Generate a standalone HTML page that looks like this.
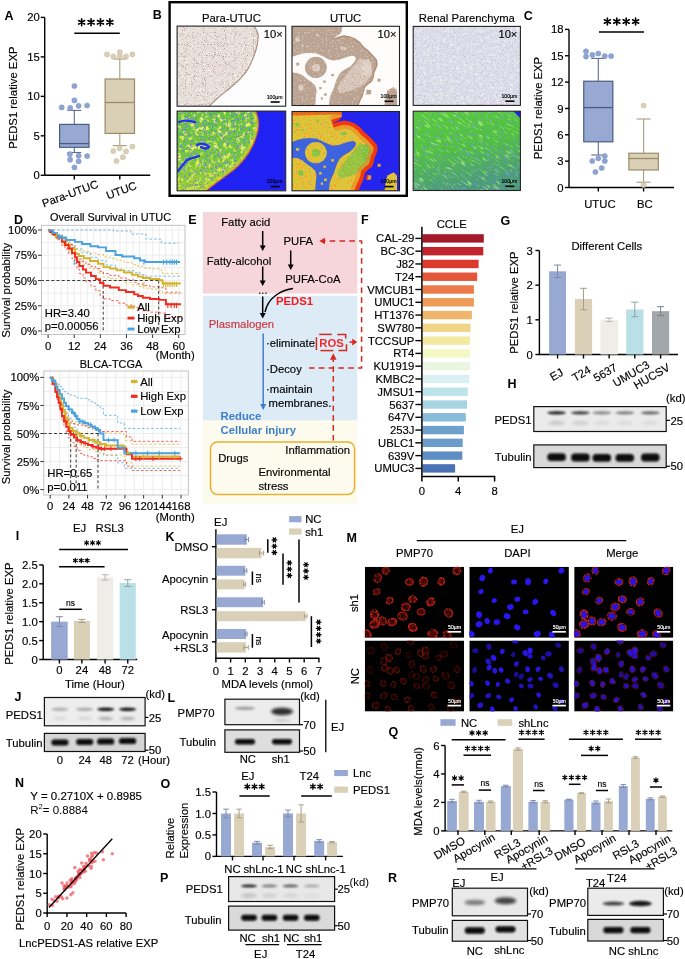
<!DOCTYPE html>
<html><head><meta charset="utf-8"><style>
html,body{margin:0;padding:0;background:#fff;}
svg{display:block;font-family:"Liberation Sans",sans-serif;will-change:transform;}
</style></head><body>
<svg width="685" height="959" viewBox="0 0 685 959">
<defs><filter id="nzBrownDark" filterUnits="userSpaceOnUse" x="0" y="0" width="685" height="959"><feTurbulence type="fractalNoise" baseFrequency="0.9" numOctaves="2" seed="3"/><feColorMatrix type="matrix" values="0 0 0 0 0.55 0 0 0 0 0.35 0 0 0 0 0.3 2.4 0 0 0 -1.05"/></filter><filter id="nzBrownLight" filterUnits="userSpaceOnUse" x="0" y="0" width="685" height="959"><feTurbulence type="fractalNoise" baseFrequency="0.35" numOctaves="2" seed="5"/><feColorMatrix type="matrix" values="0 0 0 0 0.8 0 0 0 0 0.7 0 0 0 0 0.66 2.2 0 0 0 -0.9"/></filter><filter id="nzLav" filterUnits="userSpaceOnUse" x="0" y="0" width="685" height="959"><feTurbulence type="fractalNoise" baseFrequency="0.9" numOctaves="2" seed="7"/><feColorMatrix type="matrix" values="0 0 0 0 0.45 0 0 0 0 0.48 0 0 0 0 0.72 2.2 0 0 0 -0.95"/></filter><filter id="nzWhite" filterUnits="userSpaceOnUse" x="0" y="0" width="685" height="959"><feTurbulence type="fractalNoise" baseFrequency="0.3" numOctaves="2" seed="11"/><feColorMatrix type="matrix" values="0 0 0 0 1 0 0 0 0 1 0 0 0 0 1 2.5 0 0 0 -1.1"/></filter><filter id="nzYel" filterUnits="userSpaceOnUse" x="0" y="0" width="685" height="959"><feTurbulence type="fractalNoise" baseFrequency="0.7" numOctaves="2" seed="13"/><feColorMatrix type="matrix" values="0 0 0 0 0.95 0 0 0 0 0.95 0 0 0 0 0.15 2.6 0 0 0 -1.15"/></filter><filter id="nzBlue" filterUnits="userSpaceOnUse" x="0" y="0" width="685" height="959"><feTurbulence type="fractalNoise" baseFrequency="0.6" numOctaves="2" seed="17"/><feColorMatrix type="matrix" values="0 0 0 0 0.15 0 0 0 0 0.2 0 0 0 0 0.95 2.6 0 0 0 -1.2"/></filter><filter id="nzGreen" filterUnits="userSpaceOnUse" x="0" y="0" width="685" height="959"><feTurbulence type="fractalNoise" baseFrequency="0.8" numOctaves="2" seed="19"/><feColorMatrix type="matrix" values="0 0 0 0 0.35 0 0 0 0 0.8 0 0 0 0 0.2 2.4 0 0 0 -1.05"/></filter><filter id="nzRed" filterUnits="userSpaceOnUse" x="0" y="0" width="685" height="959"><feTurbulence type="fractalNoise" baseFrequency="0.7" numOctaves="2" seed="23"/><feColorMatrix type="matrix" values="0 0 0 0 0.95 0 0 0 0 0.25 0 0 0 0 0.1 2.6 0 0 0 -1.2"/></filter><filter id="nzBlueS" filterUnits="userSpaceOnUse" x="0" y="0" width="685" height="959"><feTurbulence type="fractalNoise" baseFrequency="0.12" numOctaves="3" seed="29"/><feColorMatrix type="matrix" values="0 0 0 0 0.15 0 0 0 0 0.25 0 0 0 0 0.85 3.0 0 0 0 -1.45"/></filter><filter id="nzYelS" filterUnits="userSpaceOnUse" x="0" y="0" width="685" height="959"><feTurbulence type="fractalNoise" baseFrequency="0.1" numOctaves="3" seed="31"/><feColorMatrix type="matrix" values="0 0 0 0 0.9 0 0 0 0 0.92 0 0 0 0 0.25 3.0 0 0 0 -1.4"/></filter><filter id="cYel" filterUnits="userSpaceOnUse" x="0" y="0" width="685" height="959"><feTurbulence type="fractalNoise" baseFrequency="0.22" numOctaves="2" seed="41"/><feColorMatrix type="matrix" values="0 0 0 0 0.82 0 0 0 0 0.9 0 0 0 0 0.12 5 0 0 0 -2.5"/></filter><filter id="cBlue" filterUnits="userSpaceOnUse" x="0" y="0" width="685" height="959"><feTurbulence type="fractalNoise" baseFrequency="0.45" numOctaves="2" seed="43"/><feColorMatrix type="matrix" values="0 0 0 0 0.13 0 0 0 0 0.19 0 0 0 0 0.94 9 0 0 0 -5.3999999999999995"/></filter><filter id="cBlue2" filterUnits="userSpaceOnUse" x="0" y="0" width="685" height="959"><feTurbulence type="fractalNoise" baseFrequency="0.9" numOctaves="2" seed="45"/><feColorMatrix type="matrix" values="0 0 0 0 0.15 0 0 0 0 0.22 0 0 0 0 0.9 8 0 0 0 -4.96"/></filter><filter id="cGreen" filterUnits="userSpaceOnUse" x="0" y="0" width="685" height="959"><feTurbulence type="fractalNoise" baseFrequency="0.6" numOctaves="2" seed="47"/><feColorMatrix type="matrix" values="0 0 0 0 0.3 0 0 0 0 0.78 0 0 0 0 0.22 7 0 0 0 -3.8500000000000005"/></filter><filter id="cOr" filterUnits="userSpaceOnUse" x="0" y="0" width="685" height="959"><feTurbulence type="fractalNoise" baseFrequency="0.7" numOctaves="2" seed="49"/><feColorMatrix type="matrix" values="0 0 0 0 0.95 0 0 0 0 0.5 0 0 0 0 0.12 8 0 0 0 -5.12"/></filter><filter id="cSpeck" filterUnits="userSpaceOnUse" x="0" y="0" width="685" height="959"><feTurbulence type="fractalNoise" baseFrequency="1.1" numOctaves="1" seed="51"/><feColorMatrix type="matrix" values="0 0 0 0 0.5 0 0 0 0 0.33 0 0 0 0 0.27 6 0 0 0 -3.4799999999999995"/></filter><filter id="cSpeckW" filterUnits="userSpaceOnUse" x="0" y="0" width="685" height="959"><feTurbulence type="fractalNoise" baseFrequency="0.5" numOctaves="2" seed="53"/><feColorMatrix type="matrix" values="0 0 0 0 0.97 0 0 0 0 0.95 0 0 0 0 0.94 5 0 0 0 -2.75"/></filter><filter id="cLavS" filterUnits="userSpaceOnUse" x="0" y="0" width="685" height="959"><feTurbulence type="fractalNoise" baseFrequency="1.1" numOctaves="1" seed="55"/><feColorMatrix type="matrix" values="0 0 0 0 0.4 0 0 0 0 0.43 0 0 0 0 0.7 6 0 0 0 -3.4799999999999995"/></filter><filter id="cRenB" filterUnits="userSpaceOnUse" x="0" y="0" width="685" height="959"><feTurbulence type="fractalNoise" baseFrequency="0.18 0.9" numOctaves="2" seed="57"/><feColorMatrix type="matrix" values="0 0 0 0 0.2 0 0 0 0 0.3 0 0 0 0 0.85 6 0 0 0 -3.42"/></filter><filter id="cRenY" filterUnits="userSpaceOnUse" x="0" y="0" width="685" height="959"><feTurbulence type="fractalNoise" baseFrequency="0.12 0.7" numOctaves="2" seed="59"/><feColorMatrix type="matrix" values="0 0 0 0 0.45 0 0 0 0 0.92 0 0 0 0 0.16 5 0 0 0 -2.75"/></filter><filter id="cRed" filterUnits="userSpaceOnUse" x="0" y="0" width="685" height="959"><feTurbulence type="fractalNoise" baseFrequency="0.55" numOctaves="2" seed="61"/><feColorMatrix type="matrix" values="0 0 0 0 0.95 0 0 0 0 0.22 0 0 0 0 0.08 7 0 0 0 -4.06"/></filter><clipPath id="cp1"><rect x="177.1" y="26.1" width="108.6" height="80.1"/></clipPath><clipPath id="cpT1"><path d="M176.1 25.1 L253.12 24.50 C253.93 26.10 257.37 30.51 258.01 34.11 C258.64 37.71 257.74 42.12 256.92 46.12 C256.11 50.13 254.66 54.27 253.12 58.14 C251.58 62.01 249.86 65.88 247.69 69.35 C245.52 72.83 242.98 75.90 240.09 78.97 C237.19 82.04 233.75 84.84 230.31 87.78 C226.88 90.71 223.25 93.25 219.45 96.59 C215.65 99.93 209.50 105.93 207.51 107.80 L176.1 107.2 Z"/></clipPath><clipPath id="cp4"><rect x="177.1" y="111.1" width="108.6" height="79.70000000000002"/></clipPath><clipPath id="cpT4"><path d="M176.1 110.1 L255.29 109.51 C255.80 111.37 257.97 116.94 258.33 120.66 C258.69 124.38 258.33 127.84 257.46 131.82 C256.60 135.81 254.93 140.59 253.12 144.57 C251.31 148.56 249.14 152.15 246.60 155.73 C244.07 159.32 241.17 162.91 237.92 166.09 C234.66 169.28 230.68 172.07 227.06 174.86 C223.44 177.65 220.00 179.91 216.20 182.83 C212.40 185.75 206.24 190.80 204.25 192.39 L176.1 191.8 Z"/></clipPath><linearGradient id="gH1" x1="0" y1="0" x2="0" y2="1"><stop offset="0" stop-color="#c8e020" stop-opacity="0"/><stop offset="0.55" stop-color="#c8e020" stop-opacity="0.15"/><stop offset="1" stop-color="#d0e020" stop-opacity="0.55"/></linearGradient><filter id="blv" x="-20%" y="-20%" width="140%" height="140%"><feGaussianBlur stdDeviation="0.6"/></filter><clipPath id="cp2"><rect x="292.0" y="26.3" width="107.5" height="79.2"/></clipPath><mask id="mT2"><rect x="0" y="0" width="685" height="959" fill="#000"/><path d="M291.00 26.00 L342.07 26.00 L341.75 31.62 L339.18 34.83 L334.36 37.24 L332.43 38.53 L337.57 36.92 L344.00 35.31 L350.42 36.44 L355.24 38.53 L360.05 42.06 L364.07 46.88 L368.08 50.09 L372.90 54.91 L376.92 59.72 L377.72 64.54 L376.11 69.36 L374.51 72.57 L373.70 77.39 L372.10 81.40 L368.08 84.62 L364.87 87.83 L364.07 91.84 L362.46 96.66 L360.05 101.48 L357.65 107.90 L291.00 107.90 Z" fill="#fff"/><path d="M291.00 57.32 L297.42 54.91 L303.85 53.30 L310.27 52.98 L316.69 53.62 L323.12 56.51 L327.94 58.92 L332.75 60.53 L339.18 59.72 L344.00 58.12 L348.81 56.51 L353.63 55.71 L356.04 58.12 L355.24 60.53 L352.83 63.74 L350.42 66.15 L346.40 68.56 L342.39 70.97 L339.18 74.18 L336.77 79.00 L335.16 83.81 L333.56 88.63 L331.15 93.45 L329.54 98.27 L328.74 107.90 L315.09 107.90 L315.89 96.66 L316.69 90.24 L315.09 85.42 L311.88 82.21 L307.06 79.00 L302.24 74.98 L297.42 72.89 L291.00 72.57 Z" fill="#000"/><ellipse cx="315.89" cy="67.43" rx="10.92" ry="10.60" fill="#fff"/><path d="M387.35 90.24 L393.78 87.02 L396.99 90.24 L396.99 107.90 L384.14 107.90 L385.75 96.66 Z" fill="#fff"/><path d="M366.48 89.43 L371.30 90.24 L370.97 94.25 L366.16 94.73 Z" fill="#fff"/><path d="M377.72 78.19 L380.93 79.00 L380.29 81.89 L377.40 81.40 Z" fill="#fff"/><path d="M318.30 74.18 L320.23 74.50 L319.91 76.59 L317.98 76.10 Z" fill="#fff"/><path d="M323.12 80.60 L325.53 80.28 L326.01 82.53 L323.60 83.17 Z" fill="#fff"/><path d="M319.10 87.02 L321.51 86.70 L321.83 88.95 L319.26 89.43 Z" fill="#fff"/><path d="M323.92 93.45 L326.65 93.13 L326.97 95.54 L324.24 96.02 Z" fill="#fff"/><path d="M331.15 74.18 L333.56 73.53 L334.04 76.10 L331.47 76.59 Z" fill="#fff"/><path d="M320.71 97.46 L322.80 97.14 L322.96 99.55 L320.87 99.87 Z" fill="#fff"/><path d="M295.82 62.94 L299.03 62.61 L299.35 65.34 L296.14 65.67 Z" fill="#fff"/></mask><mask id="mT5"><rect x="0" y="0" width="685" height="959" fill="#000"/><path d="M291.00 111.20 L342.07 111.20 L341.75 116.82 L339.18 120.03 L334.36 122.44 L332.43 123.73 L337.57 122.12 L344.00 120.51 L350.42 121.64 L355.24 123.73 L360.05 127.26 L364.07 132.08 L368.08 135.29 L372.90 140.11 L376.92 144.92 L377.72 149.74 L376.11 154.56 L374.51 157.77 L373.70 162.59 L372.10 166.60 L368.08 169.82 L364.87 173.03 L364.07 177.04 L362.46 181.86 L360.05 186.68 L357.65 193.10 L291.00 193.10 Z" fill="#fff"/><path d="M291.00 142.52 L297.42 140.11 L303.85 138.50 L310.27 138.18 L316.69 138.82 L323.12 141.71 L327.94 144.12 L332.75 145.73 L339.18 144.92 L344.00 143.32 L348.81 141.71 L353.63 140.91 L356.04 143.32 L355.24 145.73 L352.83 148.94 L350.42 151.35 L346.40 153.76 L342.39 156.17 L339.18 159.38 L336.77 164.20 L335.16 169.01 L333.56 173.83 L331.15 178.65 L329.54 183.47 L328.74 193.10 L315.09 193.10 L315.89 181.86 L316.69 175.44 L315.09 170.62 L311.88 167.41 L307.06 164.20 L302.24 160.18 L297.42 158.09 L291.00 157.77 Z" fill="#000"/><ellipse cx="315.89" cy="152.63" rx="10.92" ry="10.60" fill="#fff"/><path d="M387.35 175.44 L393.78 172.22 L396.99 175.44 L396.99 193.10 L384.14 193.10 L385.75 181.86 Z" fill="#fff"/><path d="M366.48 174.63 L371.30 175.44 L370.97 179.45 L366.16 179.93 Z" fill="#fff"/><path d="M377.72 163.39 L380.93 164.20 L380.29 167.09 L377.40 166.60 Z" fill="#fff"/><path d="M318.30 159.38 L320.23 159.70 L319.91 161.79 L317.98 161.30 Z" fill="#fff"/><path d="M323.12 165.80 L325.53 165.48 L326.01 167.73 L323.60 168.37 Z" fill="#fff"/><path d="M319.10 172.22 L321.51 171.90 L321.83 174.15 L319.26 174.63 Z" fill="#fff"/><path d="M323.92 178.65 L326.65 178.33 L326.97 180.74 L324.24 181.22 Z" fill="#fff"/><path d="M331.15 159.38 L333.56 158.73 L334.04 161.30 L331.47 161.79 Z" fill="#fff"/><path d="M320.71 182.66 L322.80 182.34 L322.96 184.75 L320.87 185.07 Z" fill="#fff"/><path d="M295.82 148.14 L299.03 147.81 L299.35 150.54 L296.14 150.87 Z" fill="#fff"/></mask><clipPath id="cp5"><rect x="292.0" y="111.5" width="107.5" height="79.30000000000001"/></clipPath><clipPath id="cp3"><rect x="413.2" y="26.4" width="107.19999999999999" height="79.0"/></clipPath><clipPath id="cp6"><rect x="413.2" y="111.2" width="107.19999999999999" height="79.3"/></clipPath><linearGradient id="gRen" x1="0" y1="0" x2="0.3" y2="1"><stop offset="0" stop-color="#58cc38"/><stop offset="0.55" stop-color="#50c040"/><stop offset="1" stop-color="#4a9c78"/></linearGradient><marker id="ahB" viewBox="0 0 10 10" refX="9" refY="5" markerWidth="4.2" markerHeight="4.2" markerUnits="userSpaceOnUse" orient="auto"><path d="M0 0 L10 5 L0 10 Z" fill="#000"/></marker><filter id="bl1" x="-50%" y="-100%" width="200%" height="300%"><feGaussianBlur stdDeviation="0.9"/></filter><filter id="bl2" x="-50%" y="-100%" width="200%" height="300%"><feGaussianBlur stdDeviation="1.4"/></filter><filter id="fr1" x="-50%" y="-50%" width="200%" height="200%"><feGaussianBlur stdDeviation="0.55"/></filter><radialGradient id="rgR1"><stop offset="0" stop-color="#3a0605"/><stop offset="0.5" stop-color="#7a120c"/><stop offset="0.78" stop-color="#e02818"/><stop offset="1" stop-color="#e02818" stop-opacity="0"/></radialGradient><radialGradient id="rgR2"><stop offset="0" stop-color="#160202"/><stop offset="0.55" stop-color="#4a0a07"/><stop offset="0.82" stop-color="#921810"/><stop offset="1" stop-color="#921810" stop-opacity="0"/></radialGradient><filter id="fr2" x="-50%" y="-50%" width="200%" height="200%"><feGaussianBlur stdDeviation="0.9"/></filter><filter id="nzM" filterUnits="userSpaceOnUse" x="0" y="0" width="685" height="959"><feTurbulence type="fractalNoise" baseFrequency="0.5" numOctaves="2" seed="77"/><feColorMatrix type="matrix" values="0 0 0 0 1 0 0 0 0 1 0 0 0 0 1 3.2 0 0 0 -0.75"/></filter><mask id="mNz" maskUnits="userSpaceOnUse" x="0" y="0" width="685" height="959"><rect x="360" y="560" width="320" height="160" filter="url(#nzM)"/></mask><clipPath id="cpM00"><rect x="364.8" y="566.8" width="99.30" height="71.00"/></clipPath><clipPath id="cpM01"><rect x="469.3" y="566.8" width="99.60" height="71.00"/></clipPath><clipPath id="cpM02"><rect x="574.2" y="566.8" width="99.10" height="71.00"/></clipPath><clipPath id="cpM10"><rect x="364.8" y="640.5" width="99.30" height="71.10"/></clipPath><clipPath id="cpM11"><rect x="469.3" y="640.5" width="99.60" height="71.10"/></clipPath><clipPath id="cpM12"><rect x="574.2" y="640.5" width="99.10" height="71.10"/></clipPath></defs>
<rect width="685" height="959" fill="#fff"/>
<text x="4.50" y="19.80" font-size="12.5" text-anchor="start" font-weight="bold" fill="#000">A</text>
<line x1="44.70" y1="17.40" x2="44.70" y2="175.30" stroke="#000" stroke-width="1.4"/>
<line x1="40.70" y1="175.30" x2="44.70" y2="175.30" stroke="#000" stroke-width="1.4"/>
<text x="39.80" y="179.37" font-size="11.3" text-anchor="end" fill="#000" stroke="#000" stroke-width="0.15">0</text>
<line x1="40.70" y1="135.83" x2="44.70" y2="135.83" stroke="#000" stroke-width="1.4"/>
<text x="39.80" y="139.89" font-size="11.3" text-anchor="end" fill="#000" stroke="#000" stroke-width="0.15">5</text>
<line x1="40.70" y1="96.35" x2="44.70" y2="96.35" stroke="#000" stroke-width="1.4"/>
<text x="39.80" y="100.42" font-size="11.3" text-anchor="end" fill="#000" stroke="#000" stroke-width="0.15">10</text>
<line x1="40.70" y1="56.88" x2="44.70" y2="56.88" stroke="#000" stroke-width="1.4"/>
<text x="39.80" y="60.94" font-size="11.3" text-anchor="end" fill="#000" stroke="#000" stroke-width="0.15">15</text>
<line x1="40.70" y1="17.40" x2="44.70" y2="17.40" stroke="#000" stroke-width="1.4"/>
<text x="39.80" y="21.47" font-size="11.3" text-anchor="end" fill="#000" stroke="#000" stroke-width="0.15">20</text>
<line x1="44.70" y1="175.30" x2="150.20" y2="175.30" stroke="#000" stroke-width="1.4"/>
<line x1="74.30" y1="175.30" x2="74.30" y2="179.50" stroke="#000" stroke-width="1.4"/>
<line x1="119.80" y1="175.30" x2="119.80" y2="179.50" stroke="#000" stroke-width="1.4"/>
<text x="13.20" y="101.77" font-size="11.3" text-anchor="middle" fill="#000" stroke="#000" stroke-width="0.15" transform="rotate(-90 13.20 97.70)">PEDS1 relative EXP</text>
<text x="70.00" y="197.57" font-size="11.3" text-anchor="middle" fill="#000" stroke="#000" stroke-width="0.15" transform="rotate(-20 70.00 193.50)">Para-UTUC</text>
<text x="121.40" y="194.37" font-size="11.3" text-anchor="middle" fill="#000" stroke="#000" stroke-width="0.15" transform="rotate(-20 121.40 190.30)">UTUC</text>
<line x1="74.30" y1="33.20" x2="119.80" y2="33.20" stroke="#000" stroke-width="1.4"/>
<path transform="translate(95.75 22.30) rotate(0)" d="M-14.10 -3.50L-14.10 3.50M-17.13 -1.75L-11.07 1.75M-17.13 1.75L-11.07 -1.75M-4.70 -3.50L-4.70 3.50M-7.73 -1.75L-1.67 1.75M-7.73 1.75L-1.67 -1.75M4.70 -3.50L4.70 3.50M1.67 -1.75L7.73 1.75M1.67 1.75L7.73 -1.75M14.10 -3.50L14.10 3.50M11.07 -1.75L17.13 1.75M11.07 1.75L17.13 -1.75" stroke="#000" stroke-width="1.6" stroke-linecap="round" fill="none"/>
<line x1="74.30" y1="110.40" x2="74.30" y2="124.40" stroke="#5d6b8c" stroke-width="1.1"/>
<line x1="74.30" y1="147.30" x2="74.30" y2="152.50" stroke="#5d6b8c" stroke-width="1.1"/>
<line x1="67.30" y1="110.40" x2="81.30" y2="110.40" stroke="#5d6b8c" stroke-width="1.1"/>
<line x1="67.30" y1="152.50" x2="81.30" y2="152.50" stroke="#5d6b8c" stroke-width="1.1"/>
<rect x="59.60" y="124.40" width="29.40" height="22.90" fill="#97a9d3" stroke="#4b5b80" stroke-width="1.2"/>
<line x1="59.60" y1="143.60" x2="89.00" y2="143.60" stroke="#4b5b80" stroke-width="1.3"/>
<line x1="119.80" y1="59.00" x2="119.80" y2="79.00" stroke="#a89a78" stroke-width="1.1"/>
<line x1="119.80" y1="133.40" x2="119.80" y2="145.60" stroke="#a89a78" stroke-width="1.1"/>
<line x1="112.80" y1="59.00" x2="126.80" y2="59.00" stroke="#a89a78" stroke-width="1.1"/>
<line x1="112.80" y1="145.60" x2="126.80" y2="145.60" stroke="#a89a78" stroke-width="1.1"/>
<rect x="105.10" y="79.00" width="29.40" height="54.40" fill="#d9d0b7" stroke="#9c8b66" stroke-width="1.2"/>
<line x1="105.10" y1="102.50" x2="134.50" y2="102.50" stroke="#9c8b66" stroke-width="1.3"/>
<circle cx="74.40" cy="86.00" r="2.6" fill="#8ea3d2" stroke="#7f96c8" stroke-width="0.5"/>
<circle cx="74.40" cy="100.40" r="2.6" fill="#8ea3d2" stroke="#7f96c8" stroke-width="0.5"/>
<circle cx="61.70" cy="107.40" r="2.6" fill="#8ea3d2" stroke="#7f96c8" stroke-width="0.5"/>
<circle cx="70.20" cy="107.90" r="2.6" fill="#8ea3d2" stroke="#7f96c8" stroke-width="0.5"/>
<circle cx="78.60" cy="105.80" r="2.6" fill="#8ea3d2" stroke="#7f96c8" stroke-width="0.5"/>
<circle cx="87.10" cy="105.50" r="2.6" fill="#8ea3d2" stroke="#7f96c8" stroke-width="0.5"/>
<circle cx="69.90" cy="154.20" r="2.6" fill="#8ea3d2" stroke="#7f96c8" stroke-width="0.5"/>
<circle cx="78.60" cy="155.70" r="2.6" fill="#8ea3d2" stroke="#7f96c8" stroke-width="0.5"/>
<circle cx="87.10" cy="156.10" r="2.6" fill="#8ea3d2" stroke="#7f96c8" stroke-width="0.5"/>
<circle cx="70.10" cy="159.70" r="2.6" fill="#8ea3d2" stroke="#7f96c8" stroke-width="0.5"/>
<circle cx="78.60" cy="161.30" r="2.6" fill="#8ea3d2" stroke="#7f96c8" stroke-width="0.5"/>
<circle cx="74.50" cy="167.40" r="2.6" fill="#8ea3d2" stroke="#7f96c8" stroke-width="0.5"/>
<circle cx="107.00" cy="54.40" r="2.6" fill="#d8cfb6" stroke="#c9bd9d" stroke-width="0.5"/>
<circle cx="113.30" cy="56.40" r="2.6" fill="#d8cfb6" stroke="#c9bd9d" stroke-width="0.5"/>
<circle cx="119.80" cy="52.10" r="2.6" fill="#d8cfb6" stroke="#c9bd9d" stroke-width="0.5"/>
<circle cx="119.80" cy="56.40" r="2.6" fill="#d8cfb6" stroke="#c9bd9d" stroke-width="0.5"/>
<circle cx="126.00" cy="56.40" r="2.6" fill="#d8cfb6" stroke="#c9bd9d" stroke-width="0.5"/>
<circle cx="132.40" cy="54.40" r="2.6" fill="#d8cfb6" stroke="#c9bd9d" stroke-width="0.5"/>
<circle cx="132.40" cy="146.60" r="2.6" fill="#d8cfb6" stroke="#c9bd9d" stroke-width="0.5"/>
<circle cx="119.60" cy="148.30" r="2.6" fill="#d8cfb6" stroke="#c9bd9d" stroke-width="0.5"/>
<circle cx="113.30" cy="151.10" r="2.6" fill="#d8cfb6" stroke="#c9bd9d" stroke-width="0.5"/>
<circle cx="126.00" cy="151.40" r="2.6" fill="#d8cfb6" stroke="#c9bd9d" stroke-width="0.5"/>
<circle cx="122.80" cy="157.20" r="2.6" fill="#d8cfb6" stroke="#c9bd9d" stroke-width="0.5"/>
<circle cx="116.50" cy="161.00" r="2.6" fill="#d8cfb6" stroke="#c9bd9d" stroke-width="0.5"/>
<text x="523.80" y="20.00" font-size="12.5" text-anchor="start" font-weight="bold" fill="#000">C</text>
<line x1="569.00" y1="29.40" x2="569.00" y2="187.50" stroke="#000" stroke-width="1.4"/>
<line x1="565.00" y1="187.50" x2="569.00" y2="187.50" stroke="#000" stroke-width="1.4"/>
<text x="563.50" y="191.57" font-size="11.3" text-anchor="end" fill="#000" stroke="#000" stroke-width="0.15">0</text>
<line x1="565.00" y1="161.15" x2="569.00" y2="161.15" stroke="#000" stroke-width="1.4"/>
<text x="563.50" y="165.22" font-size="11.3" text-anchor="end" fill="#000" stroke="#000" stroke-width="0.15">3</text>
<line x1="565.00" y1="134.80" x2="569.00" y2="134.80" stroke="#000" stroke-width="1.4"/>
<text x="563.50" y="138.87" font-size="11.3" text-anchor="end" fill="#000" stroke="#000" stroke-width="0.15">6</text>
<line x1="565.00" y1="108.45" x2="569.00" y2="108.45" stroke="#000" stroke-width="1.4"/>
<text x="563.50" y="112.52" font-size="11.3" text-anchor="end" fill="#000" stroke="#000" stroke-width="0.15">9</text>
<line x1="565.00" y1="82.10" x2="569.00" y2="82.10" stroke="#000" stroke-width="1.4"/>
<text x="563.50" y="86.17" font-size="11.3" text-anchor="end" fill="#000" stroke="#000" stroke-width="0.15">12</text>
<line x1="565.00" y1="55.75" x2="569.00" y2="55.75" stroke="#000" stroke-width="1.4"/>
<text x="563.50" y="59.82" font-size="11.3" text-anchor="end" fill="#000" stroke="#000" stroke-width="0.15">15</text>
<line x1="565.00" y1="29.40" x2="569.00" y2="29.40" stroke="#000" stroke-width="1.4"/>
<text x="563.50" y="33.47" font-size="11.3" text-anchor="end" fill="#000" stroke="#000" stroke-width="0.15">18</text>
<line x1="569.00" y1="187.50" x2="674.00" y2="187.50" stroke="#000" stroke-width="1.4"/>
<line x1="598.30" y1="187.50" x2="598.30" y2="191.50" stroke="#000" stroke-width="1.4"/>
<line x1="643.60" y1="187.50" x2="643.60" y2="191.50" stroke="#000" stroke-width="1.4"/>
<text x="538.00" y="112.07" font-size="11.3" text-anchor="middle" fill="#000" stroke="#000" stroke-width="0.15" transform="rotate(-90 538.00 108.00)">PEDS1 relative EXP</text>
<text x="599.90" y="208.27" font-size="11.3" text-anchor="middle" fill="#000" stroke="#000" stroke-width="0.15">UTUC</text>
<text x="644.80" y="208.27" font-size="11.3" text-anchor="middle" fill="#000" stroke="#000" stroke-width="0.15">BC</text>
<line x1="599.00" y1="32.00" x2="644.00" y2="32.00" stroke="#000" stroke-width="1.4"/>
<path transform="translate(621.50 21.50) rotate(0)" d="M-14.10 -3.50L-14.10 3.50M-17.13 -1.75L-11.07 1.75M-17.13 1.75L-11.07 -1.75M-4.70 -3.50L-4.70 3.50M-7.73 -1.75L-1.67 1.75M-7.73 1.75L-1.67 -1.75M4.70 -3.50L4.70 3.50M1.67 -1.75L7.73 1.75M1.67 1.75L7.73 -1.75M14.10 -3.50L14.10 3.50M11.07 -1.75L17.13 1.75M11.07 1.75L17.13 -1.75" stroke="#000" stroke-width="1.6" stroke-linecap="round" fill="none"/>
<line x1="598.30" y1="58.39" x2="598.30" y2="81.22" stroke="#5d6b8c" stroke-width="1.1"/>
<line x1="598.30" y1="141.83" x2="598.30" y2="155.00" stroke="#5d6b8c" stroke-width="1.1"/>
<line x1="591.30" y1="58.39" x2="605.30" y2="58.39" stroke="#5d6b8c" stroke-width="1.1"/>
<line x1="591.30" y1="155.00" x2="605.30" y2="155.00" stroke="#5d6b8c" stroke-width="1.1"/>
<rect x="583.75" y="81.22" width="29.10" height="60.60" fill="#97a9d3" stroke="#4b5b80" stroke-width="1.2"/>
<line x1="583.75" y1="107.57" x2="612.85" y2="107.57" stroke="#4b5b80" stroke-width="1.3"/>
<line x1="643.60" y1="118.99" x2="643.60" y2="153.25" stroke="#a89a78" stroke-width="1.1"/>
<line x1="643.60" y1="169.93" x2="643.60" y2="182.23" stroke="#a89a78" stroke-width="1.1"/>
<line x1="636.60" y1="118.99" x2="650.60" y2="118.99" stroke="#a89a78" stroke-width="1.1"/>
<line x1="636.60" y1="182.23" x2="650.60" y2="182.23" stroke="#a89a78" stroke-width="1.1"/>
<rect x="628.85" y="153.25" width="29.50" height="16.69" fill="#d9d0b7" stroke="#9c8b66" stroke-width="1.2"/>
<line x1="628.85" y1="158.52" x2="658.35" y2="158.52" stroke="#9c8b66" stroke-width="1.3"/>
<circle cx="586.00" cy="51.30" r="2.6" fill="#8ea3d2" stroke="#7f96c8" stroke-width="0.5"/>
<circle cx="586.00" cy="56.60" r="2.6" fill="#8ea3d2" stroke="#7f96c8" stroke-width="0.5"/>
<circle cx="592.30" cy="54.90" r="2.6" fill="#8ea3d2" stroke="#7f96c8" stroke-width="0.5"/>
<circle cx="598.30" cy="53.50" r="2.6" fill="#8ea3d2" stroke="#7f96c8" stroke-width="0.5"/>
<circle cx="604.80" cy="56.10" r="2.6" fill="#8ea3d2" stroke="#7f96c8" stroke-width="0.5"/>
<circle cx="611.10" cy="56.10" r="2.6" fill="#8ea3d2" stroke="#7f96c8" stroke-width="0.5"/>
<circle cx="604.80" cy="156.10" r="2.6" fill="#8ea3d2" stroke="#7f96c8" stroke-width="0.5"/>
<circle cx="598.30" cy="158.30" r="2.6" fill="#8ea3d2" stroke="#7f96c8" stroke-width="0.5"/>
<circle cx="592.30" cy="161.00" r="2.6" fill="#8ea3d2" stroke="#7f96c8" stroke-width="0.5"/>
<circle cx="604.80" cy="161.00" r="2.6" fill="#8ea3d2" stroke="#7f96c8" stroke-width="0.5"/>
<circle cx="601.70" cy="168.00" r="2.6" fill="#8ea3d2" stroke="#7f96c8" stroke-width="0.5"/>
<circle cx="595.40" cy="172.00" r="2.6" fill="#8ea3d2" stroke="#7f96c8" stroke-width="0.5"/>
<circle cx="643.60" cy="105.50" r="2.6" fill="#d8cfb6" stroke="#c9bd9d" stroke-width="0.5"/>
<circle cx="643.60" cy="185.00" r="2.6" fill="#d8cfb6" stroke="#c9bd9d" stroke-width="0.5"/>
<text x="152.80" y="19.10" font-size="12.5" text-anchor="start" font-weight="bold" fill="#000">B</text>
<rect x="169.60" y="2.20" width="237.20" height="193.60" fill="none" stroke="#000" stroke-width="2.4"/>
<text x="231.40" y="21.57" font-size="11.3" text-anchor="middle" fill="#000" stroke="#000" stroke-width="0.15">Para-UTUC</text>
<text x="345.60" y="21.57" font-size="11.3" text-anchor="middle" fill="#000" stroke="#000" stroke-width="0.15">UTUC</text>
<text x="466.80" y="21.57" font-size="11.3" text-anchor="middle" fill="#000" stroke="#000" stroke-width="0.15">Renal Parenchyma</text>
<g clip-path="url(#cp1)">
<rect x="177.10" y="26.10" width="108.60" height="80.10" fill="#fdfcfc" stroke="none" stroke-width="1"/>
<path d="M176.1 25.1 L253.12 24.50 C253.93 26.10 257.37 30.51 258.01 34.11 C258.64 37.71 257.74 42.12 256.92 46.12 C256.11 50.13 254.66 54.27 253.12 58.14 C251.58 62.01 249.86 65.88 247.69 69.35 C245.52 72.83 242.98 75.90 240.09 78.97 C237.19 82.04 233.75 84.84 230.31 87.78 C226.88 90.71 223.25 93.25 219.45 96.59 C215.65 99.93 209.50 105.93 207.51 107.80 L176.1 107.2 Z" fill="#e7dfda" stroke="none" stroke-width="0"/>
<g clip-path="url(#cpT1)"><rect x="177.1" y="26.1" width="108.6" height="80.1" filter="url(#cSpeckW)" opacity="0.7"/><rect x="177.1" y="26.1" width="108.6" height="80.1" filter="url(#cSpeck)"/></g>
<path d="M253.12 24.50 C253.93 26.10 257.37 30.51 258.01 34.11 C258.64 37.71 257.74 42.12 256.92 46.12 C256.11 50.13 254.66 54.27 253.12 58.14 C251.58 62.01 249.86 65.88 247.69 69.35 C245.52 72.83 242.98 75.90 240.09 78.97 C237.19 82.04 233.75 84.84 230.31 87.78 C226.88 90.71 223.25 93.25 219.45 96.59 C215.65 99.93 209.50 105.93 207.51 107.80" fill="none" stroke="#a88a78" stroke-width="1.1"/>
</g>
<rect x="177.10" y="26.10" width="108.60" height="80.10" fill="none" stroke="#222" stroke-width="1.1"/>
<text x="282.70" y="37.73" font-size="11.2" text-anchor="end" fill="#000" stroke="#000" stroke-width="0.15">10×</text>
<text x="274.70" y="98.87" font-size="5.2" text-anchor="middle" fill="#000" stroke="#000" stroke-width="0.15">100μm</text>
<line x1="270.70" y1="102.00" x2="279.70" y2="102.00" stroke="#000" stroke-width="1.6"/>
<g clip-path="url(#cp4)">
<rect x="177.10" y="111.10" width="108.60" height="79.70" fill="#1f22f2" stroke="none" stroke-width="1"/>
<path d="M176.1 110.1 L255.29 109.51 C255.80 111.37 257.97 116.94 258.33 120.66 C258.69 124.38 258.33 127.84 257.46 131.82 C256.60 135.81 254.93 140.59 253.12 144.57 C251.31 148.56 249.14 152.15 246.60 155.73 C244.07 159.32 241.17 162.91 237.92 166.09 C234.66 169.28 230.68 172.07 227.06 174.86 C223.44 177.65 220.00 179.91 216.20 182.83 C212.40 185.75 206.24 190.80 204.25 192.39 L176.1 191.8 Z" fill="#62c63a" stroke="none" stroke-width="0"/>
<g clip-path="url(#cpT4)"><rect x="177.1" y="111.1" width="108.6" height="79.70000000000002" filter="url(#cYel)"/><rect x="177.1" y="111.1" width="108.6" height="79.70000000000002" fill="url(#gH1)"/><rect x="177.1" y="111.1" width="108.6" height="79.70000000000002" filter="url(#cBlue)" opacity="0.85"/><rect x="177.1" y="111.1" width="54.3" height="39.85000000000001" filter="url(#cBlue2)" opacity="0.7"/><rect x="177.1" y="150.95" width="108.6" height="39.85000000000001" filter="url(#cBlue2)" opacity="0.3"/><rect x="177.1" y="111.1" width="108.6" height="79.70000000000002" filter="url(#cOr)" opacity="0.5"/><path d="M255.29 109.51 C255.80 111.37 257.97 116.94 258.33 120.66 C258.69 124.38 258.33 127.84 257.46 131.82 C256.60 135.81 254.93 140.59 253.12 144.57 C251.31 148.56 249.14 152.15 246.60 155.73 C244.07 159.32 241.17 162.91 237.92 166.09 C234.66 169.28 230.68 172.07 227.06 174.86 C223.44 177.65 220.00 179.91 216.20 182.83 C212.40 185.75 206.24 190.80 204.25 192.39" stroke="#d8d828" stroke-width="8" fill="none" opacity="0.5"/><g filter="url(#blv)" stroke="#2430f0" fill="none" stroke-linecap="round"><path d="M179.1 122.1 C185.1 119.1 191.1 121.1 195.1 122.1" stroke-width="2.2"/><path d="M197.1 145.1 C201.1 142.1 206.1 144.1 209.1 147.1 C207.1 149.1 203.1 148.1 201.1 147.1" stroke-width="2.4"/><path d="M178.1 171.1 C181.1 167.1 184.1 163.1 187.1 160.1 C191.1 158.1 195.1 157.1 199.1 156.1" stroke-width="2.2"/></g></g>
<path d="M255.29 109.51 C255.80 111.37 257.97 116.94 258.33 120.66 C258.69 124.38 258.33 127.84 257.46 131.82 C256.60 135.81 254.93 140.59 253.12 144.57 C251.31 148.56 249.14 152.15 246.60 155.73 C244.07 159.32 241.17 162.91 237.92 166.09 C234.66 169.28 230.68 172.07 227.06 174.86 C223.44 177.65 220.00 179.91 216.20 182.83 C212.40 185.75 206.24 190.80 204.25 192.39" fill="none" stroke="#f05a18" stroke-width="1.5" stroke-dasharray="1.6 0.8"/>
</g>
<rect x="177.10" y="111.10" width="108.60" height="79.70" fill="none" stroke="#222" stroke-width="1.1"/>
<text x="274.70" y="183.47" font-size="5.2" text-anchor="middle" fill="#000" stroke="#000" stroke-width="0.15">100μm</text>
<line x1="270.70" y1="186.60" x2="279.70" y2="186.60" stroke="#000" stroke-width="1.6"/>
<g clip-path="url(#cp2)">
<rect x="292.00" y="26.30" width="107.50" height="79.20" fill="#fdfcfb" stroke="none" stroke-width="1"/>
<g mask="url(#mT2)"><rect x="292.0" y="26.3" width="107.5" height="79.2" fill="#bba392"/><ellipse cx="343.67" cy="48.48" rx="3.21" ry="1.45" fill="#e2d4c8" opacity="0.9"/><ellipse cx="297.42" cy="39.65" rx="2.25" ry="2.25" fill="#e2d4c8" opacity="0.9"/><ellipse cx="317.50" cy="35.31" rx="1.61" ry="1.12" fill="#e2d4c8" opacity="0.9"/><ellipse cx="302.24" cy="45.27" rx="1.28" ry="0.96" fill="#e2d4c8" opacity="0.9"/><ellipse cx="315.89" cy="67.75" rx="4.18" ry="3.85" fill="#e2d4c8" opacity="0.9"/><ellipse cx="300.96" cy="87.83" rx="2.57" ry="3.05" fill="#e2d4c8" opacity="0.9"/><ellipse cx="366.48" cy="67.75" rx="4.82" ry="8.83" fill="#e2d4c8" opacity="0.9"/><path d="M360.05 58.12 L371.30 62.13 L372.10 74.18 L364.87 83.81 L352.02 90.24 L339.18 93.45 L337.57 87.02 L344.00 77.39 Z" fill="#e2d4c8" opacity="0.7200000000000001"/><rect x="292.0" y="26.3" width="107.5" height="79.2" filter="url(#cSpeckW)" opacity="0.35"/><rect x="292.0" y="26.3" width="107.5" height="79.2" filter="url(#cSpeck)" opacity="0.8"/><path d="M332.43 38.53 L337.57 36.92 L344.00 35.31 L350.42 36.44 L355.24 38.53 L360.05 42.06 L364.07 46.88 L368.08 50.09 L372.90 54.91 L376.92 59.72 L377.72 64.54 L376.11 69.36 L374.51 72.57 L373.70 77.39 L372.10 81.40 L368.08 84.62 L364.87 87.83 L364.07 91.84 L362.46 96.66 L360.05 101.48 L357.65 107.90" fill="none" stroke="#a87e62" stroke-width="2.2" opacity="0.8"/></g>
</g>
<rect x="292.00" y="26.30" width="107.50" height="79.20" fill="none" stroke="#222" stroke-width="1.1"/>
<text x="396.50" y="37.73" font-size="11.2" text-anchor="end" fill="#000" stroke="#000" stroke-width="0.15">10×</text>
<text x="388.50" y="98.17" font-size="5.2" text-anchor="middle" fill="#000" stroke="#000" stroke-width="0.15">100μm</text>
<line x1="384.50" y1="101.30" x2="393.50" y2="101.30" stroke="#000" stroke-width="1.6"/>
<g clip-path="url(#cp5)">
<rect x="292.00" y="111.50" width="107.50" height="79.30" fill="#2424ee" stroke="none" stroke-width="1"/>
<path d="M291.00 142.52 L297.42 140.11 L303.85 138.50 L310.27 138.18 L316.69 138.82 L323.12 141.71 L327.94 144.12 L332.75 145.73 L339.18 144.92 L344.00 143.32 L348.81 141.71 L353.63 140.91 L356.04 143.32 L355.24 145.73 L352.83 148.94 L350.42 151.35 L346.40 153.76 L342.39 156.17 L339.18 159.38 L336.77 164.20 L335.16 169.01 L333.56 173.83 L331.15 178.65 L329.54 183.47 L328.74 193.10 L315.09 193.10 L315.89 181.86 L316.69 175.44 L315.09 170.62 L311.88 167.41 L307.06 164.20 L302.24 160.18 L297.42 158.09 L291.00 157.77 Z" fill="#3d63de" stroke="none" stroke-width="0"/>
<g mask="url(#mT5)"><rect x="292.0" y="111.5" width="107.5" height="79.30000000000001" fill="#e6c22a"/><rect x="292.0" y="111.5" width="107.5" height="79.30000000000001" filter="url(#cOr)" opacity="0.8"/><rect x="292.0" y="111.5" width="107.5" height="79.30000000000001" filter="url(#cRed)" opacity="0.75"/><ellipse cx="343.67" cy="133.68" rx="3.21" ry="1.45" fill="#7cc040" opacity="0.9"/><ellipse cx="297.42" cy="124.85" rx="2.25" ry="2.25" fill="#7cc040" opacity="0.9"/><ellipse cx="317.50" cy="120.51" rx="1.61" ry="1.12" fill="#7cc040" opacity="0.9"/><ellipse cx="302.24" cy="130.47" rx="1.28" ry="0.96" fill="#7cc040" opacity="0.9"/><ellipse cx="315.89" cy="152.95" rx="4.18" ry="3.85" fill="#7cc040" opacity="0.9"/><ellipse cx="300.96" cy="173.03" rx="2.57" ry="3.05" fill="#7cc040" opacity="0.9"/><ellipse cx="366.48" cy="152.95" rx="4.82" ry="8.83" fill="#7cc040" opacity="0.9"/><path d="M360.05 143.32 L371.30 147.33 L372.10 159.38 L364.87 169.01 L352.02 175.44 L339.18 178.65 L337.57 172.22 L344.00 162.59 Z" fill="#7cc040" opacity="0.7200000000000001"/><rect x="292.0" y="111.5" width="107.5" height="79.30000000000001" filter="url(#cGreen)" opacity="0.6"/><path d="M332.43 123.73 L337.57 122.12 L344.00 120.51 L350.42 121.64 L355.24 123.73 L360.05 127.26 L364.07 132.08 L368.08 135.29 L372.90 140.11 L376.92 144.92 L377.72 149.74 L376.11 154.56 L374.51 157.77 L373.70 162.59 L372.10 166.60 L368.08 169.82 L364.87 173.03 L364.07 177.04 L362.46 181.86 L360.05 186.68 L357.65 193.10" fill="none" stroke="#f08020" stroke-width="16" opacity="0.55"/><path d="M332.43 123.73 L337.57 122.12 L344.00 120.51 L350.42 121.64 L355.24 123.73 L360.05 127.26 L364.07 132.08 L368.08 135.29 L372.90 140.11 L376.92 144.92 L377.72 149.74 L376.11 154.56 L374.51 157.77 L373.70 162.59 L372.10 166.60 L368.08 169.82 L364.87 173.03 L364.07 177.04 L362.46 181.86 L360.05 186.68 L357.65 193.10" fill="none" stroke="#f2380e" stroke-width="8"/><path d="M292.0 111.5 L342.0 111.5 L342.0 114.5 L292.0 115.5 Z" fill="#f04a14" opacity="0.7"/></g>
</g>
<rect x="292.00" y="111.50" width="107.50" height="79.30" fill="none" stroke="#222" stroke-width="1.1"/>
<text x="388.50" y="183.47" font-size="5.2" text-anchor="middle" fill="#000" stroke="#000" stroke-width="0.15">100μm</text>
<line x1="384.50" y1="186.60" x2="393.50" y2="186.60" stroke="#000" stroke-width="1.6"/>
<g clip-path="url(#cp3)">
<rect x="413.20" y="26.40" width="107.20" height="79.00" fill="#e2e1e8" stroke="none" stroke-width="1"/>
<rect x="413.2" y="26.4" width="107.19999999999999" height="79.0" filter="url(#nzLav)"/><rect x="413.2" y="26.4" width="107.19999999999999" height="79.0" filter="url(#nzWhite)" opacity="0.5"/>
<path d="M514.4 26.4 L520.4 26.4 L520.4 32.4 Z" fill="#f4efe8" stroke="none" stroke-width="0"/>
</g>
<rect x="413.20" y="26.40" width="107.20" height="79.00" fill="none" stroke="#222" stroke-width="1.1"/>
<text x="517.40" y="37.83" font-size="11.2" text-anchor="end" fill="#000" stroke="#000" stroke-width="0.15">10×</text>
<text x="509.40" y="98.07" font-size="5.2" text-anchor="middle" fill="#000" stroke="#000" stroke-width="0.15">100μm</text>
<line x1="505.40" y1="101.20" x2="514.40" y2="101.20" stroke="#000" stroke-width="1.6"/>
<g clip-path="url(#cp6)">
<rect x="413.20" y="111.20" width="107.20" height="79.30" fill="url(#gRen)" stroke="none" stroke-width="1"/>
<g transform="rotate(35 466.8 150.8)"><rect x="376.8" y="60.8" width="180" height="180" filter="url(#cRenY)" opacity="0.8"/><rect x="376.8" y="60.8" width="180" height="180" filter="url(#cRenB)" opacity="0.75"/></g><rect x="413.2" y="111.2" width="107.19999999999999" height="79.3" filter="url(#cBlue2)" opacity="0.45"/>
<path d="M513.4 111.2 L520.4 111.2 L520.4 118.2 Z" fill="#2020f0" stroke="none" stroke-width="0"/>
</g>
<rect x="413.20" y="111.20" width="107.20" height="79.30" fill="none" stroke="#222" stroke-width="1.1"/>
<text x="509.40" y="183.17" font-size="5.2" text-anchor="middle" fill="#000" stroke="#000" stroke-width="0.15">100μm</text>
<line x1="505.40" y1="186.30" x2="514.40" y2="186.30" stroke="#000" stroke-width="1.6"/>
<text x="14.00" y="223.80" font-size="12.5" text-anchor="start" font-weight="bold" fill="#000">D</text>
<text x="110.50" y="221.12" font-size="10.9" text-anchor="middle" fill="#000" stroke="#000" stroke-width="0.15">Overall Survival in UTUC</text>
<rect x="41.50" y="225.30" width="143.50" height="109.20" fill="#fff" stroke="none" stroke-width="1"/>
<line x1="48.10" y1="225.30" x2="48.10" y2="334.50" stroke="#ebebeb" stroke-width="0.9"/>
<line x1="54.63" y1="225.30" x2="54.63" y2="334.50" stroke="#ebebeb" stroke-width="0.9"/>
<line x1="61.16" y1="225.30" x2="61.16" y2="334.50" stroke="#ebebeb" stroke-width="0.9"/>
<line x1="67.69" y1="225.30" x2="67.69" y2="334.50" stroke="#ebebeb" stroke-width="0.9"/>
<line x1="74.22" y1="225.30" x2="74.22" y2="334.50" stroke="#ebebeb" stroke-width="0.9"/>
<line x1="80.75" y1="225.30" x2="80.75" y2="334.50" stroke="#ebebeb" stroke-width="0.9"/>
<line x1="87.29" y1="225.30" x2="87.29" y2="334.50" stroke="#ebebeb" stroke-width="0.9"/>
<line x1="93.82" y1="225.30" x2="93.82" y2="334.50" stroke="#ebebeb" stroke-width="0.9"/>
<line x1="100.35" y1="225.30" x2="100.35" y2="334.50" stroke="#ebebeb" stroke-width="0.9"/>
<line x1="106.88" y1="225.30" x2="106.88" y2="334.50" stroke="#ebebeb" stroke-width="0.9"/>
<line x1="113.41" y1="225.30" x2="113.41" y2="334.50" stroke="#ebebeb" stroke-width="0.9"/>
<line x1="119.94" y1="225.30" x2="119.94" y2="334.50" stroke="#ebebeb" stroke-width="0.9"/>
<line x1="126.47" y1="225.30" x2="126.47" y2="334.50" stroke="#ebebeb" stroke-width="0.9"/>
<line x1="133.00" y1="225.30" x2="133.00" y2="334.50" stroke="#ebebeb" stroke-width="0.9"/>
<line x1="139.53" y1="225.30" x2="139.53" y2="334.50" stroke="#ebebeb" stroke-width="0.9"/>
<line x1="146.06" y1="225.30" x2="146.06" y2="334.50" stroke="#ebebeb" stroke-width="0.9"/>
<line x1="152.60" y1="225.30" x2="152.60" y2="334.50" stroke="#ebebeb" stroke-width="0.9"/>
<line x1="159.13" y1="225.30" x2="159.13" y2="334.50" stroke="#ebebeb" stroke-width="0.9"/>
<line x1="165.66" y1="225.30" x2="165.66" y2="334.50" stroke="#ebebeb" stroke-width="0.9"/>
<line x1="172.19" y1="225.30" x2="172.19" y2="334.50" stroke="#ebebeb" stroke-width="0.9"/>
<line x1="178.72" y1="225.30" x2="178.72" y2="334.50" stroke="#ebebeb" stroke-width="0.9"/>
<line x1="41.50" y1="331.00" x2="185.00" y2="331.00" stroke="#ebebeb" stroke-width="0.9"/>
<line x1="41.50" y1="318.38" x2="185.00" y2="318.38" stroke="#ebebeb" stroke-width="0.9"/>
<line x1="41.50" y1="305.75" x2="185.00" y2="305.75" stroke="#ebebeb" stroke-width="0.9"/>
<line x1="41.50" y1="293.12" x2="185.00" y2="293.12" stroke="#ebebeb" stroke-width="0.9"/>
<line x1="41.50" y1="280.50" x2="185.00" y2="280.50" stroke="#ebebeb" stroke-width="0.9"/>
<line x1="41.50" y1="267.88" x2="185.00" y2="267.88" stroke="#ebebeb" stroke-width="0.9"/>
<line x1="41.50" y1="255.25" x2="185.00" y2="255.25" stroke="#ebebeb" stroke-width="0.9"/>
<line x1="41.50" y1="242.62" x2="185.00" y2="242.62" stroke="#ebebeb" stroke-width="0.9"/>
<line x1="41.50" y1="230.00" x2="185.00" y2="230.00" stroke="#ebebeb" stroke-width="0.9"/>
<path d="M48.10 230.00 L91.64 230.00 L91.64 230.00 L113.41 230.00 L113.41 231.01 L130.83 231.01 L130.83 234.04 L146.06 234.04 L146.06 239.09 L161.30 239.09 L161.30 243.13 L178.72 243.13 L178.72 243.13" fill="none" stroke="#4aa3e0" stroke-width="0.85" stroke-dasharray="2.6 2" opacity="0.85"/>
<path d="M48.10 230.40 L53.00 230.40 L53.00 234.27 L57.00 234.27 L57.00 237.81 L59.70 237.81 L59.70 240.51 L66.00 240.51 L66.00 244.65 L75.00 244.65 L75.00 248.89 L82.00 248.89 L82.00 252.81 L90.40 252.81 L90.40 257.29 L98.00 257.29 L98.00 260.36 L106.00 260.36 L106.00 265.14 L115.50 265.14 L115.50 269.14 L122.00 269.14 L122.00 270.64 L134.20 270.64 L134.20 272.44 L140.00 272.44 L140.00 274.64 L145.10 274.64 L145.10 276.14 L180.10 276.14 L180.10 276.14" fill="none" stroke="#4aa3e0" stroke-width="0.85" stroke-dasharray="2.6 2" opacity="0.85"/>
<path d="M48.10 230.40 L52.00 230.40 L52.00 233.28 L56.00 233.28 L56.00 235.53 L61.90 235.53 L61.90 238.24 L66.00 238.24 L66.00 241.68 L70.00 241.68 L70.00 244.94 L75.00 244.94 L75.00 248.91 L79.00 248.91 L79.00 250.27 L83.80 250.27 L83.80 251.67 L90.00 251.67 L90.00 253.22 L98.00 253.22 L98.00 254.54 L103.50 254.54 L103.50 257.00 L110.00 257.00 L110.00 258.40 L116.60 258.40 L116.60 260.30 L124.00 260.30 L124.00 262.40 L132.00 262.40 L132.00 264.60 L138.00 264.60 L138.00 266.40 L142.90 266.40 L142.90 267.90 L150.00 267.90 L150.00 268.90 L159.30 268.90 L159.30 270.10 L162.60 270.10 L162.60 273.40 L180.10 273.40 L180.10 274.10" fill="none" stroke="#d4b42a" stroke-width="0.85" stroke-dasharray="2.6 2" opacity="0.85"/>
<path d="M48.10 230.40 L52.00 230.40 L52.00 234.72 L56.00 234.72 L56.00 238.47 L61.90 238.47 L61.90 243.36 L66.00 243.36 L66.00 248.32 L70.00 248.32 L70.00 253.06 L75.00 253.06 L75.00 258.89 L79.00 258.89 L79.00 261.73 L83.80 261.73 L83.80 264.93 L90.00 264.93 L90.00 268.78 L98.00 268.78 L98.00 273.06 L103.50 273.06 L103.50 277.20 L110.00 277.20 L110.00 278.60 L116.60 278.60 L116.60 280.50 L124.00 280.50 L124.00 282.60 L132.00 282.60 L132.00 284.80 L138.00 284.80 L138.00 286.60 L142.90 286.60 L142.90 288.10 L150.00 288.10 L150.00 289.10 L159.30 289.10 L159.30 290.30 L162.60 290.30 L162.60 293.60 L180.10 293.60 L180.10 294.30" fill="none" stroke="#d4b42a" stroke-width="0.85" stroke-dasharray="2.6 2" opacity="0.85"/>
<path d="M48.10 230.40 L50.00 230.40 L50.00 231.58 L53.10 231.58 L53.10 233.09 L57.00 233.09 L57.00 235.52 L61.90 235.52 L61.90 238.83 L65.00 238.83 L65.00 241.24 L68.50 241.24 L68.50 243.96 L72.00 243.96 L72.00 247.68 L75.00 247.68 L75.00 251.21 L77.00 251.21 L77.00 255.56 L79.40 255.56 L79.40 259.03 L83.00 259.03 L83.00 261.73 L86.00 261.73 L86.00 264.16 L91.00 264.16 L91.00 266.45 L95.80 266.45 L95.80 268.48 L100.00 268.48 L100.00 271.44 L103.50 271.44 L103.50 273.58 L110.00 273.58 L110.00 275.38 L118.80 275.38 L118.80 277.98 L126.00 277.98 L126.00 279.88 L134.20 279.88 L134.20 282.28 L138.00 282.28 L138.00 283.88 L142.90 283.88 L142.90 285.58 L150.00 285.58 L150.00 286.88 L159.30 286.88 L159.30 287.78 L165.90 287.78 L165.90 292.18 L180.10 292.18 L180.10 292.88" fill="none" stroke="#f22a1e" stroke-width="0.85" stroke-dasharray="2.6 2" opacity="0.85"/>
<path d="M48.10 230.40 L50.00 230.40 L50.00 232.46 L53.10 232.46 L53.10 235.41 L57.00 235.41 L57.00 239.65 L61.90 239.65 L61.90 245.23 L65.00 245.23 L65.00 249.08 L68.50 249.08 L68.50 253.42 L72.00 253.42 L72.00 258.77 L75.00 258.77 L75.00 263.69 L77.00 263.69 L77.00 268.97 L79.40 268.97 L79.40 273.55 L83.00 273.55 L83.00 277.92 L86.00 277.92 L86.00 281.74 L91.00 281.74 L91.00 286.35 L95.80 286.35 L95.80 290.61 L100.00 290.61 L100.00 295.52 L103.50 295.52 L103.50 298.83 L110.00 298.83 L110.00 300.63 L118.80 300.63 L118.80 303.23 L126.00 303.23 L126.00 305.13 L134.20 305.13 L134.20 307.53 L138.00 307.53 L138.00 309.13 L142.90 309.13 L142.90 310.83 L150.00 310.83 L150.00 312.13 L159.30 312.13 L159.30 313.03 L165.90 313.03 L165.90 317.43 L180.10 317.43 L180.10 318.13" fill="none" stroke="#f22a1e" stroke-width="0.85" stroke-dasharray="2.6 2" opacity="0.85"/>
<path d="M40.92 280.50 L158.69 280.50" fill="none" stroke="#222" stroke-width="0.9" stroke-dasharray="3 2.2"/>
<path d="M103.18 280.50 L103.18 331.00" fill="none" stroke="#222" stroke-width="0.9" stroke-dasharray="3 2.2"/>
<path d="M158.69 280.50 L158.69 331.00" fill="none" stroke="#222" stroke-width="0.9" stroke-dasharray="3 2.2"/>
<path d="M48.10 230.40 L52.00 230.40 L52.00 234.00 L56.00 234.00 L56.00 237.00 L61.90 237.00 L61.90 240.80 L66.00 240.80 L66.00 245.00 L70.00 245.00 L70.00 249.00 L75.00 249.00 L75.00 253.90 L79.00 253.90 L79.00 256.00 L83.80 256.00 L83.80 258.30 L90.00 258.30 L90.00 261.00 L98.00 261.00 L98.00 263.80 L103.50 263.80 L103.50 267.10 L110.00 267.10 L110.00 268.50 L116.60 268.50 L116.60 270.40 L124.00 270.40 L124.00 272.50 L132.00 272.50 L132.00 274.70 L138.00 274.70 L138.00 276.50 L142.90 276.50 L142.90 278.00 L150.00 278.00 L150.00 279.00 L159.30 279.00 L159.30 280.20 L162.60 280.20 L162.60 283.50 L180.10 283.50 L180.10 284.20" fill="none" stroke="#d4b42a" stroke-width="1.9"/>
<path d="M48.10 230.40 L50.00 230.40 L50.00 232.00 L53.10 232.00 L53.10 234.20 L57.00 234.20 L57.00 237.50 L61.90 237.50 L61.90 241.90 L65.00 241.90 L65.00 245.00 L68.50 245.00 L68.50 248.50 L72.00 248.50 L72.00 253.00 L75.00 253.00 L75.00 257.20 L77.00 257.20 L77.00 262.00 L79.40 262.00 L79.40 266.00 L83.00 266.00 L83.00 269.50 L86.00 269.50 L86.00 272.60 L91.00 272.60 L91.00 276.00 L95.80 276.00 L95.80 279.10 L100.00 279.10 L100.00 283.00 L103.50 283.00 L103.50 285.70 L110.00 285.70 L110.00 287.50 L118.80 287.50 L118.80 290.10 L126.00 290.10 L126.00 292.00 L134.20 292.00 L134.20 294.40 L138.00 294.40 L138.00 296.00 L142.90 296.00 L142.90 297.70 L150.00 297.70 L150.00 299.00 L159.30 299.00 L159.30 299.90 L165.90 299.90 L165.90 304.30 L180.10 304.30 L180.10 305.00" fill="none" stroke="#f22a1e" stroke-width="1.9"/>
<path d="M48.10 230.40 L53.00 230.40 L53.00 233.00 L57.00 233.00 L57.00 235.50 L59.70 235.50 L59.70 237.50 L66.00 237.50 L66.00 240.00 L75.00 240.00 L75.00 241.90 L82.00 241.90 L82.00 244.00 L90.40 244.00 L90.40 246.30 L98.00 246.30 L98.00 247.40 L106.00 247.40 L106.00 251.00 L115.50 251.00 L115.50 255.00 L122.00 255.00 L122.00 256.50 L134.20 256.50 L134.20 258.30 L140.00 258.30 L140.00 260.50 L145.10 260.50 L145.10 262.00 L180.10 262.00 L180.10 262.00" fill="none" stroke="#4aa3e0" stroke-width="1.9"/>
<line x1="74.22" y1="259.52" x2="74.22" y2="264.72" stroke="#4aa3e0" stroke-width="1.1"/>
<line x1="143.89" y1="259.52" x2="143.89" y2="264.72" stroke="#4aa3e0" stroke-width="1.1"/>
<line x1="163.48" y1="259.52" x2="163.48" y2="264.72" stroke="#4aa3e0" stroke-width="1.1"/>
<line x1="166.75" y1="259.52" x2="166.75" y2="264.72" stroke="#4aa3e0" stroke-width="1.1"/>
<line x1="170.01" y1="259.52" x2="170.01" y2="264.72" stroke="#4aa3e0" stroke-width="1.1"/>
<line x1="172.19" y1="259.52" x2="172.19" y2="264.72" stroke="#4aa3e0" stroke-width="1.1"/>
<line x1="174.37" y1="259.52" x2="174.37" y2="264.72" stroke="#4aa3e0" stroke-width="1.1"/>
<line x1="176.54" y1="259.52" x2="176.54" y2="264.72" stroke="#4aa3e0" stroke-width="1.1"/>
<line x1="143.89" y1="281.74" x2="143.89" y2="286.94" stroke="#d4b42a" stroke-width="1.1"/>
<line x1="163.48" y1="281.74" x2="163.48" y2="286.94" stroke="#d4b42a" stroke-width="1.1"/>
<line x1="165.66" y1="281.74" x2="165.66" y2="286.94" stroke="#d4b42a" stroke-width="1.1"/>
<line x1="167.84" y1="281.74" x2="167.84" y2="286.94" stroke="#d4b42a" stroke-width="1.1"/>
<line x1="170.01" y1="281.74" x2="170.01" y2="286.94" stroke="#d4b42a" stroke-width="1.1"/>
<line x1="172.19" y1="281.74" x2="172.19" y2="286.94" stroke="#d4b42a" stroke-width="1.1"/>
<line x1="174.37" y1="281.74" x2="174.37" y2="286.94" stroke="#d4b42a" stroke-width="1.1"/>
<line x1="176.54" y1="281.74" x2="176.54" y2="286.94" stroke="#d4b42a" stroke-width="1.1"/>
<line x1="167.84" y1="302.75" x2="167.84" y2="307.95" stroke="#f22a1e" stroke-width="1.1"/>
<line x1="171.10" y1="302.75" x2="171.10" y2="307.95" stroke="#f22a1e" stroke-width="1.1"/>
<line x1="174.37" y1="302.75" x2="174.37" y2="307.95" stroke="#f22a1e" stroke-width="1.1"/>
<line x1="176.54" y1="302.75" x2="176.54" y2="307.95" stroke="#f22a1e" stroke-width="1.1"/>
<line x1="58.98" y1="234.47" x2="58.98" y2="239.67" stroke="#4aa3e0" stroke-width="1.1"/>
<line x1="62.25" y1="234.47" x2="62.25" y2="239.67" stroke="#4aa3e0" stroke-width="1.1"/>
<line x1="56.81" y1="232.45" x2="56.81" y2="237.65" stroke="#d4b42a" stroke-width="1.1"/>
<rect x="41.50" y="225.30" width="143.50" height="109.20" fill="none" stroke="#bdbdbd" stroke-width="0.9"/>
<line x1="38.00" y1="230.00" x2="41.50" y2="230.00" stroke="#333" stroke-width="1.0"/>
<text x="37.00" y="234.07" font-size="11.3" text-anchor="end" fill="#000" stroke="#000" stroke-width="0.15">100%</text>
<line x1="38.00" y1="255.25" x2="41.50" y2="255.25" stroke="#333" stroke-width="1.0"/>
<text x="37.00" y="259.32" font-size="11.3" text-anchor="end" fill="#000" stroke="#000" stroke-width="0.15">75%</text>
<line x1="38.00" y1="280.50" x2="41.50" y2="280.50" stroke="#333" stroke-width="1.0"/>
<text x="37.00" y="284.57" font-size="11.3" text-anchor="end" fill="#000" stroke="#000" stroke-width="0.15">50%</text>
<line x1="38.00" y1="305.75" x2="41.50" y2="305.75" stroke="#333" stroke-width="1.0"/>
<text x="37.00" y="309.82" font-size="11.3" text-anchor="end" fill="#000" stroke="#000" stroke-width="0.15">25%</text>
<line x1="38.00" y1="331.00" x2="41.50" y2="331.00" stroke="#333" stroke-width="1.0"/>
<text x="37.00" y="335.07" font-size="11.3" text-anchor="end" fill="#000" stroke="#000" stroke-width="0.15">0%</text>
<line x1="48.10" y1="334.50" x2="48.10" y2="338.00" stroke="#333" stroke-width="1.0"/>
<line x1="74.22" y1="334.50" x2="74.22" y2="338.00" stroke="#333" stroke-width="1.0"/>
<line x1="100.35" y1="334.50" x2="100.35" y2="338.00" stroke="#333" stroke-width="1.0"/>
<line x1="126.47" y1="334.50" x2="126.47" y2="338.00" stroke="#333" stroke-width="1.0"/>
<line x1="152.60" y1="334.50" x2="152.60" y2="338.00" stroke="#333" stroke-width="1.0"/>
<line x1="178.72" y1="334.50" x2="178.72" y2="338.00" stroke="#333" stroke-width="1.0"/>
<text x="48.10" y="350.37" font-size="11.3" text-anchor="middle" fill="#000" stroke="#000" stroke-width="0.15">0</text>
<text x="74.22" y="350.37" font-size="11.3" text-anchor="middle" fill="#000" stroke="#000" stroke-width="0.15">12</text>
<text x="100.35" y="350.37" font-size="11.3" text-anchor="middle" fill="#000" stroke="#000" stroke-width="0.15">24</text>
<text x="126.47" y="350.37" font-size="11.3" text-anchor="middle" fill="#000" stroke="#000" stroke-width="0.15">36</text>
<text x="152.60" y="350.37" font-size="11.3" text-anchor="middle" fill="#000" stroke="#000" stroke-width="0.15">48</text>
<text x="178.72" y="350.37" font-size="11.3" text-anchor="middle" fill="#000" stroke="#000" stroke-width="0.15">60</text>
<text x="175.20" y="358.87" font-size="11.3" text-anchor="middle" fill="#000" stroke="#000" stroke-width="0.15">(Month)</text>
<text x="5.60" y="294.37" font-size="11.3" text-anchor="middle" fill="#000" stroke="#000" stroke-width="0.15" transform="rotate(-90 5.60 290.30)">Survival probability</text>
<rect x="127.50" y="305.80" width="7.00" height="2.80" fill="#d4b42a" stroke="none" stroke-width="1"/>
<text x="137.20" y="311.27" font-size="11.3" text-anchor="start" fill="#000" stroke="#000" stroke-width="0.15">All</text>
<rect x="127.50" y="316.70" width="7.00" height="2.80" fill="#f22a1e" stroke="none" stroke-width="1"/>
<text x="137.20" y="322.17" font-size="11.3" text-anchor="start" fill="#000" stroke="#000" stroke-width="0.15">High Exp</text>
<rect x="127.50" y="327.60" width="7.00" height="2.80" fill="#4aa3e0" stroke="none" stroke-width="1"/>
<text x="137.20" y="333.07" font-size="11.3" text-anchor="start" fill="#000" stroke="#000" stroke-width="0.15">Low Exp</text>
<text x="44.80" y="317.37" font-size="11.3" text-anchor="start" fill="#000" stroke="#000" stroke-width="0.15">HR=3.40</text>
<text x="44.80" y="330.27" font-size="11.3" text-anchor="start" fill="#000" stroke="#000" stroke-width="0.15">p=0.00056</text>
<text x="111.00" y="368.12" font-size="10.9" text-anchor="middle" fill="#000" stroke="#000" stroke-width="0.15">BLCA-TCGA</text>
<rect x="43.80" y="371.00" width="144.50" height="124.00" fill="#fff" stroke="none" stroke-width="1"/>
<line x1="50.20" y1="371.00" x2="50.20" y2="495.00" stroke="#ebebeb" stroke-width="0.9"/>
<line x1="59.54" y1="371.00" x2="59.54" y2="495.00" stroke="#ebebeb" stroke-width="0.9"/>
<line x1="68.89" y1="371.00" x2="68.89" y2="495.00" stroke="#ebebeb" stroke-width="0.9"/>
<line x1="78.23" y1="371.00" x2="78.23" y2="495.00" stroke="#ebebeb" stroke-width="0.9"/>
<line x1="87.57" y1="371.00" x2="87.57" y2="495.00" stroke="#ebebeb" stroke-width="0.9"/>
<line x1="96.92" y1="371.00" x2="96.92" y2="495.00" stroke="#ebebeb" stroke-width="0.9"/>
<line x1="106.26" y1="371.00" x2="106.26" y2="495.00" stroke="#ebebeb" stroke-width="0.9"/>
<line x1="115.60" y1="371.00" x2="115.60" y2="495.00" stroke="#ebebeb" stroke-width="0.9"/>
<line x1="124.95" y1="371.00" x2="124.95" y2="495.00" stroke="#ebebeb" stroke-width="0.9"/>
<line x1="134.29" y1="371.00" x2="134.29" y2="495.00" stroke="#ebebeb" stroke-width="0.9"/>
<line x1="143.63" y1="371.00" x2="143.63" y2="495.00" stroke="#ebebeb" stroke-width="0.9"/>
<line x1="152.98" y1="371.00" x2="152.98" y2="495.00" stroke="#ebebeb" stroke-width="0.9"/>
<line x1="162.32" y1="371.00" x2="162.32" y2="495.00" stroke="#ebebeb" stroke-width="0.9"/>
<line x1="171.66" y1="371.00" x2="171.66" y2="495.00" stroke="#ebebeb" stroke-width="0.9"/>
<line x1="181.00" y1="371.00" x2="181.00" y2="495.00" stroke="#ebebeb" stroke-width="0.9"/>
<line x1="43.80" y1="489.60" x2="188.30" y2="489.60" stroke="#ebebeb" stroke-width="0.9"/>
<line x1="43.80" y1="475.58" x2="188.30" y2="475.58" stroke="#ebebeb" stroke-width="0.9"/>
<line x1="43.80" y1="461.55" x2="188.30" y2="461.55" stroke="#ebebeb" stroke-width="0.9"/>
<line x1="43.80" y1="447.53" x2="188.30" y2="447.53" stroke="#ebebeb" stroke-width="0.9"/>
<line x1="43.80" y1="433.50" x2="188.30" y2="433.50" stroke="#ebebeb" stroke-width="0.9"/>
<line x1="43.80" y1="419.48" x2="188.30" y2="419.48" stroke="#ebebeb" stroke-width="0.9"/>
<line x1="43.80" y1="405.45" x2="188.30" y2="405.45" stroke="#ebebeb" stroke-width="0.9"/>
<line x1="43.80" y1="391.43" x2="188.30" y2="391.43" stroke="#ebebeb" stroke-width="0.9"/>
<line x1="43.80" y1="377.40" x2="188.30" y2="377.40" stroke="#ebebeb" stroke-width="0.9"/>
<path d="M49.90 377.94 L52.00 377.94 L52.00 379.57 L55.30 379.57 L55.30 382.35 L57.50 382.35 L57.50 384.20 L59.70 384.20 L59.70 386.55 L62.00 386.55 L62.00 389.12 L64.10 389.12 L64.10 391.75 L66.00 391.75 L66.00 393.44 L68.50 393.44 L68.50 394.86 L72.00 394.86 L72.00 395.68 L75.00 395.68 L75.00 396.29 L77.00 396.29 L77.00 397.70 L79.40 397.70 L79.40 398.30 L84.00 398.30 L84.00 398.25 L88.20 398.25 L88.20 399.95 L91.00 399.95 L91.00 401.75 L94.70 401.75 L94.70 403.25 L97.00 403.25 L97.00 405.25 L100.20 405.25 L100.20 408.75 L103.50 408.75 L103.50 415.35 L117.70 415.35 L117.70 415.35 L117.70 415.35 L117.70 422.95 L124.30 422.95 L124.30 422.95 L124.30 422.95 L124.30 428.45 L180.10 428.45 L180.10 428.45" fill="none" stroke="#4aa3e0" stroke-width="0.85" stroke-dasharray="2.6 2" opacity="0.85"/>
<path d="M49.90 377.55 L52.00 377.55 L52.00 381.87 L55.30 381.87 L55.30 388.87 L57.50 388.87 L57.50 393.54 L59.70 393.54 L59.70 398.70 L62.00 398.70 L62.00 404.21 L64.10 404.21 L64.10 409.53 L66.00 409.53 L66.00 413.65 L68.50 413.65 L68.50 418.26 L72.00 418.26 L72.00 423.56 L75.00 423.56 L75.00 428.01 L77.00 428.01 L77.00 431.98 L79.40 431.98 L79.40 435.64 L84.00 435.64 L84.00 438.08 L88.20 438.08 L88.20 439.78 L91.00 439.78 L91.00 441.58 L94.70 441.58 L94.70 443.08 L97.00 443.08 L97.00 445.08 L100.20 445.08 L100.20 448.58 L103.50 448.58 L103.50 455.18 L117.70 455.18 L117.70 455.18 L117.70 455.18 L117.70 462.78 L124.30 462.78 L124.30 462.78 L124.30 462.78 L124.30 468.28 L180.10 468.28 L180.10 468.28" fill="none" stroke="#4aa3e0" stroke-width="0.85" stroke-dasharray="2.6 2" opacity="0.85"/>
<path d="M49.90 377.82 L53.00 377.82 L53.00 382.89 L56.40 382.89 L56.40 389.44 L58.50 389.44 L58.50 394.71 L60.80 394.71 L60.80 400.80 L63.00 400.80 L63.00 406.43 L65.20 406.43 L65.20 412.26 L67.50 412.26 L67.50 416.64 L69.60 416.64 L69.60 420.31 L72.50 420.31 L72.50 422.16 L76.10 422.16 L76.10 423.24 L80.00 423.24 L80.00 424.19 L83.80 424.19 L83.80 425.56 L89.00 425.56 L89.00 427.66 L94.70 427.66 L94.70 429.96 L100.00 429.96 L100.00 431.66 L105.70 431.66 L105.70 433.16 L123.20 433.16 L123.20 434.26 L125.40 434.26 L125.40 440.86 L132.00 440.86 L132.00 444.16 L180.10 444.16 L180.10 444.16" fill="none" stroke="#d4b42a" stroke-width="0.85" stroke-dasharray="2.6 2" opacity="0.85"/>
<path d="M49.90 377.61 L53.00 377.61 L53.00 384.86 L56.40 384.86 L56.40 393.80 L58.50 393.80 L58.50 400.54 L60.80 400.54 L60.80 408.25 L63.00 408.25 L63.00 415.42 L65.20 415.42 L65.20 422.79 L67.50 422.79 L67.50 428.80 L69.60 428.80 L69.60 433.94 L72.50 433.94 L72.50 437.83 L76.10 437.83 L76.10 441.43 L80.00 441.43 L80.00 445.13 L83.80 445.13 L83.80 447.44 L89.00 447.44 L89.00 449.54 L94.70 449.54 L94.70 451.84 L100.00 451.84 L100.00 453.54 L105.70 453.54 L105.70 455.04 L123.20 455.04 L123.20 456.14 L125.40 456.14 L125.40 462.74 L132.00 462.74 L132.00 466.04 L180.10 466.04 L180.10 466.04" fill="none" stroke="#d4b42a" stroke-width="0.85" stroke-dasharray="2.6 2" opacity="0.85"/>
<path d="M49.90 377.87 L52.50 377.87 L52.50 382.72 L55.30 382.72 L55.30 389.06 L57.00 389.06 L57.00 393.21 L58.60 393.21 L58.60 398.12 L60.30 398.12 L60.30 403.37 L61.90 403.37 L61.90 409.48 L64.00 409.48 L64.00 413.81 L66.30 413.81 L66.30 417.93 L68.50 417.93 L68.50 420.81 L70.70 420.81 L70.70 423.18 L74.00 423.18 L74.00 424.24 L77.20 424.24 L77.20 425.06 L80.50 425.06 L80.50 425.12 L83.80 425.12 L83.80 426.05 L88.00 426.05 L88.00 427.65 L92.60 427.65 L92.60 429.25 L96.00 429.25 L96.00 430.45 L99.10 430.45 L99.10 431.45 L125.40 431.45 L125.40 431.45 L126.50 431.45 L126.50 436.95 L132.00 436.95 L132.00 436.95 L132.00 436.95 L132.00 441.35 L180.10 441.35 L180.10 441.35" fill="none" stroke="#f22a1e" stroke-width="0.85" stroke-dasharray="2.6 2" opacity="0.85"/>
<path d="M49.90 377.59 L52.50 377.59 L52.50 384.87 L55.30 384.87 L55.30 393.84 L57.00 393.84 L57.00 399.58 L58.60 399.58 L58.60 405.99 L60.30 405.99 L60.30 412.84 L61.90 412.84 L61.90 420.44 L64.00 420.44 L64.00 426.74 L66.30 426.74 L66.30 433.01 L68.50 433.01 L68.50 437.95 L70.70 437.95 L70.70 442.38 L74.00 442.38 L74.00 446.54 L77.20 446.54 L77.20 450.35 L80.50 450.35 L80.50 453.51 L83.80 453.51 L83.80 455.23 L88.00 455.23 L88.00 456.83 L92.60 456.83 L92.60 458.43 L96.00 458.43 L96.00 459.63 L99.10 459.63 L99.10 460.63 L125.40 460.63 L125.40 460.63 L126.50 460.63 L126.50 466.13 L132.00 466.13 L132.00 466.13 L132.00 466.13 L132.00 470.53 L180.10 470.53 L180.10 470.53" fill="none" stroke="#f22a1e" stroke-width="0.85" stroke-dasharray="2.6 2" opacity="0.85"/>
<path d="M43.58 433.50 L99.10 433.50" fill="none" stroke="#222" stroke-width="0.9" stroke-dasharray="3 2.2"/>
<path d="M70.68 433.50 L70.68 489.60" fill="none" stroke="#222" stroke-width="0.9" stroke-dasharray="3 2.2"/>
<path d="M76.13 433.50 L76.13 489.60" fill="none" stroke="#222" stroke-width="0.9" stroke-dasharray="3 2.2"/>
<path d="M98.01 433.50 L98.01 489.60" fill="none" stroke="#222" stroke-width="0.9" stroke-dasharray="3 2.2"/>
<path d="M49.90 377.70 L53.00 377.70 L53.00 384.00 L56.40 384.00 L56.40 391.90 L58.50 391.90 L58.50 398.00 L60.80 398.00 L60.80 405.00 L63.00 405.00 L63.00 411.50 L65.20 411.50 L65.20 418.20 L67.50 418.20 L67.50 423.50 L69.60 423.50 L69.60 428.00 L72.50 428.00 L72.50 431.00 L76.10 431.00 L76.10 433.50 L80.00 433.50 L80.00 436.00 L83.80 436.00 L83.80 437.90 L89.00 437.90 L89.00 440.00 L94.70 440.00 L94.70 442.30 L100.00 442.30 L100.00 444.00 L105.70 444.00 L105.70 445.50 L123.20 445.50 L123.20 446.60 L125.40 446.60 L125.40 453.20 L132.00 453.20 L132.00 456.50 L180.10 456.50 L180.10 456.50" fill="none" stroke="#d4b42a" stroke-width="1.9"/>
<path d="M49.90 377.70 L52.50 377.70 L52.50 384.00 L55.30 384.00 L55.30 391.90 L57.00 391.90 L57.00 397.00 L58.60 397.00 L58.60 402.80 L60.30 402.80 L60.30 409.00 L61.90 409.00 L61.90 416.00 L64.00 416.00 L64.00 421.50 L66.30 421.50 L66.30 426.90 L68.50 426.90 L68.50 431.00 L70.70 431.00 L70.70 434.60 L74.00 434.60 L74.00 437.50 L77.20 437.50 L77.20 440.10 L80.50 440.10 L80.50 442.00 L83.80 442.00 L83.80 443.40 L88.00 443.40 L88.00 445.00 L92.60 445.00 L92.60 446.60 L96.00 446.60 L96.00 447.80 L99.10 447.80 L99.10 448.80 L125.40 448.80 L125.40 448.80 L126.50 448.80 L126.50 454.30 L132.00 454.30 L132.00 454.30 L132.00 454.30 L132.00 458.70 L180.10 458.70 L180.10 458.70" fill="none" stroke="#f22a1e" stroke-width="1.9"/>
<path d="M49.90 377.70 L52.00 377.70 L52.00 381.00 L55.30 381.00 L55.30 386.40 L57.50 386.40 L57.50 390.00 L59.70 390.00 L59.70 394.10 L62.00 394.10 L62.00 398.50 L64.10 398.50 L64.10 402.80 L66.00 402.80 L66.00 406.00 L68.50 406.00 L68.50 409.40 L72.00 409.40 L72.00 413.00 L75.00 413.00 L75.00 416.00 L77.00 416.00 L77.00 419.00 L79.40 419.00 L79.40 421.50 L84.00 421.50 L84.00 423.00 L88.20 423.00 L88.20 424.70 L91.00 424.70 L91.00 426.50 L94.70 426.50 L94.70 428.00 L97.00 428.00 L97.00 430.00 L100.20 430.00 L100.20 433.50 L103.50 433.50 L103.50 440.10 L117.70 440.10 L117.70 440.10 L117.70 440.10 L117.70 447.70 L124.30 447.70 L124.30 447.70 L124.30 447.70 L124.30 453.20 L180.10 453.20 L180.10 453.20" fill="none" stroke="#4aa3e0" stroke-width="1.9"/>
<rect x="43.80" y="371.00" width="144.50" height="124.00" fill="none" stroke="#bdbdbd" stroke-width="0.9"/>
<line x1="40.30" y1="377.40" x2="43.80" y2="377.40" stroke="#333" stroke-width="1.0"/>
<text x="39.30" y="381.47" font-size="11.3" text-anchor="end" fill="#000" stroke="#000" stroke-width="0.15">100%</text>
<line x1="40.30" y1="405.45" x2="43.80" y2="405.45" stroke="#333" stroke-width="1.0"/>
<text x="39.30" y="409.52" font-size="11.3" text-anchor="end" fill="#000" stroke="#000" stroke-width="0.15">75%</text>
<line x1="40.30" y1="433.50" x2="43.80" y2="433.50" stroke="#333" stroke-width="1.0"/>
<text x="39.30" y="437.57" font-size="11.3" text-anchor="end" fill="#000" stroke="#000" stroke-width="0.15">50%</text>
<line x1="40.30" y1="461.55" x2="43.80" y2="461.55" stroke="#333" stroke-width="1.0"/>
<text x="39.30" y="465.62" font-size="11.3" text-anchor="end" fill="#000" stroke="#000" stroke-width="0.15">25%</text>
<line x1="40.30" y1="489.60" x2="43.80" y2="489.60" stroke="#333" stroke-width="1.0"/>
<text x="39.30" y="493.67" font-size="11.3" text-anchor="end" fill="#000" stroke="#000" stroke-width="0.15">0%</text>
<line x1="50.20" y1="495.00" x2="50.20" y2="498.50" stroke="#333" stroke-width="1.0"/>
<line x1="68.89" y1="495.00" x2="68.89" y2="498.50" stroke="#333" stroke-width="1.0"/>
<line x1="87.57" y1="495.00" x2="87.57" y2="498.50" stroke="#333" stroke-width="1.0"/>
<line x1="106.26" y1="495.00" x2="106.26" y2="498.50" stroke="#333" stroke-width="1.0"/>
<line x1="124.95" y1="495.00" x2="124.95" y2="498.50" stroke="#333" stroke-width="1.0"/>
<line x1="143.63" y1="495.00" x2="143.63" y2="498.50" stroke="#333" stroke-width="1.0"/>
<line x1="162.32" y1="495.00" x2="162.32" y2="498.50" stroke="#333" stroke-width="1.0"/>
<line x1="181.00" y1="495.00" x2="181.00" y2="498.50" stroke="#333" stroke-width="1.0"/>
<line x1="69.67" y1="407.00" x2="69.67" y2="411.80" stroke="#4aa3e0" stroke-width="1.0"/>
<line x1="67.27" y1="409.40" x2="72.07" y2="409.40" stroke="#4aa3e0" stroke-width="1.0"/>
<line x1="73.56" y1="410.60" x2="73.56" y2="415.40" stroke="#4aa3e0" stroke-width="1.0"/>
<line x1="71.16" y1="413.00" x2="75.96" y2="413.00" stroke="#4aa3e0" stroke-width="1.0"/>
<line x1="75.89" y1="413.60" x2="75.89" y2="418.40" stroke="#4aa3e0" stroke-width="1.0"/>
<line x1="73.49" y1="416.00" x2="78.29" y2="416.00" stroke="#4aa3e0" stroke-width="1.0"/>
<line x1="79.79" y1="419.10" x2="79.79" y2="423.90" stroke="#4aa3e0" stroke-width="1.0"/>
<line x1="77.39" y1="421.50" x2="82.19" y2="421.50" stroke="#4aa3e0" stroke-width="1.0"/>
<line x1="82.12" y1="419.10" x2="82.12" y2="423.90" stroke="#4aa3e0" stroke-width="1.0"/>
<line x1="79.72" y1="421.50" x2="84.52" y2="421.50" stroke="#4aa3e0" stroke-width="1.0"/>
<line x1="85.24" y1="420.60" x2="85.24" y2="425.40" stroke="#4aa3e0" stroke-width="1.0"/>
<line x1="82.84" y1="423.00" x2="87.64" y2="423.00" stroke="#4aa3e0" stroke-width="1.0"/>
<line x1="90.69" y1="422.30" x2="90.69" y2="427.10" stroke="#4aa3e0" stroke-width="1.0"/>
<line x1="88.29" y1="424.70" x2="93.09" y2="424.70" stroke="#4aa3e0" stroke-width="1.0"/>
<line x1="95.36" y1="425.60" x2="95.36" y2="430.40" stroke="#4aa3e0" stroke-width="1.0"/>
<line x1="92.96" y1="428.00" x2="97.76" y2="428.00" stroke="#4aa3e0" stroke-width="1.0"/>
<line x1="98.47" y1="427.60" x2="98.47" y2="432.40" stroke="#4aa3e0" stroke-width="1.0"/>
<line x1="96.07" y1="430.00" x2="100.87" y2="430.00" stroke="#4aa3e0" stroke-width="1.0"/>
<line x1="108.59" y1="437.70" x2="108.59" y2="442.50" stroke="#4aa3e0" stroke-width="1.0"/>
<line x1="106.19" y1="440.10" x2="111.00" y2="440.10" stroke="#4aa3e0" stroke-width="1.0"/>
<line x1="114.05" y1="437.70" x2="114.05" y2="442.50" stroke="#4aa3e0" stroke-width="1.0"/>
<line x1="111.65" y1="440.10" x2="116.45" y2="440.10" stroke="#4aa3e0" stroke-width="1.0"/>
<line x1="135.85" y1="450.80" x2="135.85" y2="455.60" stroke="#4aa3e0" stroke-width="1.0"/>
<line x1="133.45" y1="453.20" x2="138.25" y2="453.20" stroke="#4aa3e0" stroke-width="1.0"/>
<line x1="147.52" y1="450.80" x2="147.52" y2="455.60" stroke="#4aa3e0" stroke-width="1.0"/>
<line x1="145.12" y1="453.20" x2="149.92" y2="453.20" stroke="#4aa3e0" stroke-width="1.0"/>
<line x1="159.20" y1="450.80" x2="159.20" y2="455.60" stroke="#4aa3e0" stroke-width="1.0"/>
<line x1="156.80" y1="453.20" x2="161.60" y2="453.20" stroke="#4aa3e0" stroke-width="1.0"/>
<line x1="174.78" y1="450.80" x2="174.78" y2="455.60" stroke="#4aa3e0" stroke-width="1.0"/>
<line x1="172.38" y1="453.20" x2="177.18" y2="453.20" stroke="#4aa3e0" stroke-width="1.0"/>
<line x1="73.56" y1="428.60" x2="73.56" y2="433.40" stroke="#d4b42a" stroke-width="1.0"/>
<line x1="71.16" y1="431.00" x2="75.96" y2="431.00" stroke="#d4b42a" stroke-width="1.0"/>
<line x1="77.45" y1="431.10" x2="77.45" y2="435.90" stroke="#d4b42a" stroke-width="1.0"/>
<line x1="75.05" y1="433.50" x2="79.85" y2="433.50" stroke="#d4b42a" stroke-width="1.0"/>
<line x1="81.34" y1="433.60" x2="81.34" y2="438.40" stroke="#d4b42a" stroke-width="1.0"/>
<line x1="78.94" y1="436.00" x2="83.74" y2="436.00" stroke="#d4b42a" stroke-width="1.0"/>
<line x1="89.13" y1="437.60" x2="89.13" y2="442.40" stroke="#d4b42a" stroke-width="1.0"/>
<line x1="86.73" y1="440.00" x2="91.53" y2="440.00" stroke="#d4b42a" stroke-width="1.0"/>
<line x1="93.02" y1="437.60" x2="93.02" y2="442.40" stroke="#d4b42a" stroke-width="1.0"/>
<line x1="90.62" y1="440.00" x2="95.42" y2="440.00" stroke="#d4b42a" stroke-width="1.0"/>
<line x1="96.92" y1="439.90" x2="96.92" y2="444.70" stroke="#d4b42a" stroke-width="1.0"/>
<line x1="94.52" y1="442.30" x2="99.32" y2="442.30" stroke="#d4b42a" stroke-width="1.0"/>
<line x1="100.81" y1="441.60" x2="100.81" y2="446.40" stroke="#d4b42a" stroke-width="1.0"/>
<line x1="98.41" y1="444.00" x2="103.21" y2="444.00" stroke="#d4b42a" stroke-width="1.0"/>
<line x1="106.26" y1="443.10" x2="106.26" y2="447.90" stroke="#d4b42a" stroke-width="1.0"/>
<line x1="103.86" y1="445.50" x2="108.66" y2="445.50" stroke="#d4b42a" stroke-width="1.0"/>
<line x1="128.06" y1="450.80" x2="128.06" y2="455.60" stroke="#d4b42a" stroke-width="1.0"/>
<line x1="125.66" y1="453.20" x2="130.46" y2="453.20" stroke="#d4b42a" stroke-width="1.0"/>
<line x1="143.63" y1="454.10" x2="143.63" y2="458.90" stroke="#d4b42a" stroke-width="1.0"/>
<line x1="141.23" y1="456.50" x2="146.03" y2="456.50" stroke="#d4b42a" stroke-width="1.0"/>
<line x1="159.20" y1="454.10" x2="159.20" y2="458.90" stroke="#d4b42a" stroke-width="1.0"/>
<line x1="156.80" y1="456.50" x2="161.60" y2="456.50" stroke="#d4b42a" stroke-width="1.0"/>
<line x1="174.78" y1="454.10" x2="174.78" y2="458.90" stroke="#d4b42a" stroke-width="1.0"/>
<line x1="172.38" y1="456.50" x2="177.18" y2="456.50" stroke="#d4b42a" stroke-width="1.0"/>
<line x1="65.77" y1="419.10" x2="65.77" y2="423.90" stroke="#f22a1e" stroke-width="1.0"/>
<line x1="63.37" y1="421.50" x2="68.17" y2="421.50" stroke="#f22a1e" stroke-width="1.0"/>
<line x1="69.67" y1="428.60" x2="69.67" y2="433.40" stroke="#f22a1e" stroke-width="1.0"/>
<line x1="67.27" y1="431.00" x2="72.07" y2="431.00" stroke="#f22a1e" stroke-width="1.0"/>
<line x1="73.56" y1="432.20" x2="73.56" y2="437.00" stroke="#f22a1e" stroke-width="1.0"/>
<line x1="71.16" y1="434.60" x2="75.96" y2="434.60" stroke="#f22a1e" stroke-width="1.0"/>
<line x1="77.45" y1="437.70" x2="77.45" y2="442.50" stroke="#f22a1e" stroke-width="1.0"/>
<line x1="75.05" y1="440.10" x2="79.85" y2="440.10" stroke="#f22a1e" stroke-width="1.0"/>
<line x1="81.34" y1="439.60" x2="81.34" y2="444.40" stroke="#f22a1e" stroke-width="1.0"/>
<line x1="78.94" y1="442.00" x2="83.74" y2="442.00" stroke="#f22a1e" stroke-width="1.0"/>
<line x1="85.24" y1="441.00" x2="85.24" y2="445.80" stroke="#f22a1e" stroke-width="1.0"/>
<line x1="82.84" y1="443.40" x2="87.64" y2="443.40" stroke="#f22a1e" stroke-width="1.0"/>
<line x1="93.02" y1="444.20" x2="93.02" y2="449.00" stroke="#f22a1e" stroke-width="1.0"/>
<line x1="90.62" y1="446.60" x2="95.42" y2="446.60" stroke="#f22a1e" stroke-width="1.0"/>
<line x1="98.47" y1="445.40" x2="98.47" y2="450.20" stroke="#f22a1e" stroke-width="1.0"/>
<line x1="96.07" y1="447.80" x2="100.87" y2="447.80" stroke="#f22a1e" stroke-width="1.0"/>
<line x1="101.59" y1="446.40" x2="101.59" y2="451.20" stroke="#f22a1e" stroke-width="1.0"/>
<line x1="99.19" y1="448.80" x2="103.99" y2="448.80" stroke="#f22a1e" stroke-width="1.0"/>
<line x1="104.70" y1="446.40" x2="104.70" y2="451.20" stroke="#f22a1e" stroke-width="1.0"/>
<line x1="102.30" y1="448.80" x2="107.10" y2="448.80" stroke="#f22a1e" stroke-width="1.0"/>
<line x1="110.93" y1="446.40" x2="110.93" y2="451.20" stroke="#f22a1e" stroke-width="1.0"/>
<line x1="108.53" y1="448.80" x2="113.33" y2="448.80" stroke="#f22a1e" stroke-width="1.0"/>
<line x1="135.85" y1="456.30" x2="135.85" y2="461.10" stroke="#f22a1e" stroke-width="1.0"/>
<line x1="133.45" y1="458.70" x2="138.25" y2="458.70" stroke="#f22a1e" stroke-width="1.0"/>
<line x1="139.74" y1="456.30" x2="139.74" y2="461.10" stroke="#f22a1e" stroke-width="1.0"/>
<line x1="137.34" y1="458.70" x2="142.14" y2="458.70" stroke="#f22a1e" stroke-width="1.0"/>
<line x1="152.98" y1="456.30" x2="152.98" y2="461.10" stroke="#f22a1e" stroke-width="1.0"/>
<line x1="150.58" y1="458.70" x2="155.38" y2="458.70" stroke="#f22a1e" stroke-width="1.0"/>
<line x1="180.23" y1="456.30" x2="180.23" y2="461.10" stroke="#f22a1e" stroke-width="1.0"/>
<line x1="177.83" y1="458.70" x2="182.63" y2="458.70" stroke="#f22a1e" stroke-width="1.0"/>
<text x="50.20" y="510.37" font-size="11.3" text-anchor="middle" fill="#000" stroke="#000" stroke-width="0.15">0</text>
<text x="68.89" y="510.37" font-size="11.3" text-anchor="middle" fill="#000" stroke="#000" stroke-width="0.15">24</text>
<text x="87.57" y="510.37" font-size="11.3" text-anchor="middle" fill="#000" stroke="#000" stroke-width="0.15">48</text>
<text x="106.26" y="510.37" font-size="11.3" text-anchor="middle" fill="#000" stroke="#000" stroke-width="0.15">72</text>
<text x="124.95" y="510.37" font-size="11.3" text-anchor="middle" fill="#000" stroke="#000" stroke-width="0.15">96</text>
<text x="143.63" y="510.37" font-size="11.3" text-anchor="middle" fill="#000" stroke="#000" stroke-width="0.15">120</text>
<text x="162.32" y="510.37" font-size="11.3" text-anchor="middle" fill="#000" stroke="#000" stroke-width="0.15">144</text>
<text x="181.00" y="510.37" font-size="11.3" text-anchor="middle" fill="#000" stroke="#000" stroke-width="0.15">168</text>
<text x="175.20" y="521.37" font-size="11.3" text-anchor="middle" fill="#000" stroke="#000" stroke-width="0.15">(Month)</text>
<text x="6.00" y="440.97" font-size="11.3" text-anchor="middle" fill="#000" stroke="#000" stroke-width="0.15" transform="rotate(-90 6.00 436.90)">Survival probability</text>
<rect x="131.00" y="379.90" width="6.50" height="3.20" fill="#d4b42a" stroke="none" stroke-width="1"/>
<text x="140.20" y="385.57" font-size="11.3" text-anchor="start" fill="#000" stroke="#000" stroke-width="0.15">All</text>
<rect x="131.00" y="394.70" width="6.50" height="3.20" fill="#f22a1e" stroke="none" stroke-width="1"/>
<text x="140.20" y="400.37" font-size="11.3" text-anchor="start" fill="#000" stroke="#000" stroke-width="0.15">High Exp</text>
<rect x="131.00" y="409.50" width="6.50" height="3.20" fill="#4aa3e0" stroke="none" stroke-width="1"/>
<text x="140.20" y="415.17" font-size="11.3" text-anchor="start" fill="#000" stroke="#000" stroke-width="0.15">Low Exp</text>
<text x="47.30" y="477.37" font-size="11.3" text-anchor="start" fill="#000" stroke="#000" stroke-width="0.15">HR=0.65</text>
<text x="47.30" y="491.07" font-size="11.3" text-anchor="start" fill="#000" stroke="#000" stroke-width="0.15">p=0.011</text>
<text x="188.20" y="224.30" font-size="12.5" text-anchor="start" font-weight="bold" fill="#000">E</text>
<rect x="202.90" y="212.00" width="154.40" height="81.60" fill="#f6d6da" stroke="none" stroke-width="1"/>
<rect x="202.90" y="295.80" width="154.40" height="124.80" fill="#dcebf6" stroke="none" stroke-width="1"/>
<rect x="202.90" y="420.60" width="154.40" height="83.40" fill="#fdfbee" stroke="none" stroke-width="1"/>
<text x="245.70" y="225.97" font-size="11.3" text-anchor="middle" fill="#000" stroke="#000" stroke-width="0.15">Fatty acid</text>
<line x1="262.70" y1="231.00" x2="262.70" y2="246.00" stroke="#000" stroke-width="1.5"/>
<path d="M259.70 245.50 L265.70 245.50 L262.70 251.00 Z" fill="#000" stroke="none" stroke-width="0"/>
<text x="298.30" y="245.07" font-size="11.3" text-anchor="middle" fill="#000" stroke="#000" stroke-width="0.15">PUFA</text>
<text x="239.00" y="264.77" font-size="11.3" text-anchor="middle" fill="#000" stroke="#000" stroke-width="0.15">Fatty-alcohol</text>
<line x1="290.70" y1="250.50" x2="290.70" y2="265.00" stroke="#000" stroke-width="1.5"/>
<path d="M287.70 264.50 L293.70 264.50 L290.70 270.00 Z" fill="#000" stroke="none" stroke-width="0"/>
<line x1="262.70" y1="266.50" x2="262.70" y2="281.00" stroke="#000" stroke-width="1.5"/>
<path d="M259.70 280.50 L265.70 280.50 L262.70 286.00 Z" fill="#000" stroke="none" stroke-width="0"/>
<text x="312.90" y="283.27" font-size="11.3" text-anchor="middle" fill="#000" stroke="#000" stroke-width="0.15">PUFA-CoA</text>
<text x="262.70" y="294.10" font-size="10" text-anchor="middle" fill="#000" stroke="#000" stroke-width="0.15">…</text>
<line x1="262.70" y1="296.50" x2="262.70" y2="313.60" stroke="#000" stroke-width="1.5"/>
<path d="M259.70 313.10 L265.70 313.10 L262.70 318.60 Z" fill="#000" stroke="none" stroke-width="0"/>
<path d="M293.0 288.6 C280 290.5 268 298 265.0 312.0" fill="none" stroke="#000" stroke-width="1.5"/>
<text x="276.00" y="305.07" font-size="11.3" text-anchor="start" font-weight="bold" fill="#f21c1c">PEDS1</text>
<text x="241.40" y="327.87" font-size="11.3" text-anchor="middle" fill="#d0343a" stroke="#d0343a" stroke-width="0.15">Plasmalogen</text>
<line x1="263.20" y1="333.50" x2="263.20" y2="404.50" stroke="#3f7fcb" stroke-width="1.5"/>
<path d="M260.2 404.0 L266.2 404.0 L263.2 410.0 Z" fill="#3f7fcb" stroke="none" stroke-width="0"/>
<text x="266.00" y="347.47" font-size="11.3" text-anchor="start" fill="#000" stroke="#000" stroke-width="0.15">·eliminate</text>
<text x="266.00" y="372.77" font-size="11.3" text-anchor="start" fill="#000" stroke="#000" stroke-width="0.15">·Decoy</text>
<text x="266.00" y="392.57" font-size="11.3" text-anchor="start" fill="#000" stroke="#000" stroke-width="0.15">·maintain</text>
<text x="268.50" y="406.87" font-size="11.3" text-anchor="start" fill="#000" stroke="#000" stroke-width="0.15">membranes.</text>
<text x="220.60" y="420.47" font-size="11.3" text-anchor="start" font-weight="bold" fill="#3f7fcb">Reduce</text>
<text x="220.60" y="434.47" font-size="11.3" text-anchor="start" font-weight="bold" fill="#3f7fcb">Cellular injury</text>
<line x1="316.40" y1="337.20" x2="316.40" y2="350.10" stroke="#d8281e" stroke-width="1.5"/>
<line x1="319.20" y1="334.40" x2="331.70" y2="334.40" stroke="#d8281e" stroke-width="1.5"/>
<path d="M337.3 334.4 H345.7 V338.6" fill="none" stroke="#d8281e" stroke-width="1.5"/>
<line x1="320.40" y1="350.60" x2="333.30" y2="350.60" stroke="#d8281e" stroke-width="1.5"/>
<path d="M338.5 350.6 H346.5 V344.3" fill="none" stroke="#d8281e" stroke-width="1.5"/>
<text x="331.50" y="347.07" font-size="11.3" text-anchor="middle" font-weight="bold" fill="#f4282a">ROS</text>
<line x1="349.50" y1="342.10" x2="352.80" y2="342.10" stroke="#d8281e" stroke-width="1.5"/>
<path d="M352.2 338.8 L357.3 342.1 L352.2 345.4 Z" fill="#d8281e" stroke="none" stroke-width="0"/>
<path d="M309.0 367.9 L361.6 367.9 L361.6 241.0 L324.5 241.0" fill="none" stroke="#d8281e" stroke-width="1.5" stroke-dasharray="5.6 4.2"/>
<path d="M325 237.8 L319.3 241.0 L325 244.2 Z" fill="#d8281e" stroke="none" stroke-width="0"/>
<line x1="333.30" y1="440.50" x2="333.30" y2="359.50" stroke="#d8281e" stroke-width="1.5" stroke-dasharray="5.6 4.2"/>
<path d="M330.0 359.8 L333.3 353.3 L336.6 359.8 Z" fill="#d8281e" stroke="none" stroke-width="0"/>
<rect x="210.50" y="442.00" width="144.10" height="52.60" fill="none" stroke="#e8b031" stroke-width="1.5" rx="7" ry="7"/>
<text x="285.30" y="454.27" font-size="11.3" text-anchor="start" fill="#000" stroke="#000" stroke-width="0.15">Inflammation</text>
<text x="218.20" y="462.07" font-size="11.3" text-anchor="start" fill="#000" stroke="#000" stroke-width="0.15">Drugs</text>
<text x="258.40" y="476.47" font-size="11.3" text-anchor="start" fill="#000" stroke="#000" stroke-width="0.15">Environmental</text>
<text x="258.40" y="490.07" font-size="11.3" text-anchor="start" fill="#000" stroke="#000" stroke-width="0.15">stress</text>
<text x="361.00" y="223.80" font-size="12.5" text-anchor="start" font-weight="bold" fill="#000">F</text>
<text x="451.70" y="228.27" font-size="11.3" text-anchor="middle" fill="#000" stroke="#000" stroke-width="0.15">CCLE</text>
<rect x="422.50" y="234.20" width="61.30" height="8.40" fill="#a5192b" stroke="none" stroke-width="1"/>
<line x1="415.40" y1="238.40" x2="421.90" y2="238.40" stroke="#000" stroke-width="1.4"/>
<text x="414.40" y="242.47" font-size="11.3" text-anchor="end" fill="#000" stroke="#000" stroke-width="0.15">CAL-29</text>
<rect x="422.50" y="246.98" width="60.80" height="8.40" fill="#c3232a" stroke="none" stroke-width="1"/>
<line x1="415.40" y1="251.18" x2="421.90" y2="251.18" stroke="#000" stroke-width="1.4"/>
<text x="414.40" y="255.25" font-size="11.3" text-anchor="end" fill="#000" stroke="#000" stroke-width="0.15">BC-3C</text>
<rect x="422.50" y="259.76" width="56.10" height="8.40" fill="#dc3a2c" stroke="none" stroke-width="1"/>
<line x1="415.40" y1="263.96" x2="421.90" y2="263.96" stroke="#000" stroke-width="1.4"/>
<text x="414.40" y="268.02" font-size="11.3" text-anchor="end" fill="#000" stroke="#000" stroke-width="0.15">J82</text>
<rect x="422.50" y="272.53" width="54.70" height="8.40" fill="#e4553a" stroke="none" stroke-width="1"/>
<line x1="415.40" y1="276.73" x2="421.90" y2="276.73" stroke="#000" stroke-width="1.4"/>
<text x="414.40" y="280.80" font-size="11.3" text-anchor="end" fill="#000" stroke="#000" stroke-width="0.15">T24</text>
<rect x="422.50" y="285.31" width="51.40" height="8.40" fill="#ec7a4a" stroke="none" stroke-width="1"/>
<line x1="415.40" y1="289.51" x2="421.90" y2="289.51" stroke="#000" stroke-width="1.4"/>
<text x="414.40" y="293.58" font-size="11.3" text-anchor="end" fill="#000" stroke="#000" stroke-width="0.15">VMCUB1</text>
<rect x="422.50" y="298.09" width="51.40" height="8.40" fill="#ef9a57" stroke="none" stroke-width="1"/>
<line x1="415.40" y1="302.29" x2="421.90" y2="302.29" stroke="#000" stroke-width="1.4"/>
<text x="414.40" y="306.36" font-size="11.3" text-anchor="end" fill="#000" stroke="#000" stroke-width="0.15">UMUC1</text>
<rect x="422.50" y="310.87" width="49.40" height="8.40" fill="#efb56b" stroke="none" stroke-width="1"/>
<line x1="415.40" y1="315.07" x2="421.90" y2="315.07" stroke="#000" stroke-width="1.4"/>
<text x="414.40" y="319.13" font-size="11.3" text-anchor="end" fill="#000" stroke="#000" stroke-width="0.15">HT1376</text>
<rect x="422.50" y="323.64" width="48.00" height="8.40" fill="#f0d488" stroke="none" stroke-width="1"/>
<line x1="415.40" y1="327.84" x2="421.90" y2="327.84" stroke="#000" stroke-width="1.4"/>
<text x="414.40" y="331.91" font-size="11.3" text-anchor="end" fill="#000" stroke="#000" stroke-width="0.15">SW780</text>
<rect x="422.50" y="336.42" width="47.40" height="8.40" fill="#f3e9a0" stroke="none" stroke-width="1"/>
<line x1="415.40" y1="340.62" x2="421.90" y2="340.62" stroke="#000" stroke-width="1.4"/>
<text x="414.40" y="344.69" font-size="11.3" text-anchor="end" fill="#000" stroke="#000" stroke-width="0.15">TCCSUP</text>
<rect x="422.50" y="349.20" width="47.40" height="8.40" fill="#f4f8c2" stroke="none" stroke-width="1"/>
<line x1="415.40" y1="353.40" x2="421.90" y2="353.40" stroke="#000" stroke-width="1.4"/>
<text x="414.40" y="357.47" font-size="11.3" text-anchor="end" fill="#000" stroke="#000" stroke-width="0.15">RT4</text>
<rect x="422.50" y="361.98" width="47.40" height="8.40" fill="#eaf6e2" stroke="none" stroke-width="1"/>
<line x1="415.40" y1="366.18" x2="421.90" y2="366.18" stroke="#000" stroke-width="1.4"/>
<text x="414.40" y="370.25" font-size="11.3" text-anchor="end" fill="#000" stroke="#000" stroke-width="0.15">KU1919</text>
<rect x="422.50" y="374.76" width="46.90" height="8.40" fill="#daf0f3" stroke="none" stroke-width="1"/>
<line x1="415.40" y1="378.96" x2="421.90" y2="378.96" stroke="#000" stroke-width="1.4"/>
<text x="414.40" y="383.02" font-size="11.3" text-anchor="end" fill="#000" stroke="#000" stroke-width="0.15">KMBC2</text>
<rect x="422.50" y="387.53" width="45.30" height="8.40" fill="#bde3ea" stroke="none" stroke-width="1"/>
<line x1="415.40" y1="391.73" x2="421.90" y2="391.73" stroke="#000" stroke-width="1.4"/>
<text x="414.40" y="395.80" font-size="11.3" text-anchor="end" fill="#000" stroke="#000" stroke-width="0.15">JMSU1</text>
<rect x="422.50" y="400.31" width="44.50" height="8.40" fill="#a6d4e3" stroke="none" stroke-width="1"/>
<line x1="415.40" y1="404.51" x2="421.90" y2="404.51" stroke="#000" stroke-width="1.4"/>
<text x="414.40" y="408.58" font-size="11.3" text-anchor="end" fill="#000" stroke="#000" stroke-width="0.15">5637</text>
<rect x="422.50" y="413.09" width="43.30" height="8.40" fill="#89bcd9" stroke="none" stroke-width="1"/>
<line x1="415.40" y1="417.29" x2="421.90" y2="417.29" stroke="#000" stroke-width="1.4"/>
<text x="414.40" y="421.36" font-size="11.3" text-anchor="end" fill="#000" stroke="#000" stroke-width="0.15">647V</text>
<rect x="422.50" y="425.87" width="41.40" height="8.40" fill="#6f9fcb" stroke="none" stroke-width="1"/>
<line x1="415.40" y1="430.07" x2="421.90" y2="430.07" stroke="#000" stroke-width="1.4"/>
<text x="414.40" y="434.13" font-size="11.3" text-anchor="end" fill="#000" stroke="#000" stroke-width="0.15">253J</text>
<rect x="422.50" y="438.64" width="40.20" height="8.40" fill="#6a9bca" stroke="none" stroke-width="1"/>
<line x1="415.40" y1="442.84" x2="421.90" y2="442.84" stroke="#000" stroke-width="1.4"/>
<text x="414.40" y="446.91" font-size="11.3" text-anchor="end" fill="#000" stroke="#000" stroke-width="0.15">UBLC1</text>
<rect x="422.50" y="451.42" width="39.80" height="8.40" fill="#5e8ec4" stroke="none" stroke-width="1"/>
<line x1="415.40" y1="455.62" x2="421.90" y2="455.62" stroke="#000" stroke-width="1.4"/>
<text x="414.40" y="459.69" font-size="11.3" text-anchor="end" fill="#000" stroke="#000" stroke-width="0.15">639V</text>
<rect x="422.50" y="464.20" width="32.60" height="8.40" fill="#4a71b3" stroke="none" stroke-width="1"/>
<line x1="415.40" y1="468.40" x2="421.90" y2="468.40" stroke="#000" stroke-width="1.4"/>
<text x="414.40" y="472.47" font-size="11.3" text-anchor="end" fill="#000" stroke="#000" stroke-width="0.15">UMUC3</text>
<line x1="421.90" y1="226.70" x2="421.90" y2="476.60" stroke="#000" stroke-width="1.5"/>
<line x1="421.20" y1="476.60" x2="495.30" y2="476.60" stroke="#000" stroke-width="1.5"/>
<line x1="421.90" y1="476.60" x2="421.90" y2="481.50" stroke="#000" stroke-width="1.5"/>
<text x="421.90" y="495.47" font-size="11.3" text-anchor="middle" fill="#000" stroke="#000" stroke-width="0.15">0</text>
<line x1="458.25" y1="476.60" x2="458.25" y2="481.50" stroke="#000" stroke-width="1.5"/>
<text x="458.25" y="495.47" font-size="11.3" text-anchor="middle" fill="#000" stroke="#000" stroke-width="0.15">4</text>
<line x1="494.60" y1="476.60" x2="494.60" y2="481.50" stroke="#000" stroke-width="1.5"/>
<text x="494.60" y="495.47" font-size="11.3" text-anchor="middle" fill="#000" stroke="#000" stroke-width="0.15">8</text>
<text x="500.50" y="224.50" font-size="12.5" text-anchor="start" font-weight="bold" fill="#000">G</text>
<text x="606.80" y="249.87" font-size="11.3" text-anchor="middle" fill="#000" stroke="#000" stroke-width="0.15">Different Cells</text>
<line x1="539.40" y1="250.50" x2="539.40" y2="354.50" stroke="#000" stroke-width="1.4"/>
<line x1="538.70" y1="354.50" x2="678.00" y2="354.50" stroke="#000" stroke-width="1.4"/>
<line x1="535.40" y1="354.50" x2="539.40" y2="354.50" stroke="#000" stroke-width="1.4"/>
<text x="532.90" y="358.57" font-size="11.3" text-anchor="end" fill="#000" stroke="#000" stroke-width="0.15">0</text>
<line x1="535.40" y1="319.83" x2="539.40" y2="319.83" stroke="#000" stroke-width="1.4"/>
<text x="532.90" y="323.90" font-size="11.3" text-anchor="end" fill="#000" stroke="#000" stroke-width="0.15">1</text>
<line x1="535.40" y1="285.17" x2="539.40" y2="285.17" stroke="#000" stroke-width="1.4"/>
<text x="532.90" y="289.23" font-size="11.3" text-anchor="end" fill="#000" stroke="#000" stroke-width="0.15">2</text>
<line x1="535.40" y1="250.50" x2="539.40" y2="250.50" stroke="#000" stroke-width="1.4"/>
<text x="532.90" y="254.57" font-size="11.3" text-anchor="end" fill="#000" stroke="#000" stroke-width="0.15">3</text>
<text x="513.90" y="306.67" font-size="11.3" text-anchor="middle" fill="#000" stroke="#000" stroke-width="0.15" transform="rotate(-90 513.90 302.60)">PEDS1 relative EXP</text>
<rect x="549.10" y="271.30" width="16.90" height="83.20" fill="#97a9d3" stroke="none" stroke-width="1"/>
<line x1="557.55" y1="265.06" x2="557.55" y2="277.54" stroke="#7d8aa8" stroke-width="1.0"/>
<line x1="554.05" y1="265.06" x2="561.05" y2="265.06" stroke="#7d8aa8" stroke-width="1.0"/>
<line x1="554.05" y1="277.54" x2="561.05" y2="277.54" stroke="#7d8aa8" stroke-width="1.0"/>
<line x1="557.55" y1="354.50" x2="557.55" y2="358.50" stroke="#000" stroke-width="1.4"/>
<rect x="574.90" y="299.03" width="17.20" height="55.47" fill="#d9d0b7" stroke="none" stroke-width="1"/>
<line x1="583.50" y1="288.29" x2="583.50" y2="309.78" stroke="#a89f88" stroke-width="1.0"/>
<line x1="580.00" y1="288.29" x2="587.00" y2="288.29" stroke="#a89f88" stroke-width="1.0"/>
<line x1="580.00" y1="309.78" x2="587.00" y2="309.78" stroke="#a89f88" stroke-width="1.0"/>
<line x1="583.50" y1="354.50" x2="583.50" y2="358.50" stroke="#000" stroke-width="1.4"/>
<rect x="600.40" y="319.83" width="17.50" height="34.67" fill="#efede8" stroke="none" stroke-width="1"/>
<line x1="609.15" y1="318.10" x2="609.15" y2="321.57" stroke="#b8b5ae" stroke-width="1.0"/>
<line x1="605.65" y1="318.10" x2="612.65" y2="318.10" stroke="#b8b5ae" stroke-width="1.0"/>
<line x1="605.65" y1="321.57" x2="612.65" y2="321.57" stroke="#b8b5ae" stroke-width="1.0"/>
<line x1="609.15" y1="354.50" x2="609.15" y2="358.50" stroke="#000" stroke-width="1.4"/>
<rect x="626.20" y="309.43" width="17.20" height="45.07" fill="#b8e0e6" stroke="none" stroke-width="1"/>
<line x1="634.80" y1="302.15" x2="634.80" y2="316.71" stroke="#8aa5aa" stroke-width="1.0"/>
<line x1="631.30" y1="302.15" x2="638.30" y2="302.15" stroke="#8aa5aa" stroke-width="1.0"/>
<line x1="631.30" y1="316.71" x2="638.30" y2="316.71" stroke="#8aa5aa" stroke-width="1.0"/>
<line x1="634.80" y1="354.50" x2="634.80" y2="358.50" stroke="#000" stroke-width="1.4"/>
<rect x="652.00" y="311.17" width="17.20" height="43.33" fill="#a3a7a9" stroke="none" stroke-width="1"/>
<line x1="660.60" y1="306.66" x2="660.60" y2="315.67" stroke="#7d8184" stroke-width="1.0"/>
<line x1="657.10" y1="306.66" x2="664.10" y2="306.66" stroke="#7d8184" stroke-width="1.0"/>
<line x1="657.10" y1="315.67" x2="664.10" y2="315.67" stroke="#7d8184" stroke-width="1.0"/>
<line x1="660.60" y1="354.50" x2="660.60" y2="358.50" stroke="#000" stroke-width="1.4"/>
<text x="556.40" y="378.57" font-size="11.3" text-anchor="middle" fill="#000" stroke="#000" stroke-width="0.15" transform="rotate(-30 556.40 374.50)">EJ</text>
<text x="581.30" y="377.57" font-size="11.3" text-anchor="middle" fill="#000" stroke="#000" stroke-width="0.15" transform="rotate(-30 581.30 373.50)">T24</text>
<text x="605.10" y="376.57" font-size="11.3" text-anchor="middle" fill="#000" stroke="#000" stroke-width="0.15" transform="rotate(-30 605.10 372.50)">5637</text>
<text x="631.00" y="377.67" font-size="11.3" text-anchor="middle" fill="#000" stroke="#000" stroke-width="0.15" transform="rotate(-30 631.00 373.60)">UMUC3</text>
<text x="651.60" y="380.07" font-size="11.3" text-anchor="middle" fill="#000" stroke="#000" stroke-width="0.15" transform="rotate(-30 651.60 376.00)">HUCSV</text>
<text x="507.40" y="387.70" font-size="12.5" text-anchor="start" font-weight="bold" fill="#000">H</text>
<text x="685.50" y="401.77" font-size="11.3" text-anchor="end" fill="#000" stroke="#000" stroke-width="0.15">(kd)</text>
<rect x="533.80" y="406.60" width="132.40" height="24.90" fill="#ebebeb" stroke="#111" stroke-width="1.2"/>
<ellipse cx="556.60" cy="412.80" rx="9.50" ry="1.60" fill="#111" opacity="0.95" filter="url(#bl1)"/>
<ellipse cx="580.40" cy="412.80" rx="9.50" ry="1.60" fill="#111" opacity="0.8" filter="url(#bl1)"/>
<ellipse cx="601.80" cy="412.80" rx="9.50" ry="1.60" fill="#111" opacity="0.45" filter="url(#bl1)"/>
<ellipse cx="624.80" cy="412.80" rx="9.50" ry="1.60" fill="#111" opacity="0.5" filter="url(#bl1)"/>
<ellipse cx="650.30" cy="412.80" rx="9.50" ry="1.60" fill="#111" opacity="0.6" filter="url(#bl1)"/>
<ellipse cx="556.60" cy="423.00" rx="8.50" ry="2.25" fill="#333" opacity="0.18" filter="url(#bl2)"/>
<ellipse cx="580.40" cy="423.00" rx="8.50" ry="2.25" fill="#333" opacity="0.15" filter="url(#bl2)"/>
<ellipse cx="601.80" cy="423.00" rx="8.50" ry="2.25" fill="#333" opacity="0.08" filter="url(#bl2)"/>
<ellipse cx="624.80" cy="423.00" rx="8.50" ry="2.25" fill="#333" opacity="0.08" filter="url(#bl2)"/>
<ellipse cx="650.30" cy="423.00" rx="8.50" ry="2.25" fill="#333" opacity="0.08" filter="url(#bl2)"/>
<rect x="533.80" y="444.90" width="132.40" height="22.70" fill="#d9d9d9" stroke="#111" stroke-width="1.2"/>
<rect x="547.35" y="453.30" width="18.50" height="7.80" rx="3.51" fill="#0a0a0a" opacity="1.0" filter="url(#bl1)"/>
<rect x="571.15" y="453.60" width="18.50" height="7.80" rx="3.51" fill="#0a0a0a" opacity="1.0" filter="url(#bl1)"/>
<rect x="592.55" y="453.90" width="18.50" height="7.80" rx="3.51" fill="#0a0a0a" opacity="1.0" filter="url(#bl1)"/>
<rect x="615.55" y="453.90" width="18.50" height="7.80" rx="3.51" fill="#0a0a0a" opacity="1.0" filter="url(#bl1)"/>
<rect x="641.05" y="453.60" width="18.50" height="7.80" rx="3.51" fill="#0a0a0a" opacity="1.0" filter="url(#bl1)"/>
<text x="494.50" y="424.47" font-size="11.3" text-anchor="start" fill="#000" stroke="#000" stroke-width="0.15">PEDS1</text>
<text x="531.50" y="460.57" font-size="11.3" text-anchor="end" fill="#000" stroke="#000" stroke-width="0.15">Tubulin</text>
<line x1="666.20" y1="420.40" x2="670.00" y2="420.40" stroke="#000" stroke-width="1.2"/>
<text x="670.50" y="424.67" font-size="11.3" text-anchor="start" fill="#000" stroke="#000" stroke-width="0.15">25</text>
<line x1="666.20" y1="466.20" x2="670.00" y2="466.20" stroke="#000" stroke-width="1.2"/>
<text x="670.50" y="470.47" font-size="11.3" text-anchor="start" fill="#000" stroke="#000" stroke-width="0.15">50</text>
<text x="15.70" y="540.40" font-size="12.5" text-anchor="start" font-weight="bold" fill="#000">I</text>
<text x="73.00" y="531.57" font-size="11.3" text-anchor="start" fill="#000" stroke="#000" stroke-width="0.15">EJ</text>
<text x="95.60" y="531.57" font-size="11.3" text-anchor="start" fill="#000" stroke="#000" stroke-width="0.15">RSL3</text>
<line x1="43.20" y1="564.90" x2="43.20" y2="659.50" stroke="#000" stroke-width="1.4"/>
<line x1="42.50" y1="659.50" x2="137.20" y2="659.50" stroke="#000" stroke-width="1.4"/>
<line x1="39.20" y1="659.50" x2="43.20" y2="659.50" stroke="#000" stroke-width="1.4"/>
<text x="37.70" y="663.57" font-size="11.3" text-anchor="end" fill="#000" stroke="#000" stroke-width="0.15">0</text>
<line x1="39.20" y1="640.58" x2="43.20" y2="640.58" stroke="#000" stroke-width="1.4"/>
<text x="37.70" y="644.65" font-size="11.3" text-anchor="end" fill="#000" stroke="#000" stroke-width="0.15">0.5</text>
<line x1="39.20" y1="621.66" x2="43.20" y2="621.66" stroke="#000" stroke-width="1.4"/>
<text x="37.70" y="625.73" font-size="11.3" text-anchor="end" fill="#000" stroke="#000" stroke-width="0.15">1.0</text>
<line x1="39.20" y1="602.74" x2="43.20" y2="602.74" stroke="#000" stroke-width="1.4"/>
<text x="37.70" y="606.81" font-size="11.3" text-anchor="end" fill="#000" stroke="#000" stroke-width="0.15">1.5</text>
<line x1="39.20" y1="583.82" x2="43.20" y2="583.82" stroke="#000" stroke-width="1.4"/>
<text x="37.70" y="587.89" font-size="11.3" text-anchor="end" fill="#000" stroke="#000" stroke-width="0.15">2.0</text>
<line x1="39.20" y1="564.90" x2="43.20" y2="564.90" stroke="#000" stroke-width="1.4"/>
<text x="37.70" y="568.97" font-size="11.3" text-anchor="end" fill="#000" stroke="#000" stroke-width="0.15">2.5</text>
<text x="8.80" y="617.67" font-size="11.3" text-anchor="middle" fill="#000" stroke="#000" stroke-width="0.15" transform="rotate(-90 8.80 613.60)">PEDS1 relative EXP</text>
<rect x="51.10" y="621.66" width="16.60" height="37.84" fill="#97a9d3" stroke="none" stroke-width="1"/>
<line x1="59.40" y1="616.74" x2="59.40" y2="626.58" stroke="#7d8aa8" stroke-width="1.0"/>
<line x1="55.90" y1="616.74" x2="62.90" y2="616.74" stroke="#7d8aa8" stroke-width="1.0"/>
<line x1="55.90" y1="626.58" x2="62.90" y2="626.58" stroke="#7d8aa8" stroke-width="1.0"/>
<line x1="59.40" y1="659.50" x2="59.40" y2="663.50" stroke="#000" stroke-width="1.4"/>
<text x="59.40" y="674.07" font-size="11.3" text-anchor="middle" fill="#000" stroke="#000" stroke-width="0.15">0</text>
<rect x="73.90" y="620.90" width="16.00" height="38.60" fill="#d9d0b7" stroke="none" stroke-width="1"/>
<line x1="81.90" y1="619.39" x2="81.90" y2="622.42" stroke="#a89f88" stroke-width="1.0"/>
<line x1="78.40" y1="619.39" x2="85.40" y2="619.39" stroke="#a89f88" stroke-width="1.0"/>
<line x1="78.40" y1="622.42" x2="85.40" y2="622.42" stroke="#a89f88" stroke-width="1.0"/>
<line x1="81.90" y1="659.50" x2="81.90" y2="663.50" stroke="#000" stroke-width="1.4"/>
<text x="81.90" y="674.07" font-size="11.3" text-anchor="middle" fill="#000" stroke="#000" stroke-width="0.15">24</text>
<rect x="96.90" y="577.39" width="16.40" height="82.11" fill="#efede8" stroke="none" stroke-width="1"/>
<line x1="105.10" y1="574.74" x2="105.10" y2="580.04" stroke="#b8b5ae" stroke-width="1.0"/>
<line x1="101.60" y1="574.74" x2="108.60" y2="574.74" stroke="#b8b5ae" stroke-width="1.0"/>
<line x1="101.60" y1="580.04" x2="108.60" y2="580.04" stroke="#b8b5ae" stroke-width="1.0"/>
<line x1="105.10" y1="659.50" x2="105.10" y2="663.50" stroke="#000" stroke-width="1.4"/>
<text x="105.10" y="674.07" font-size="11.3" text-anchor="middle" fill="#000" stroke="#000" stroke-width="0.15">48</text>
<rect x="119.70" y="583.06" width="16.10" height="76.44" fill="#b8e0e6" stroke="none" stroke-width="1"/>
<line x1="127.75" y1="579.66" x2="127.75" y2="586.47" stroke="#8aa5aa" stroke-width="1.0"/>
<line x1="124.25" y1="579.66" x2="131.25" y2="579.66" stroke="#8aa5aa" stroke-width="1.0"/>
<line x1="124.25" y1="586.47" x2="131.25" y2="586.47" stroke="#8aa5aa" stroke-width="1.0"/>
<line x1="127.75" y1="659.50" x2="127.75" y2="663.50" stroke="#000" stroke-width="1.4"/>
<text x="127.75" y="674.07" font-size="11.3" text-anchor="middle" fill="#000" stroke="#000" stroke-width="0.15">72</text>
<text x="94.90" y="687.77" font-size="11.3" text-anchor="middle" fill="#000" stroke="#000" stroke-width="0.15">Time (Hour)</text>
<line x1="59.10" y1="549.60" x2="128.00" y2="549.60" stroke="#000" stroke-width="1.5"/>
<path transform="translate(92.50 542.90) rotate(0)" d="M-5.90 -2.20L-5.90 2.20M-7.81 -1.10L-3.99 1.10M-7.81 1.10L-3.99 -1.10M-0.00 -2.20L0.00 2.20M-1.91 -1.10L1.91 1.10M-1.91 1.10L1.91 -1.10M5.90 -2.20L5.90 2.20M3.99 -1.10L7.81 1.10M3.99 1.10L7.81 -1.10" stroke="#000" stroke-width="1.2" stroke-linecap="round" fill="none"/>
<line x1="59.10" y1="566.80" x2="104.60" y2="566.80" stroke="#000" stroke-width="1.5"/>
<path transform="translate(81.30 560.50) rotate(0)" d="M-5.90 -2.20L-5.90 2.20M-7.81 -1.10L-3.99 1.10M-7.81 1.10L-3.99 -1.10M-0.00 -2.20L0.00 2.20M-1.91 -1.10L1.91 1.10M-1.91 1.10L1.91 -1.10M5.90 -2.20L5.90 2.20M3.99 -1.10L7.81 1.10M3.99 1.10L7.81 -1.10" stroke="#000" stroke-width="1.2" stroke-linecap="round" fill="none"/>
<line x1="59.30" y1="609.30" x2="81.80" y2="609.30" stroke="#000" stroke-width="1.5"/>
<text x="70.50" y="606.26" font-size="8.5" text-anchor="middle" fill="#000" stroke="#000" stroke-width="0.15">ns</text>
<text x="14.60" y="700.70" font-size="12.5" text-anchor="start" font-weight="bold" fill="#000">J</text>
<rect x="44.40" y="697.50" width="100.70" height="28.30" fill="#ededed" stroke="#111" stroke-width="1.2"/>
<ellipse cx="59.90" cy="709.30" rx="8.50" ry="1.80" fill="#111" opacity="0.25" filter="url(#bl1)"/>
<ellipse cx="84.70" cy="709.30" rx="8.50" ry="1.80" fill="#111" opacity="0.28" filter="url(#bl1)"/>
<ellipse cx="105.70" cy="709.30" rx="8.50" ry="1.80" fill="#111" opacity="0.95" filter="url(#bl1)"/>
<ellipse cx="127.60" cy="709.30" rx="8.50" ry="1.80" fill="#111" opacity="0.95" filter="url(#bl1)"/>
<ellipse cx="59.90" cy="718.60" rx="7.50" ry="1.50" fill="#222" opacity="0.1" filter="url(#bl2)"/>
<ellipse cx="84.70" cy="718.60" rx="7.50" ry="1.50" fill="#222" opacity="0.12" filter="url(#bl2)"/>
<ellipse cx="105.70" cy="718.60" rx="7.50" ry="1.50" fill="#222" opacity="0.35" filter="url(#bl2)"/>
<ellipse cx="127.60" cy="718.60" rx="7.50" ry="1.50" fill="#222" opacity="0.35" filter="url(#bl2)"/>
<rect x="44.40" y="733.40" width="100.70" height="18.10" fill="#d5d5d5" stroke="#111" stroke-width="1.2"/>
<rect x="51.40" y="739.50" width="17.00" height="6.00" rx="2.70" fill="#080808" opacity="1.0" filter="url(#bl1)"/>
<rect x="76.20" y="738.90" width="17.00" height="6.00" rx="2.70" fill="#080808" opacity="1.0" filter="url(#bl1)"/>
<rect x="97.20" y="738.60" width="17.00" height="6.00" rx="2.70" fill="#080808" opacity="1.0" filter="url(#bl1)"/>
<rect x="119.10" y="738.10" width="17.00" height="6.00" rx="2.70" fill="#080808" opacity="1.0" filter="url(#bl1)"/>
<text x="5.70" y="718.87" font-size="11.3" text-anchor="start" fill="#000" stroke="#000" stroke-width="0.15">PEDS1</text>
<text x="5.80" y="746.87" font-size="11.3" text-anchor="start" fill="#000" stroke="#000" stroke-width="0.15">Tubulin</text>
<text x="145.60" y="698.07" font-size="11.3" text-anchor="start" fill="#000" stroke="#000" stroke-width="0.15">(kd)</text>
<line x1="145.10" y1="717.40" x2="148.50" y2="717.40" stroke="#000" stroke-width="1.2"/>
<text x="148.80" y="721.67" font-size="11.3" text-anchor="start" fill="#000" stroke="#000" stroke-width="0.15">25</text>
<line x1="145.10" y1="750.20" x2="148.50" y2="750.20" stroke="#000" stroke-width="1.2"/>
<text x="148.80" y="754.47" font-size="11.3" text-anchor="start" fill="#000" stroke="#000" stroke-width="0.15">50</text>
<text x="59.90" y="764.37" font-size="11.3" text-anchor="middle" fill="#000" stroke="#000" stroke-width="0.15">0</text>
<text x="84.70" y="764.37" font-size="11.3" text-anchor="middle" fill="#000" stroke="#000" stroke-width="0.15">24</text>
<text x="105.70" y="764.37" font-size="11.3" text-anchor="middle" fill="#000" stroke="#000" stroke-width="0.15">48</text>
<text x="127.60" y="764.37" font-size="11.3" text-anchor="middle" fill="#000" stroke="#000" stroke-width="0.15">72</text>
<text x="138.00" y="764.37" font-size="11.3" text-anchor="start" fill="#000" stroke="#000" stroke-width="0.15">(Hour)</text>
<text x="165.50" y="541.20" font-size="12.5" text-anchor="start" font-weight="bold" fill="#000">K</text>
<text x="214.10" y="525.87" font-size="11.3" text-anchor="start" fill="#000" stroke="#000" stroke-width="0.15">EJ</text>
<line x1="215.90" y1="529.30" x2="215.90" y2="658.30" stroke="#000" stroke-width="1.4"/>
<line x1="215.20" y1="658.30" x2="319.50" y2="658.30" stroke="#000" stroke-width="1.4"/>
<line x1="215.90" y1="658.30" x2="215.90" y2="662.50" stroke="#000" stroke-width="1.4"/>
<text x="215.90" y="675.37" font-size="11.3" text-anchor="middle" fill="#000" stroke="#000" stroke-width="0.15">0</text>
<line x1="230.61" y1="658.30" x2="230.61" y2="662.50" stroke="#000" stroke-width="1.4"/>
<text x="230.61" y="675.37" font-size="11.3" text-anchor="middle" fill="#000" stroke="#000" stroke-width="0.15">1</text>
<line x1="245.33" y1="658.30" x2="245.33" y2="662.50" stroke="#000" stroke-width="1.4"/>
<text x="245.33" y="675.37" font-size="11.3" text-anchor="middle" fill="#000" stroke="#000" stroke-width="0.15">2</text>
<line x1="260.04" y1="658.30" x2="260.04" y2="662.50" stroke="#000" stroke-width="1.4"/>
<text x="260.04" y="675.37" font-size="11.3" text-anchor="middle" fill="#000" stroke="#000" stroke-width="0.15">3</text>
<line x1="274.76" y1="658.30" x2="274.76" y2="662.50" stroke="#000" stroke-width="1.4"/>
<text x="274.76" y="675.37" font-size="11.3" text-anchor="middle" fill="#000" stroke="#000" stroke-width="0.15">4</text>
<line x1="289.47" y1="658.30" x2="289.47" y2="662.50" stroke="#000" stroke-width="1.4"/>
<text x="289.47" y="675.37" font-size="11.3" text-anchor="middle" fill="#000" stroke="#000" stroke-width="0.15">5</text>
<line x1="304.19" y1="658.30" x2="304.19" y2="662.50" stroke="#000" stroke-width="1.4"/>
<text x="304.19" y="675.37" font-size="11.3" text-anchor="middle" fill="#000" stroke="#000" stroke-width="0.15">6</text>
<line x1="318.90" y1="658.30" x2="318.90" y2="662.50" stroke="#000" stroke-width="1.4"/>
<text x="318.90" y="675.37" font-size="11.3" text-anchor="middle" fill="#000" stroke="#000" stroke-width="0.15">7</text>
<text x="267.30" y="687.77" font-size="11.3" text-anchor="middle" fill="#000" stroke="#000" stroke-width="0.15">MDA levels (nmol)</text>
<rect x="216.60" y="534.30" width="30.20" height="10.40" fill="#97a9d3" stroke="none" stroke-width="1"/>
<line x1="245.03" y1="539.50" x2="248.57" y2="539.50" stroke="#7d8aa8" stroke-width="1.0"/>
<line x1="245.03" y1="537.00" x2="245.03" y2="542.00" stroke="#7d8aa8" stroke-width="1.0"/>
<line x1="248.57" y1="537.00" x2="248.57" y2="542.00" stroke="#7d8aa8" stroke-width="1.0"/>
<rect x="216.60" y="547.90" width="44.91" height="10.40" fill="#d9d0b7" stroke="none" stroke-width="1"/>
<line x1="259.45" y1="553.10" x2="263.57" y2="553.10" stroke="#a89f88" stroke-width="1.0"/>
<line x1="259.45" y1="550.60" x2="259.45" y2="555.60" stroke="#a89f88" stroke-width="1.0"/>
<line x1="263.57" y1="550.60" x2="263.57" y2="555.60" stroke="#a89f88" stroke-width="1.0"/>
<rect x="216.60" y="565.80" width="28.73" height="9.90" fill="#97a9d3" stroke="none" stroke-width="1"/>
<line x1="243.86" y1="570.75" x2="246.80" y2="570.75" stroke="#7d8aa8" stroke-width="1.0"/>
<line x1="243.86" y1="568.25" x2="243.86" y2="573.25" stroke="#7d8aa8" stroke-width="1.0"/>
<line x1="246.80" y1="568.25" x2="246.80" y2="573.25" stroke="#7d8aa8" stroke-width="1.0"/>
<rect x="216.60" y="579.40" width="27.99" height="10.00" fill="#d9d0b7" stroke="none" stroke-width="1"/>
<line x1="243.56" y1="584.40" x2="245.62" y2="584.40" stroke="#a89f88" stroke-width="1.0"/>
<line x1="243.56" y1="581.90" x2="243.56" y2="586.90" stroke="#a89f88" stroke-width="1.0"/>
<line x1="245.62" y1="581.90" x2="245.62" y2="586.90" stroke="#a89f88" stroke-width="1.0"/>
<rect x="216.60" y="597.30" width="46.39" height="9.90" fill="#97a9d3" stroke="none" stroke-width="1"/>
<line x1="261.66" y1="602.25" x2="264.31" y2="602.25" stroke="#7d8aa8" stroke-width="1.0"/>
<line x1="261.66" y1="599.75" x2="261.66" y2="604.75" stroke="#7d8aa8" stroke-width="1.0"/>
<line x1="264.31" y1="599.75" x2="264.31" y2="604.75" stroke="#7d8aa8" stroke-width="1.0"/>
<rect x="216.60" y="611.20" width="89.06" height="9.90" fill="#d9d0b7" stroke="none" stroke-width="1"/>
<line x1="304.33" y1="616.15" x2="306.98" y2="616.15" stroke="#a89f88" stroke-width="1.0"/>
<line x1="304.33" y1="613.65" x2="304.33" y2="618.65" stroke="#a89f88" stroke-width="1.0"/>
<line x1="306.98" y1="613.65" x2="306.98" y2="618.65" stroke="#a89f88" stroke-width="1.0"/>
<rect x="216.60" y="629.00" width="29.46" height="10.00" fill="#97a9d3" stroke="none" stroke-width="1"/>
<line x1="245.03" y1="634.00" x2="247.09" y2="634.00" stroke="#7d8aa8" stroke-width="1.0"/>
<line x1="245.03" y1="631.50" x2="245.03" y2="636.50" stroke="#7d8aa8" stroke-width="1.0"/>
<line x1="247.09" y1="631.50" x2="247.09" y2="636.50" stroke="#7d8aa8" stroke-width="1.0"/>
<rect x="216.60" y="642.20" width="29.46" height="10.40" fill="#d9d0b7" stroke="none" stroke-width="1"/>
<line x1="243.86" y1="647.40" x2="248.27" y2="647.40" stroke="#a89f88" stroke-width="1.0"/>
<line x1="243.86" y1="644.90" x2="243.86" y2="649.90" stroke="#a89f88" stroke-width="1.0"/>
<line x1="248.27" y1="644.90" x2="248.27" y2="649.90" stroke="#a89f88" stroke-width="1.0"/>
<line x1="211.90" y1="546.70" x2="215.90" y2="546.70" stroke="#000" stroke-width="1.4"/>
<text x="208.40" y="550.77" font-size="11.3" text-anchor="end" fill="#000" stroke="#000" stroke-width="0.15">DMSO</text>
<line x1="211.90" y1="578.90" x2="215.90" y2="578.90" stroke="#000" stroke-width="1.4"/>
<text x="208.40" y="582.97" font-size="11.3" text-anchor="end" fill="#000" stroke="#000" stroke-width="0.15">Apocynin</text>
<line x1="211.90" y1="609.70" x2="215.90" y2="609.70" stroke="#000" stroke-width="1.4"/>
<text x="208.40" y="613.77" font-size="11.3" text-anchor="end" fill="#000" stroke="#000" stroke-width="0.15">RSL3</text>
<line x1="211.90" y1="641.80" x2="215.90" y2="641.80" stroke="#000" stroke-width="1.4"/>
<text x="208.40" y="639.37" font-size="11.3" text-anchor="end" fill="#000" stroke="#000" stroke-width="0.15">Apocynin</text>
<text x="208.40" y="652.47" font-size="11.3" text-anchor="end" fill="#000" stroke="#000" stroke-width="0.15">+RSL3</text>
<line x1="267.80" y1="539.30" x2="267.80" y2="552.80" stroke="#000" stroke-width="1.5"/>
<path transform="translate(274.40 546.20) rotate(90)" d="M-6.30 -2.30L-6.30 2.30M-8.29 -1.15L-4.31 1.15M-8.29 1.15L-4.31 -1.15M-0.00 -2.30L0.00 2.30M-1.99 -1.15L1.99 1.15M-1.99 1.15L1.99 -1.15M6.30 -2.30L6.30 2.30M4.31 -1.15L8.29 1.15M4.31 1.15L8.29 -1.15" stroke="#000" stroke-width="1.3" stroke-linecap="round" fill="none"/>
<line x1="283.00" y1="553.40" x2="283.00" y2="584.70" stroke="#000" stroke-width="1.5"/>
<path transform="translate(289.40 569.20) rotate(90)" d="M-6.30 -2.30L-6.30 2.30M-8.29 -1.15L-4.31 1.15M-8.29 1.15L-4.31 -1.15M-0.00 -2.30L0.00 2.30M-1.99 -1.15L1.99 1.15M-1.99 1.15L1.99 -1.15M6.30 -2.30L6.30 2.30M4.31 -1.15L8.29 1.15M4.31 1.15L8.29 -1.15" stroke="#000" stroke-width="1.3" stroke-linecap="round" fill="none"/>
<line x1="299.00" y1="539.60" x2="299.00" y2="602.40" stroke="#000" stroke-width="1.5"/>
<path transform="translate(306.00 571.00) rotate(90)" d="M-6.30 -2.30L-6.30 2.30M-8.29 -1.15L-4.31 1.15M-8.29 1.15L-4.31 -1.15M-0.00 -2.30L0.00 2.30M-1.99 -1.15L1.99 1.15M-1.99 1.15L1.99 -1.15M6.30 -2.30L6.30 2.30M4.31 -1.15L8.29 1.15M4.31 1.15L8.29 -1.15" stroke="#000" stroke-width="1.3" stroke-linecap="round" fill="none"/>
<line x1="252.40" y1="571.50" x2="252.40" y2="584.90" stroke="#000" stroke-width="1.5"/>
<text x="259.30" y="581.26" font-size="8.5" text-anchor="middle" fill="#000" stroke="#000" stroke-width="0.15" transform="rotate(90 259.30 578.20)">ns</text>
<line x1="252.40" y1="634.00" x2="252.40" y2="647.70" stroke="#000" stroke-width="1.5"/>
<text x="259.30" y="643.96" font-size="8.5" text-anchor="middle" fill="#000" stroke="#000" stroke-width="0.15" transform="rotate(90 259.30 640.90)">ns</text>
<line x1="311.40" y1="616.20" x2="311.40" y2="647.00" stroke="#000" stroke-width="1.5"/>
<path transform="translate(318.60 631.60) rotate(90)" d="M-9.45 -2.30L-9.45 2.30M-11.44 -1.15L-7.46 1.15M-11.44 1.15L-7.46 -1.15M-3.15 -2.30L-3.15 2.30M-5.14 -1.15L-1.16 1.15M-5.14 1.15L-1.16 -1.15M3.15 -2.30L3.15 2.30M1.16 -1.15L5.14 1.15M1.16 1.15L5.14 -1.15M9.45 -2.30L9.45 2.30M7.46 -1.15L11.44 1.15M7.46 1.15L11.44 -1.15" stroke="#000" stroke-width="1.3" stroke-linecap="round" fill="none"/>
<rect x="289.10" y="516.10" width="12.40" height="6.20" fill="#97a9d3" stroke="none" stroke-width="1"/>
<text x="305.20" y="523.37" font-size="11.3" text-anchor="start" fill="#000" stroke="#000" stroke-width="0.15">NC</text>
<rect x="289.10" y="528.50" width="12.40" height="6.20" fill="#d9d0b7" stroke="none" stroke-width="1"/>
<text x="305.20" y="535.67" font-size="11.3" text-anchor="start" fill="#000" stroke="#000" stroke-width="0.15">sh1</text>
<text x="167.50" y="702.40" font-size="12.5" text-anchor="start" font-weight="bold" fill="#000">L</text>
<rect x="224.90" y="699.20" width="74.60" height="25.50" fill="#ececec" stroke="#111" stroke-width="1.2"/>
<ellipse cx="245.00" cy="708.20" rx="10.00" ry="1.80" fill="#333" opacity="0.4" filter="url(#bl1)"/>
<ellipse cx="282.00" cy="711.50" rx="11.00" ry="3.75" fill="#111" opacity="0.85" filter="url(#bl2)"/>
<ellipse cx="282.00" cy="720.50" rx="9.00" ry="1.50" fill="#333" opacity="0.2" filter="url(#bl2)"/>
<rect x="224.90" y="729.90" width="74.60" height="22.40" fill="#dedede" stroke="#111" stroke-width="1.2"/>
<rect x="235.00" y="738.90" width="20.00" height="5.60" rx="2.52" fill="#080808" opacity="1.0" filter="url(#bl1)"/>
<rect x="272.00" y="739.00" width="20.00" height="5.40" rx="2.43" fill="#080808" opacity="1.0" filter="url(#bl1)"/>
<text x="177.60" y="716.87" font-size="11.3" text-anchor="start" fill="#000" stroke="#000" stroke-width="0.15">PMP70</text>
<text x="179.50" y="745.77" font-size="11.3" text-anchor="start" fill="#000" stroke="#000" stroke-width="0.15">Tubulin</text>
<text x="300.30" y="699.87" font-size="11.3" text-anchor="start" fill="#000" stroke="#000" stroke-width="0.15">(kd)</text>
<line x1="299.50" y1="724.70" x2="303.00" y2="724.70" stroke="#000" stroke-width="1.2"/>
<text x="303.20" y="728.97" font-size="11.3" text-anchor="start" fill="#000" stroke="#000" stroke-width="0.15">70</text>
<line x1="299.50" y1="751.00" x2="303.00" y2="751.00" stroke="#000" stroke-width="1.2"/>
<text x="303.20" y="755.27" font-size="11.3" text-anchor="start" fill="#000" stroke="#000" stroke-width="0.15">50</text>
<text x="247.80" y="762.87" font-size="11.3" text-anchor="middle" fill="#000" stroke="#000" stroke-width="0.15">NC</text>
<text x="280.80" y="762.87" font-size="11.3" text-anchor="middle" fill="#000" stroke="#000" stroke-width="0.15">sh1</text>
<line x1="325.80" y1="699.70" x2="325.80" y2="752.30" stroke="#000" stroke-width="1.3"/>
<text x="331.00" y="731.37" font-size="11.3" text-anchor="start" fill="#000" stroke="#000" stroke-width="0.15">EJ</text>
<text x="346.50" y="542.40" font-size="12.5" text-anchor="start" font-weight="bold" fill="#000">M</text>
<text x="517.40" y="533.17" font-size="11.3" text-anchor="middle" fill="#000" stroke="#000" stroke-width="0.15">EJ</text>
<line x1="416.80" y1="540.70" x2="626.30" y2="540.70" stroke="#000" stroke-width="1.3"/>
<text x="414.50" y="556.77" font-size="11.3" text-anchor="middle" fill="#000" stroke="#000" stroke-width="0.15">PMP70</text>
<text x="517.40" y="556.77" font-size="11.3" text-anchor="middle" fill="#000" stroke="#000" stroke-width="0.15">DAPI</text>
<text x="622.20" y="556.77" font-size="11.3" text-anchor="middle" fill="#000" stroke="#000" stroke-width="0.15">Merge</text>
<text x="354.40" y="607.07" font-size="11.3" text-anchor="middle" fill="#000" stroke="#000" stroke-width="0.15" transform="rotate(-90 354.40 603.00)">sh1</text>
<text x="355.40" y="680.27" font-size="11.3" text-anchor="middle" fill="#000" stroke="#000" stroke-width="0.15" transform="rotate(-90 355.40 676.20)">NC</text>
<g clip-path="url(#cpM00)">
<rect x="364.80" y="566.80" width="99.30" height="71.00" fill="#000" stroke="none" stroke-width="1"/>
<g mask="url(#mNz)"><g filter="url(#fr1)"><ellipse cx="385.9" cy="570.7" rx="5.03" ry="4.34" fill="url(#rgR1)" opacity="0.81" transform="rotate(98 385.9 570.7)"/><ellipse cx="377.8" cy="578.1" rx="5.57" ry="4.81" fill="url(#rgR1)" opacity="0.72" transform="rotate(113 377.8 578.1)"/><ellipse cx="376.6" cy="591.6" rx="4.69" ry="4.05" fill="url(#rgR1)" opacity="0.78" transform="rotate(151 376.6 591.6)"/><ellipse cx="409.5" cy="582.0" rx="5.02" ry="4.34" fill="url(#rgR1)" opacity="0.84" transform="rotate(179 409.5 582.0)"/><ellipse cx="423.6" cy="581.7" rx="5.92" ry="5.11" fill="url(#rgR1)" opacity="0.89" transform="rotate(86 423.6 581.7)"/><ellipse cx="441.3" cy="581.3" rx="4.90" ry="4.23" fill="url(#rgR1)" opacity="0.96" transform="rotate(114 441.3 581.3)"/><ellipse cx="456.9" cy="570.7" rx="5.45" ry="4.71" fill="url(#rgR1)" opacity="0.90" transform="rotate(133 456.9 570.7)"/><ellipse cx="389.7" cy="600.6" rx="4.77" ry="4.12" fill="url(#rgR1)" opacity="0.88" transform="rotate(136 389.7 600.6)"/><ellipse cx="412.9" cy="599.3" rx="5.12" ry="4.42" fill="url(#rgR1)" opacity="0.96" transform="rotate(6 412.9 599.3)"/><ellipse cx="430.7" cy="601.9" rx="5.38" ry="4.64" fill="url(#rgR1)" opacity="0.96" transform="rotate(129 430.7 601.9)"/><ellipse cx="405.8" cy="607.0" rx="5.74" ry="4.95" fill="url(#rgR1)" opacity="0.82" transform="rotate(166 405.8 607.0)"/><ellipse cx="374.6" cy="614.6" rx="5.86" ry="5.06" fill="url(#rgR1)" opacity="0.98" transform="rotate(80 374.6 614.6)"/><ellipse cx="402.6" cy="616.2" rx="5.98" ry="5.16" fill="url(#rgR1)" opacity="0.74" transform="rotate(18 402.6 616.2)"/><ellipse cx="421.2" cy="611.9" rx="5.00" ry="4.32" fill="url(#rgR1)" opacity="0.83" transform="rotate(174 421.2 611.9)"/><ellipse cx="448.7" cy="613.0" rx="5.61" ry="4.84" fill="url(#rgR1)" opacity="0.85" transform="rotate(54 448.7 613.0)"/><ellipse cx="382.7" cy="621.0" rx="5.25" ry="4.53" fill="url(#rgR1)" opacity="0.88" transform="rotate(63 382.7 621.0)"/><ellipse cx="392.3" cy="622.1" rx="5.54" ry="4.79" fill="url(#rgR1)" opacity="0.90" transform="rotate(163 392.3 622.1)"/><ellipse cx="374.6" cy="624.2" rx="6.05" ry="5.23" fill="url(#rgR1)" opacity="1.00" transform="rotate(154 374.6 624.2)"/><ellipse cx="412.7" cy="627.4" rx="5.67" ry="4.90" fill="url(#rgR1)" opacity="0.96" transform="rotate(29 412.7 627.4)"/><ellipse cx="432.8" cy="633.9" rx="6.11" ry="5.27" fill="url(#rgR1)" opacity="0.87" transform="rotate(163 432.8 633.9)"/><ellipse cx="366.9" cy="633.9" rx="5.74" ry="4.95" fill="url(#rgR1)" opacity="0.95" transform="rotate(38 366.9 633.9)"/><ellipse cx="447.2" cy="634.7" rx="5.53" ry="4.77" fill="url(#rgR1)" opacity="0.72" transform="rotate(51 447.2 634.7)"/></g></g>
</g>
<text x="454.60" y="628.87" font-size="5.2" text-anchor="middle" fill="#fff" stroke="#fff" stroke-width="0.15">50μm</text>
<line x1="447.60" y1="631.80" x2="461.10" y2="631.80" stroke="#fff" stroke-width="1.7"/>
<g clip-path="url(#cpM01)">
<rect x="469.30" y="566.80" width="99.60" height="71.00" fill="#000" stroke="none" stroke-width="1"/>
<g filter="url(#fr1)"><ellipse cx="490.4" cy="570.7" rx="2.93" ry="2.47" fill="#2c16f0" opacity="1.00" transform="rotate(98 490.4 570.7)"/><ellipse cx="482.3" cy="578.1" rx="3.24" ry="2.74" fill="#2c16f0" opacity="1.00" transform="rotate(113 482.3 578.1)"/><ellipse cx="481.1" cy="591.6" rx="2.73" ry="2.30" fill="#2c16f0" opacity="1.00" transform="rotate(151 481.1 591.6)"/><ellipse cx="514.0" cy="582.0" rx="2.92" ry="2.47" fill="#2c16f0" opacity="1.00" transform="rotate(179 514.0 582.0)"/><ellipse cx="528.1" cy="581.7" rx="3.44" ry="2.90" fill="#2c16f0" opacity="1.00" transform="rotate(86 528.1 581.7)"/><ellipse cx="545.8" cy="581.3" rx="2.85" ry="2.40" fill="#2c16f0" opacity="1.00" transform="rotate(114 545.8 581.3)"/><ellipse cx="561.4" cy="570.7" rx="3.17" ry="2.68" fill="#2c16f0" opacity="1.00" transform="rotate(133 561.4 570.7)"/><ellipse cx="494.2" cy="600.6" rx="2.78" ry="2.34" fill="#2c16f0" opacity="1.00" transform="rotate(136 494.2 600.6)"/><ellipse cx="517.4" cy="599.3" rx="2.98" ry="2.51" fill="#2c16f0" opacity="1.00" transform="rotate(6 517.4 599.3)"/><ellipse cx="535.2" cy="601.9" rx="3.13" ry="2.64" fill="#2c16f0" opacity="1.00" transform="rotate(129 535.2 601.9)"/><ellipse cx="510.3" cy="607.0" rx="3.34" ry="2.82" fill="#2c16f0" opacity="1.00" transform="rotate(166 510.3 607.0)"/><ellipse cx="479.1" cy="614.6" rx="3.41" ry="2.88" fill="#2c16f0" opacity="1.00" transform="rotate(80 479.1 614.6)"/><ellipse cx="507.1" cy="616.2" rx="3.48" ry="2.94" fill="#2c16f0" opacity="1.00" transform="rotate(18 507.1 616.2)"/><ellipse cx="525.7" cy="611.9" rx="2.91" ry="2.45" fill="#2c16f0" opacity="1.00" transform="rotate(174 525.7 611.9)"/><ellipse cx="553.2" cy="613.0" rx="3.26" ry="2.75" fill="#2c16f0" opacity="1.00" transform="rotate(54 553.2 613.0)"/><ellipse cx="487.2" cy="621.0" rx="3.05" ry="2.58" fill="#2c16f0" opacity="1.00" transform="rotate(63 487.2 621.0)"/><ellipse cx="496.8" cy="622.1" rx="3.22" ry="2.72" fill="#2c16f0" opacity="1.00" transform="rotate(163 496.8 622.1)"/><ellipse cx="479.1" cy="624.2" rx="3.52" ry="2.97" fill="#2c16f0" opacity="1.00" transform="rotate(154 479.1 624.2)"/><ellipse cx="517.2" cy="627.4" rx="3.30" ry="2.78" fill="#2c16f0" opacity="1.00" transform="rotate(29 517.2 627.4)"/><ellipse cx="537.3" cy="633.9" rx="3.55" ry="3.00" fill="#2c16f0" opacity="1.00" transform="rotate(163 537.3 633.9)"/><ellipse cx="471.4" cy="633.9" rx="3.34" ry="2.82" fill="#2c16f0" opacity="1.00" transform="rotate(38 471.4 633.9)"/><ellipse cx="551.7" cy="634.7" rx="3.22" ry="2.71" fill="#2c16f0" opacity="1.00" transform="rotate(51 551.7 634.7)"/></g>
</g>
<text x="559.40" y="628.87" font-size="5.2" text-anchor="middle" fill="#fff" stroke="#fff" stroke-width="0.15">50μm</text>
<line x1="552.40" y1="631.80" x2="565.90" y2="631.80" stroke="#fff" stroke-width="1.7"/>
<g clip-path="url(#cpM02)">
<rect x="574.20" y="566.80" width="99.10" height="71.00" fill="#000" stroke="none" stroke-width="1"/>
<g mask="url(#mNz)"><g filter="url(#fr1)"><ellipse cx="595.3" cy="570.7" rx="5.03" ry="4.34" fill="url(#rgR1)" opacity="0.81" transform="rotate(98 595.3 570.7)"/><ellipse cx="587.2" cy="578.1" rx="5.57" ry="4.81" fill="url(#rgR1)" opacity="0.72" transform="rotate(113 587.2 578.1)"/><ellipse cx="586.0" cy="591.6" rx="4.69" ry="4.05" fill="url(#rgR1)" opacity="0.78" transform="rotate(151 586.0 591.6)"/><ellipse cx="618.9" cy="582.0" rx="5.02" ry="4.34" fill="url(#rgR1)" opacity="0.84" transform="rotate(179 618.9 582.0)"/><ellipse cx="633.0" cy="581.7" rx="5.92" ry="5.11" fill="url(#rgR1)" opacity="0.89" transform="rotate(86 633.0 581.7)"/><ellipse cx="650.7" cy="581.3" rx="4.90" ry="4.23" fill="url(#rgR1)" opacity="0.96" transform="rotate(114 650.7 581.3)"/><ellipse cx="666.3" cy="570.7" rx="5.45" ry="4.71" fill="url(#rgR1)" opacity="0.90" transform="rotate(133 666.3 570.7)"/><ellipse cx="599.1" cy="600.6" rx="4.77" ry="4.12" fill="url(#rgR1)" opacity="0.88" transform="rotate(136 599.1 600.6)"/><ellipse cx="622.3" cy="599.3" rx="5.12" ry="4.42" fill="url(#rgR1)" opacity="0.96" transform="rotate(6 622.3 599.3)"/><ellipse cx="640.1" cy="601.9" rx="5.38" ry="4.64" fill="url(#rgR1)" opacity="0.96" transform="rotate(129 640.1 601.9)"/><ellipse cx="615.2" cy="607.0" rx="5.74" ry="4.95" fill="url(#rgR1)" opacity="0.82" transform="rotate(166 615.2 607.0)"/><ellipse cx="584.0" cy="614.6" rx="5.86" ry="5.06" fill="url(#rgR1)" opacity="0.98" transform="rotate(80 584.0 614.6)"/><ellipse cx="612.0" cy="616.2" rx="5.98" ry="5.16" fill="url(#rgR1)" opacity="0.74" transform="rotate(18 612.0 616.2)"/><ellipse cx="630.6" cy="611.9" rx="5.00" ry="4.32" fill="url(#rgR1)" opacity="0.83" transform="rotate(174 630.6 611.9)"/><ellipse cx="658.1" cy="613.0" rx="5.61" ry="4.84" fill="url(#rgR1)" opacity="0.85" transform="rotate(54 658.1 613.0)"/><ellipse cx="592.1" cy="621.0" rx="5.25" ry="4.53" fill="url(#rgR1)" opacity="0.88" transform="rotate(63 592.1 621.0)"/><ellipse cx="601.7" cy="622.1" rx="5.54" ry="4.79" fill="url(#rgR1)" opacity="0.90" transform="rotate(163 601.7 622.1)"/><ellipse cx="584.0" cy="624.2" rx="6.05" ry="5.23" fill="url(#rgR1)" opacity="1.00" transform="rotate(154 584.0 624.2)"/><ellipse cx="622.1" cy="627.4" rx="5.67" ry="4.90" fill="url(#rgR1)" opacity="0.96" transform="rotate(29 622.1 627.4)"/><ellipse cx="642.2" cy="633.9" rx="6.11" ry="5.27" fill="url(#rgR1)" opacity="0.87" transform="rotate(163 642.2 633.9)"/><ellipse cx="576.3" cy="633.9" rx="5.74" ry="4.95" fill="url(#rgR1)" opacity="0.95" transform="rotate(38 576.3 633.9)"/><ellipse cx="656.6" cy="634.7" rx="5.53" ry="4.77" fill="url(#rgR1)" opacity="0.72" transform="rotate(51 656.6 634.7)"/></g></g>
<g filter="url(#fr1)" opacity="0.95"><ellipse cx="595.3" cy="570.7" rx="2.93" ry="2.47" fill="#2c16f0" opacity="1.00" transform="rotate(98 595.3 570.7)"/><ellipse cx="587.2" cy="578.1" rx="3.24" ry="2.74" fill="#2c16f0" opacity="1.00" transform="rotate(113 587.2 578.1)"/><ellipse cx="586.0" cy="591.6" rx="2.73" ry="2.30" fill="#2c16f0" opacity="1.00" transform="rotate(151 586.0 591.6)"/><ellipse cx="618.9" cy="582.0" rx="2.92" ry="2.47" fill="#2c16f0" opacity="1.00" transform="rotate(179 618.9 582.0)"/><ellipse cx="633.0" cy="581.7" rx="3.44" ry="2.90" fill="#2c16f0" opacity="1.00" transform="rotate(86 633.0 581.7)"/><ellipse cx="650.7" cy="581.3" rx="2.85" ry="2.40" fill="#2c16f0" opacity="1.00" transform="rotate(114 650.7 581.3)"/><ellipse cx="666.3" cy="570.7" rx="3.17" ry="2.68" fill="#2c16f0" opacity="1.00" transform="rotate(133 666.3 570.7)"/><ellipse cx="599.1" cy="600.6" rx="2.78" ry="2.34" fill="#2c16f0" opacity="1.00" transform="rotate(136 599.1 600.6)"/><ellipse cx="622.3" cy="599.3" rx="2.98" ry="2.51" fill="#2c16f0" opacity="1.00" transform="rotate(6 622.3 599.3)"/><ellipse cx="640.1" cy="601.9" rx="3.13" ry="2.64" fill="#2c16f0" opacity="1.00" transform="rotate(129 640.1 601.9)"/><ellipse cx="615.2" cy="607.0" rx="3.34" ry="2.82" fill="#2c16f0" opacity="1.00" transform="rotate(166 615.2 607.0)"/><ellipse cx="584.0" cy="614.6" rx="3.41" ry="2.88" fill="#2c16f0" opacity="1.00" transform="rotate(80 584.0 614.6)"/><ellipse cx="612.0" cy="616.2" rx="3.48" ry="2.94" fill="#2c16f0" opacity="1.00" transform="rotate(18 612.0 616.2)"/><ellipse cx="630.6" cy="611.9" rx="2.91" ry="2.45" fill="#2c16f0" opacity="1.00" transform="rotate(174 630.6 611.9)"/><ellipse cx="658.1" cy="613.0" rx="3.26" ry="2.75" fill="#2c16f0" opacity="1.00" transform="rotate(54 658.1 613.0)"/><ellipse cx="592.1" cy="621.0" rx="3.05" ry="2.58" fill="#2c16f0" opacity="1.00" transform="rotate(63 592.1 621.0)"/><ellipse cx="601.7" cy="622.1" rx="3.22" ry="2.72" fill="#2c16f0" opacity="1.00" transform="rotate(163 601.7 622.1)"/><ellipse cx="584.0" cy="624.2" rx="3.52" ry="2.97" fill="#2c16f0" opacity="1.00" transform="rotate(154 584.0 624.2)"/><ellipse cx="622.1" cy="627.4" rx="3.30" ry="2.78" fill="#2c16f0" opacity="1.00" transform="rotate(29 622.1 627.4)"/><ellipse cx="642.2" cy="633.9" rx="3.55" ry="3.00" fill="#2c16f0" opacity="1.00" transform="rotate(163 642.2 633.9)"/><ellipse cx="576.3" cy="633.9" rx="3.34" ry="2.82" fill="#2c16f0" opacity="1.00" transform="rotate(38 576.3 633.9)"/><ellipse cx="656.6" cy="634.7" rx="3.22" ry="2.71" fill="#2c16f0" opacity="1.00" transform="rotate(51 656.6 634.7)"/></g>
</g>
<text x="663.80" y="628.87" font-size="5.2" text-anchor="middle" fill="#fff" stroke="#fff" stroke-width="0.15">50μm</text>
<line x1="656.80" y1="631.80" x2="670.30" y2="631.80" stroke="#fff" stroke-width="1.7"/>
<g clip-path="url(#cpM10)">
<rect x="364.80" y="640.50" width="99.30" height="71.10" fill="#000" stroke="none" stroke-width="1"/>
<g mask="url(#mNz)"><g filter="url(#fr1)"><ellipse cx="370.9" cy="650.7" rx="4.68" ry="4.04" fill="url(#rgR2)" opacity="0.39" transform="rotate(178 370.9 650.7)"/><ellipse cx="384.3" cy="646.7" rx="4.62" ry="3.99" fill="url(#rgR2)" opacity="0.41" transform="rotate(74 384.3 646.7)"/><ellipse cx="397.8" cy="651.5" rx="4.06" ry="3.51" fill="url(#rgR2)" opacity="0.74" transform="rotate(138 397.8 651.5)"/><ellipse cx="408.7" cy="654.7" rx="3.79" ry="3.27" fill="url(#rgR2)" opacity="0.37" transform="rotate(111 408.7 654.7)"/><ellipse cx="420.7" cy="653.1" rx="4.53" ry="3.91" fill="url(#rgR2)" opacity="0.75" transform="rotate(60 420.7 653.1)"/><ellipse cx="425.5" cy="650.7" rx="4.82" ry="4.16" fill="url(#rgR2)" opacity="0.80" transform="rotate(91 425.5 650.7)"/><ellipse cx="425.5" cy="656.3" rx="4.08" ry="3.52" fill="url(#rgR2)" opacity="0.62" transform="rotate(14 425.5 656.3)"/><ellipse cx="438.7" cy="657.9" rx="3.77" ry="3.26" fill="url(#rgR2)" opacity="0.53" transform="rotate(36 438.7 657.9)"/><ellipse cx="453.6" cy="645.1" rx="4.41" ry="3.81" fill="url(#rgR2)" opacity="0.36" transform="rotate(28 453.6 645.1)"/><ellipse cx="389.1" cy="657.9" rx="4.69" ry="4.05" fill="url(#rgR2)" opacity="0.78" transform="rotate(56 389.1 657.9)"/><ellipse cx="383.8" cy="661.6" rx="4.73" ry="4.08" fill="url(#rgR2)" opacity="0.55" transform="rotate(68 383.8 661.6)"/><ellipse cx="411.9" cy="663.9" rx="4.31" ry="3.72" fill="url(#rgR2)" opacity="0.62" transform="rotate(116 411.9 663.9)"/><ellipse cx="384.6" cy="667.6" rx="4.36" ry="3.76" fill="url(#rgR2)" opacity="0.77" transform="rotate(112 384.6 667.6)"/><ellipse cx="390.2" cy="670.8" rx="4.30" ry="3.71" fill="url(#rgR2)" opacity="0.67" transform="rotate(78 390.2 670.8)"/><ellipse cx="396.6" cy="670.0" rx="4.00" ry="3.46" fill="url(#rgR2)" opacity="0.79" transform="rotate(54 396.6 670.0)"/><ellipse cx="370.1" cy="670.0" rx="4.31" ry="3.73" fill="url(#rgR2)" opacity="0.35" transform="rotate(99 370.1 670.0)"/><ellipse cx="411.6" cy="674.5" rx="4.20" ry="3.62" fill="url(#rgR2)" opacity="0.35" transform="rotate(104 411.6 674.5)"/><ellipse cx="416.7" cy="676.4" rx="4.42" ry="3.82" fill="url(#rgR2)" opacity="0.37" transform="rotate(114 416.7 676.4)"/><ellipse cx="423.1" cy="669.2" rx="4.43" ry="3.83" fill="url(#rgR2)" opacity="0.65" transform="rotate(84 423.1 669.2)"/><ellipse cx="433.6" cy="669.2" rx="4.13" ry="3.56" fill="url(#rgR2)" opacity="0.68" transform="rotate(127 433.6 669.2)"/><ellipse cx="436.0" cy="678.8" rx="3.76" ry="3.25" fill="url(#rgR2)" opacity="0.65" transform="rotate(11 436.0 678.8)"/><ellipse cx="445.6" cy="675.6" rx="4.80" ry="4.15" fill="url(#rgR2)" opacity="0.55" transform="rotate(45 445.6 675.6)"/><ellipse cx="456.9" cy="669.2" rx="4.39" ry="3.79" fill="url(#rgR2)" opacity="0.51" transform="rotate(58 456.9 669.2)"/><ellipse cx="366.9" cy="683.6" rx="4.08" ry="3.53" fill="url(#rgR2)" opacity="0.62" transform="rotate(66 366.9 683.6)"/><ellipse cx="383.0" cy="683.2" rx="4.07" ry="3.52" fill="url(#rgR2)" opacity="0.70" transform="rotate(68 383.0 683.2)"/><ellipse cx="393.4" cy="684.4" rx="3.77" ry="3.26" fill="url(#rgR2)" opacity="0.68" transform="rotate(102 393.4 684.4)"/><ellipse cx="403.1" cy="681.2" rx="4.08" ry="3.52" fill="url(#rgR2)" opacity="0.71" transform="rotate(40 403.1 681.2)"/><ellipse cx="416.7" cy="686.0" rx="4.00" ry="3.46" fill="url(#rgR2)" opacity="0.54" transform="rotate(34 416.7 686.0)"/><ellipse cx="426.0" cy="686.0" rx="4.51" ry="3.89" fill="url(#rgR2)" opacity="0.49" transform="rotate(18 426.0 686.0)"/><ellipse cx="425.5" cy="679.6" rx="4.11" ry="3.55" fill="url(#rgR2)" opacity="0.54" transform="rotate(150 425.5 679.6)"/><ellipse cx="451.2" cy="685.2" rx="4.68" ry="4.04" fill="url(#rgR2)" opacity="0.50" transform="rotate(30 451.2 685.2)"/><ellipse cx="383.8" cy="695.7" rx="4.46" ry="3.85" fill="url(#rgR2)" opacity="0.55" transform="rotate(159 383.8 695.7)"/><ellipse cx="394.2" cy="697.0" rx="3.99" ry="3.44" fill="url(#rgR2)" opacity="0.59" transform="rotate(22 394.2 697.0)"/><ellipse cx="407.1" cy="699.7" rx="3.95" ry="3.41" fill="url(#rgR2)" opacity="0.73" transform="rotate(145 407.1 699.7)"/><ellipse cx="434.1" cy="694.9" rx="3.94" ry="3.40" fill="url(#rgR2)" opacity="0.71" transform="rotate(50 434.1 694.9)"/><ellipse cx="366.9" cy="695.7" rx="4.45" ry="3.84" fill="url(#rgR2)" opacity="0.50" transform="rotate(145 366.9 695.7)"/><ellipse cx="411.1" cy="708.5" rx="3.88" ry="3.35" fill="url(#rgR2)" opacity="0.71" transform="rotate(53 411.1 708.5)"/><ellipse cx="431.2" cy="706.9" rx="4.04" ry="3.49" fill="url(#rgR2)" opacity="0.53" transform="rotate(62 431.2 706.9)"/><ellipse cx="387.8" cy="709.3" rx="4.20" ry="3.63" fill="url(#rgR2)" opacity="0.76" transform="rotate(74 387.8 709.3)"/><ellipse cx="456.9" cy="701.3" rx="3.91" ry="3.38" fill="url(#rgR2)" opacity="0.77" transform="rotate(1 456.9 701.3)"/><ellipse cx="410.8" cy="641.1" rx="4.71" ry="4.07" fill="url(#rgR2)" opacity="0.54" transform="rotate(178 410.8 641.1)"/><ellipse cx="444.0" cy="653.9" rx="4.79" ry="4.13" fill="url(#rgR2)" opacity="0.45" transform="rotate(167 444.0 653.9)"/><ellipse cx="375.8" cy="705.3" rx="4.56" ry="3.94" fill="url(#rgR2)" opacity="0.65" transform="rotate(151 375.8 705.3)"/><ellipse cx="450.4" cy="708.5" rx="4.31" ry="3.72" fill="url(#rgR2)" opacity="0.50" transform="rotate(52 450.4 708.5)"/></g></g>
</g>
<text x="454.60" y="702.67" font-size="5.2" text-anchor="middle" fill="#fff" stroke="#fff" stroke-width="0.15">50μm</text>
<line x1="447.60" y1="705.60" x2="461.10" y2="705.60" stroke="#fff" stroke-width="1.7"/>
<g clip-path="url(#cpM11)">
<rect x="469.30" y="640.50" width="99.60" height="71.10" fill="#000" stroke="none" stroke-width="1"/>
<g filter="url(#fr1)"><ellipse cx="475.4" cy="650.7" rx="3.19" ry="2.55" fill="#2c16f0" opacity="0.65" transform="rotate(178 475.4 650.7)"/><ellipse cx="488.8" cy="646.7" rx="3.15" ry="2.52" fill="#2c16f0" opacity="0.67" transform="rotate(74 488.8 646.7)"/><ellipse cx="502.3" cy="651.5" rx="2.77" ry="2.22" fill="#2c16f0" opacity="0.95" transform="rotate(138 502.3 651.5)"/><ellipse cx="513.2" cy="654.7" rx="2.58" ry="2.07" fill="#2c16f0" opacity="0.63" transform="rotate(111 513.2 654.7)"/><ellipse cx="525.2" cy="653.1" rx="3.09" ry="2.47" fill="#2c16f0" opacity="0.95" transform="rotate(60 525.2 653.1)"/><ellipse cx="530.0" cy="650.7" rx="3.29" ry="2.63" fill="#2c16f0" opacity="1.00" transform="rotate(91 530.0 650.7)"/><ellipse cx="530.0" cy="656.3" rx="2.78" ry="2.23" fill="#2c16f0" opacity="0.85" transform="rotate(14 530.0 656.3)"/><ellipse cx="543.2" cy="657.9" rx="2.57" ry="2.06" fill="#2c16f0" opacity="0.77" transform="rotate(36 543.2 657.9)"/><ellipse cx="558.1" cy="645.1" rx="3.01" ry="2.41" fill="#2c16f0" opacity="0.63" transform="rotate(28 558.1 645.1)"/><ellipse cx="493.6" cy="657.9" rx="3.20" ry="2.56" fill="#2c16f0" opacity="0.98" transform="rotate(56 493.6 657.9)"/><ellipse cx="488.3" cy="661.6" rx="3.22" ry="2.58" fill="#2c16f0" opacity="0.79" transform="rotate(68 488.3 661.6)"/><ellipse cx="516.4" cy="663.9" rx="2.94" ry="2.35" fill="#2c16f0" opacity="0.84" transform="rotate(116 516.4 663.9)"/><ellipse cx="489.1" cy="667.6" rx="2.97" ry="2.38" fill="#2c16f0" opacity="0.98" transform="rotate(112 489.1 667.6)"/><ellipse cx="494.7" cy="670.8" rx="2.93" ry="2.34" fill="#2c16f0" opacity="0.89" transform="rotate(78 494.7 670.8)"/><ellipse cx="501.1" cy="670.0" rx="2.73" ry="2.18" fill="#2c16f0" opacity="0.99" transform="rotate(54 501.1 670.0)"/><ellipse cx="474.6" cy="670.0" rx="2.94" ry="2.35" fill="#2c16f0" opacity="0.62" transform="rotate(99 474.6 670.0)"/><ellipse cx="516.1" cy="674.5" rx="2.86" ry="2.29" fill="#2c16f0" opacity="0.62" transform="rotate(104 516.1 674.5)"/><ellipse cx="521.2" cy="676.4" rx="3.01" ry="2.41" fill="#2c16f0" opacity="0.64" transform="rotate(114 521.2 676.4)"/><ellipse cx="527.6" cy="669.2" rx="3.02" ry="2.42" fill="#2c16f0" opacity="0.88" transform="rotate(84 527.6 669.2)"/><ellipse cx="538.1" cy="669.2" rx="2.81" ry="2.25" fill="#2c16f0" opacity="0.90" transform="rotate(127 538.1 669.2)"/><ellipse cx="540.5" cy="678.8" rx="2.57" ry="2.05" fill="#2c16f0" opacity="0.88" transform="rotate(11 540.5 678.8)"/><ellipse cx="550.1" cy="675.6" rx="3.27" ry="2.62" fill="#2c16f0" opacity="0.79" transform="rotate(45 550.1 675.6)"/><ellipse cx="561.4" cy="669.2" rx="2.99" ry="2.40" fill="#2c16f0" opacity="0.76" transform="rotate(58 561.4 669.2)"/><ellipse cx="471.4" cy="683.6" rx="2.78" ry="2.23" fill="#2c16f0" opacity="0.84" transform="rotate(66 471.4 683.6)"/><ellipse cx="487.5" cy="683.2" rx="2.78" ry="2.22" fill="#2c16f0" opacity="0.91" transform="rotate(68 487.5 683.2)"/><ellipse cx="497.9" cy="684.4" rx="2.57" ry="2.06" fill="#2c16f0" opacity="0.90" transform="rotate(102 497.9 684.4)"/><ellipse cx="507.6" cy="681.2" rx="2.78" ry="2.23" fill="#2c16f0" opacity="0.92" transform="rotate(40 507.6 681.2)"/><ellipse cx="521.2" cy="686.0" rx="2.73" ry="2.18" fill="#2c16f0" opacity="0.78" transform="rotate(34 521.2 686.0)"/><ellipse cx="530.5" cy="686.0" rx="3.07" ry="2.46" fill="#2c16f0" opacity="0.74" transform="rotate(18 530.5 686.0)"/><ellipse cx="530.0" cy="679.6" rx="2.80" ry="2.24" fill="#2c16f0" opacity="0.78" transform="rotate(150 530.0 679.6)"/><ellipse cx="555.7" cy="685.2" rx="3.19" ry="2.55" fill="#2c16f0" opacity="0.74" transform="rotate(30 555.7 685.2)"/><ellipse cx="488.3" cy="695.7" rx="3.04" ry="2.43" fill="#2c16f0" opacity="0.79" transform="rotate(159 488.3 695.7)"/><ellipse cx="498.7" cy="697.0" rx="2.72" ry="2.18" fill="#2c16f0" opacity="0.82" transform="rotate(22 498.7 697.0)"/><ellipse cx="511.6" cy="699.7" rx="2.69" ry="2.15" fill="#2c16f0" opacity="0.94" transform="rotate(145 511.6 699.7)"/><ellipse cx="538.6" cy="694.9" rx="2.69" ry="2.15" fill="#2c16f0" opacity="0.93" transform="rotate(50 538.6 694.9)"/><ellipse cx="471.4" cy="695.7" rx="3.03" ry="2.43" fill="#2c16f0" opacity="0.75" transform="rotate(145 471.4 695.7)"/><ellipse cx="515.6" cy="708.5" rx="2.65" ry="2.12" fill="#2c16f0" opacity="0.92" transform="rotate(53 515.6 708.5)"/><ellipse cx="535.7" cy="706.9" rx="2.75" ry="2.20" fill="#2c16f0" opacity="0.78" transform="rotate(62 535.7 706.9)"/><ellipse cx="492.3" cy="709.3" rx="2.86" ry="2.29" fill="#2c16f0" opacity="0.97" transform="rotate(74 492.3 709.3)"/><ellipse cx="561.4" cy="701.3" rx="2.67" ry="2.13" fill="#2c16f0" opacity="0.98" transform="rotate(1 561.4 701.3)"/><ellipse cx="515.3" cy="641.1" rx="3.21" ry="2.57" fill="#2c16f0" opacity="0.78" transform="rotate(178 515.3 641.1)"/><ellipse cx="548.5" cy="653.9" rx="3.26" ry="2.61" fill="#2c16f0" opacity="0.70" transform="rotate(167 548.5 653.9)"/><ellipse cx="480.3" cy="705.3" rx="3.11" ry="2.49" fill="#2c16f0" opacity="0.87" transform="rotate(151 480.3 705.3)"/><ellipse cx="554.9" cy="708.5" rx="2.94" ry="2.35" fill="#2c16f0" opacity="0.75" transform="rotate(52 554.9 708.5)"/></g>
</g>
<text x="559.40" y="702.67" font-size="5.2" text-anchor="middle" fill="#fff" stroke="#fff" stroke-width="0.15">50μm</text>
<line x1="552.40" y1="705.60" x2="565.90" y2="705.60" stroke="#fff" stroke-width="1.7"/>
<g clip-path="url(#cpM12)">
<rect x="574.20" y="640.50" width="99.10" height="71.10" fill="#000" stroke="none" stroke-width="1"/>
<g mask="url(#mNz)"><g filter="url(#fr1)"><ellipse cx="580.3" cy="650.7" rx="4.68" ry="4.04" fill="url(#rgR2)" opacity="0.39" transform="rotate(178 580.3 650.7)"/><ellipse cx="593.7" cy="646.7" rx="4.62" ry="3.99" fill="url(#rgR2)" opacity="0.41" transform="rotate(74 593.7 646.7)"/><ellipse cx="607.2" cy="651.5" rx="4.06" ry="3.51" fill="url(#rgR2)" opacity="0.74" transform="rotate(138 607.2 651.5)"/><ellipse cx="618.1" cy="654.7" rx="3.79" ry="3.27" fill="url(#rgR2)" opacity="0.37" transform="rotate(111 618.1 654.7)"/><ellipse cx="630.1" cy="653.1" rx="4.53" ry="3.91" fill="url(#rgR2)" opacity="0.75" transform="rotate(60 630.1 653.1)"/><ellipse cx="634.9" cy="650.7" rx="4.82" ry="4.16" fill="url(#rgR2)" opacity="0.80" transform="rotate(91 634.9 650.7)"/><ellipse cx="634.9" cy="656.3" rx="4.08" ry="3.52" fill="url(#rgR2)" opacity="0.62" transform="rotate(14 634.9 656.3)"/><ellipse cx="648.1" cy="657.9" rx="3.77" ry="3.26" fill="url(#rgR2)" opacity="0.53" transform="rotate(36 648.1 657.9)"/><ellipse cx="663.0" cy="645.1" rx="4.41" ry="3.81" fill="url(#rgR2)" opacity="0.36" transform="rotate(28 663.0 645.1)"/><ellipse cx="598.5" cy="657.9" rx="4.69" ry="4.05" fill="url(#rgR2)" opacity="0.78" transform="rotate(56 598.5 657.9)"/><ellipse cx="593.2" cy="661.6" rx="4.73" ry="4.08" fill="url(#rgR2)" opacity="0.55" transform="rotate(68 593.2 661.6)"/><ellipse cx="621.3" cy="663.9" rx="4.31" ry="3.72" fill="url(#rgR2)" opacity="0.62" transform="rotate(116 621.3 663.9)"/><ellipse cx="594.0" cy="667.6" rx="4.36" ry="3.76" fill="url(#rgR2)" opacity="0.77" transform="rotate(112 594.0 667.6)"/><ellipse cx="599.6" cy="670.8" rx="4.30" ry="3.71" fill="url(#rgR2)" opacity="0.67" transform="rotate(78 599.6 670.8)"/><ellipse cx="606.0" cy="670.0" rx="4.00" ry="3.46" fill="url(#rgR2)" opacity="0.79" transform="rotate(54 606.0 670.0)"/><ellipse cx="579.5" cy="670.0" rx="4.31" ry="3.73" fill="url(#rgR2)" opacity="0.35" transform="rotate(99 579.5 670.0)"/><ellipse cx="621.0" cy="674.5" rx="4.20" ry="3.62" fill="url(#rgR2)" opacity="0.35" transform="rotate(104 621.0 674.5)"/><ellipse cx="626.1" cy="676.4" rx="4.42" ry="3.82" fill="url(#rgR2)" opacity="0.37" transform="rotate(114 626.1 676.4)"/><ellipse cx="632.5" cy="669.2" rx="4.43" ry="3.83" fill="url(#rgR2)" opacity="0.65" transform="rotate(84 632.5 669.2)"/><ellipse cx="643.0" cy="669.2" rx="4.13" ry="3.56" fill="url(#rgR2)" opacity="0.68" transform="rotate(127 643.0 669.2)"/><ellipse cx="645.4" cy="678.8" rx="3.76" ry="3.25" fill="url(#rgR2)" opacity="0.65" transform="rotate(11 645.4 678.8)"/><ellipse cx="655.0" cy="675.6" rx="4.80" ry="4.15" fill="url(#rgR2)" opacity="0.55" transform="rotate(45 655.0 675.6)"/><ellipse cx="666.3" cy="669.2" rx="4.39" ry="3.79" fill="url(#rgR2)" opacity="0.51" transform="rotate(58 666.3 669.2)"/><ellipse cx="576.3" cy="683.6" rx="4.08" ry="3.53" fill="url(#rgR2)" opacity="0.62" transform="rotate(66 576.3 683.6)"/><ellipse cx="592.4" cy="683.2" rx="4.07" ry="3.52" fill="url(#rgR2)" opacity="0.70" transform="rotate(68 592.4 683.2)"/><ellipse cx="602.8" cy="684.4" rx="3.77" ry="3.26" fill="url(#rgR2)" opacity="0.68" transform="rotate(102 602.8 684.4)"/><ellipse cx="612.5" cy="681.2" rx="4.08" ry="3.52" fill="url(#rgR2)" opacity="0.71" transform="rotate(40 612.5 681.2)"/><ellipse cx="626.1" cy="686.0" rx="4.00" ry="3.46" fill="url(#rgR2)" opacity="0.54" transform="rotate(34 626.1 686.0)"/><ellipse cx="635.4" cy="686.0" rx="4.51" ry="3.89" fill="url(#rgR2)" opacity="0.49" transform="rotate(18 635.4 686.0)"/><ellipse cx="634.9" cy="679.6" rx="4.11" ry="3.55" fill="url(#rgR2)" opacity="0.54" transform="rotate(150 634.9 679.6)"/><ellipse cx="660.6" cy="685.2" rx="4.68" ry="4.04" fill="url(#rgR2)" opacity="0.50" transform="rotate(30 660.6 685.2)"/><ellipse cx="593.2" cy="695.7" rx="4.46" ry="3.85" fill="url(#rgR2)" opacity="0.55" transform="rotate(159 593.2 695.7)"/><ellipse cx="603.6" cy="697.0" rx="3.99" ry="3.44" fill="url(#rgR2)" opacity="0.59" transform="rotate(22 603.6 697.0)"/><ellipse cx="616.5" cy="699.7" rx="3.95" ry="3.41" fill="url(#rgR2)" opacity="0.73" transform="rotate(145 616.5 699.7)"/><ellipse cx="643.5" cy="694.9" rx="3.94" ry="3.40" fill="url(#rgR2)" opacity="0.71" transform="rotate(50 643.5 694.9)"/><ellipse cx="576.3" cy="695.7" rx="4.45" ry="3.84" fill="url(#rgR2)" opacity="0.50" transform="rotate(145 576.3 695.7)"/><ellipse cx="620.5" cy="708.5" rx="3.88" ry="3.35" fill="url(#rgR2)" opacity="0.71" transform="rotate(53 620.5 708.5)"/><ellipse cx="640.6" cy="706.9" rx="4.04" ry="3.49" fill="url(#rgR2)" opacity="0.53" transform="rotate(62 640.6 706.9)"/><ellipse cx="597.2" cy="709.3" rx="4.20" ry="3.63" fill="url(#rgR2)" opacity="0.76" transform="rotate(74 597.2 709.3)"/><ellipse cx="666.3" cy="701.3" rx="3.91" ry="3.38" fill="url(#rgR2)" opacity="0.77" transform="rotate(1 666.3 701.3)"/><ellipse cx="620.2" cy="641.1" rx="4.71" ry="4.07" fill="url(#rgR2)" opacity="0.54" transform="rotate(178 620.2 641.1)"/><ellipse cx="653.4" cy="653.9" rx="4.79" ry="4.13" fill="url(#rgR2)" opacity="0.45" transform="rotate(167 653.4 653.9)"/><ellipse cx="585.2" cy="705.3" rx="4.56" ry="3.94" fill="url(#rgR2)" opacity="0.65" transform="rotate(151 585.2 705.3)"/><ellipse cx="659.8" cy="708.5" rx="4.31" ry="3.72" fill="url(#rgR2)" opacity="0.50" transform="rotate(52 659.8 708.5)"/></g></g>
<g filter="url(#fr1)" opacity="0.95"><ellipse cx="580.3" cy="650.7" rx="3.19" ry="2.55" fill="#2c16f0" opacity="0.65" transform="rotate(178 580.3 650.7)"/><ellipse cx="593.7" cy="646.7" rx="3.15" ry="2.52" fill="#2c16f0" opacity="0.67" transform="rotate(74 593.7 646.7)"/><ellipse cx="607.2" cy="651.5" rx="2.77" ry="2.22" fill="#2c16f0" opacity="0.95" transform="rotate(138 607.2 651.5)"/><ellipse cx="618.1" cy="654.7" rx="2.58" ry="2.07" fill="#2c16f0" opacity="0.63" transform="rotate(111 618.1 654.7)"/><ellipse cx="630.1" cy="653.1" rx="3.09" ry="2.47" fill="#2c16f0" opacity="0.95" transform="rotate(60 630.1 653.1)"/><ellipse cx="634.9" cy="650.7" rx="3.29" ry="2.63" fill="#2c16f0" opacity="1.00" transform="rotate(91 634.9 650.7)"/><ellipse cx="634.9" cy="656.3" rx="2.78" ry="2.23" fill="#2c16f0" opacity="0.85" transform="rotate(14 634.9 656.3)"/><ellipse cx="648.1" cy="657.9" rx="2.57" ry="2.06" fill="#2c16f0" opacity="0.77" transform="rotate(36 648.1 657.9)"/><ellipse cx="663.0" cy="645.1" rx="3.01" ry="2.41" fill="#2c16f0" opacity="0.63" transform="rotate(28 663.0 645.1)"/><ellipse cx="598.5" cy="657.9" rx="3.20" ry="2.56" fill="#2c16f0" opacity="0.98" transform="rotate(56 598.5 657.9)"/><ellipse cx="593.2" cy="661.6" rx="3.22" ry="2.58" fill="#2c16f0" opacity="0.79" transform="rotate(68 593.2 661.6)"/><ellipse cx="621.3" cy="663.9" rx="2.94" ry="2.35" fill="#2c16f0" opacity="0.84" transform="rotate(116 621.3 663.9)"/><ellipse cx="594.0" cy="667.6" rx="2.97" ry="2.38" fill="#2c16f0" opacity="0.98" transform="rotate(112 594.0 667.6)"/><ellipse cx="599.6" cy="670.8" rx="2.93" ry="2.34" fill="#2c16f0" opacity="0.89" transform="rotate(78 599.6 670.8)"/><ellipse cx="606.0" cy="670.0" rx="2.73" ry="2.18" fill="#2c16f0" opacity="0.99" transform="rotate(54 606.0 670.0)"/><ellipse cx="579.5" cy="670.0" rx="2.94" ry="2.35" fill="#2c16f0" opacity="0.62" transform="rotate(99 579.5 670.0)"/><ellipse cx="621.0" cy="674.5" rx="2.86" ry="2.29" fill="#2c16f0" opacity="0.62" transform="rotate(104 621.0 674.5)"/><ellipse cx="626.1" cy="676.4" rx="3.01" ry="2.41" fill="#2c16f0" opacity="0.64" transform="rotate(114 626.1 676.4)"/><ellipse cx="632.5" cy="669.2" rx="3.02" ry="2.42" fill="#2c16f0" opacity="0.88" transform="rotate(84 632.5 669.2)"/><ellipse cx="643.0" cy="669.2" rx="2.81" ry="2.25" fill="#2c16f0" opacity="0.90" transform="rotate(127 643.0 669.2)"/><ellipse cx="645.4" cy="678.8" rx="2.57" ry="2.05" fill="#2c16f0" opacity="0.88" transform="rotate(11 645.4 678.8)"/><ellipse cx="655.0" cy="675.6" rx="3.27" ry="2.62" fill="#2c16f0" opacity="0.79" transform="rotate(45 655.0 675.6)"/><ellipse cx="666.3" cy="669.2" rx="2.99" ry="2.40" fill="#2c16f0" opacity="0.76" transform="rotate(58 666.3 669.2)"/><ellipse cx="576.3" cy="683.6" rx="2.78" ry="2.23" fill="#2c16f0" opacity="0.84" transform="rotate(66 576.3 683.6)"/><ellipse cx="592.4" cy="683.2" rx="2.78" ry="2.22" fill="#2c16f0" opacity="0.91" transform="rotate(68 592.4 683.2)"/><ellipse cx="602.8" cy="684.4" rx="2.57" ry="2.06" fill="#2c16f0" opacity="0.90" transform="rotate(102 602.8 684.4)"/><ellipse cx="612.5" cy="681.2" rx="2.78" ry="2.23" fill="#2c16f0" opacity="0.92" transform="rotate(40 612.5 681.2)"/><ellipse cx="626.1" cy="686.0" rx="2.73" ry="2.18" fill="#2c16f0" opacity="0.78" transform="rotate(34 626.1 686.0)"/><ellipse cx="635.4" cy="686.0" rx="3.07" ry="2.46" fill="#2c16f0" opacity="0.74" transform="rotate(18 635.4 686.0)"/><ellipse cx="634.9" cy="679.6" rx="2.80" ry="2.24" fill="#2c16f0" opacity="0.78" transform="rotate(150 634.9 679.6)"/><ellipse cx="660.6" cy="685.2" rx="3.19" ry="2.55" fill="#2c16f0" opacity="0.74" transform="rotate(30 660.6 685.2)"/><ellipse cx="593.2" cy="695.7" rx="3.04" ry="2.43" fill="#2c16f0" opacity="0.79" transform="rotate(159 593.2 695.7)"/><ellipse cx="603.6" cy="697.0" rx="2.72" ry="2.18" fill="#2c16f0" opacity="0.82" transform="rotate(22 603.6 697.0)"/><ellipse cx="616.5" cy="699.7" rx="2.69" ry="2.15" fill="#2c16f0" opacity="0.94" transform="rotate(145 616.5 699.7)"/><ellipse cx="643.5" cy="694.9" rx="2.69" ry="2.15" fill="#2c16f0" opacity="0.93" transform="rotate(50 643.5 694.9)"/><ellipse cx="576.3" cy="695.7" rx="3.03" ry="2.43" fill="#2c16f0" opacity="0.75" transform="rotate(145 576.3 695.7)"/><ellipse cx="620.5" cy="708.5" rx="2.65" ry="2.12" fill="#2c16f0" opacity="0.92" transform="rotate(53 620.5 708.5)"/><ellipse cx="640.6" cy="706.9" rx="2.75" ry="2.20" fill="#2c16f0" opacity="0.78" transform="rotate(62 640.6 706.9)"/><ellipse cx="597.2" cy="709.3" rx="2.86" ry="2.29" fill="#2c16f0" opacity="0.97" transform="rotate(74 597.2 709.3)"/><ellipse cx="666.3" cy="701.3" rx="2.67" ry="2.13" fill="#2c16f0" opacity="0.98" transform="rotate(1 666.3 701.3)"/><ellipse cx="620.2" cy="641.1" rx="3.21" ry="2.57" fill="#2c16f0" opacity="0.78" transform="rotate(178 620.2 641.1)"/><ellipse cx="653.4" cy="653.9" rx="3.26" ry="2.61" fill="#2c16f0" opacity="0.70" transform="rotate(167 653.4 653.9)"/><ellipse cx="585.2" cy="705.3" rx="3.11" ry="2.49" fill="#2c16f0" opacity="0.87" transform="rotate(151 585.2 705.3)"/><ellipse cx="659.8" cy="708.5" rx="2.94" ry="2.35" fill="#2c16f0" opacity="0.75" transform="rotate(52 659.8 708.5)"/></g>
</g>
<text x="663.80" y="702.67" font-size="5.2" text-anchor="middle" fill="#fff" stroke="#fff" stroke-width="0.15">50μm</text>
<line x1="656.80" y1="705.60" x2="670.30" y2="705.60" stroke="#fff" stroke-width="1.7"/>
<text x="15.00" y="787.40" font-size="12.5" text-anchor="start" font-weight="bold" fill="#000">N</text>
<text x="30.30" y="800.14" font-size="11.5" text-anchor="start" fill="#000" stroke="#000" stroke-width="0.15">Y = 0.2710X + 0.8985</text>
<text x="30.3" y="813.8" font-size="11.5" fill="#000">R<tspan font-size="7.5" dy="-4.5">2</tspan><tspan dy="4.5">= 0.8884</tspan></text>
<line x1="47.20" y1="834.00" x2="47.20" y2="913.00" stroke="#000" stroke-width="1.4"/>
<line x1="46.50" y1="913.00" x2="126.10" y2="913.00" stroke="#000" stroke-width="1.4"/>
<line x1="43.20" y1="913.00" x2="47.20" y2="913.00" stroke="#000" stroke-width="1.4"/>
<text x="41.70" y="917.07" font-size="11.3" text-anchor="end" fill="#000" stroke="#000" stroke-width="0.15">0</text>
<line x1="43.20" y1="893.25" x2="47.20" y2="893.25" stroke="#000" stroke-width="1.4"/>
<text x="41.70" y="897.32" font-size="11.3" text-anchor="end" fill="#000" stroke="#000" stroke-width="0.15">5</text>
<line x1="43.20" y1="873.50" x2="47.20" y2="873.50" stroke="#000" stroke-width="1.4"/>
<text x="41.70" y="877.57" font-size="11.3" text-anchor="end" fill="#000" stroke="#000" stroke-width="0.15">10</text>
<line x1="43.20" y1="853.75" x2="47.20" y2="853.75" stroke="#000" stroke-width="1.4"/>
<text x="41.70" y="857.82" font-size="11.3" text-anchor="end" fill="#000" stroke="#000" stroke-width="0.15">15</text>
<line x1="43.20" y1="834.00" x2="47.20" y2="834.00" stroke="#000" stroke-width="1.4"/>
<text x="41.70" y="838.07" font-size="11.3" text-anchor="end" fill="#000" stroke="#000" stroke-width="0.15">20</text>
<line x1="47.20" y1="913.00" x2="47.20" y2="917.00" stroke="#000" stroke-width="1.4"/>
<text x="47.20" y="930.47" font-size="11.3" text-anchor="middle" fill="#000" stroke="#000" stroke-width="0.15">0</text>
<line x1="66.92" y1="913.00" x2="66.92" y2="917.00" stroke="#000" stroke-width="1.4"/>
<text x="66.92" y="930.47" font-size="11.3" text-anchor="middle" fill="#000" stroke="#000" stroke-width="0.15">20</text>
<line x1="86.65" y1="913.00" x2="86.65" y2="917.00" stroke="#000" stroke-width="1.4"/>
<text x="86.65" y="930.47" font-size="11.3" text-anchor="middle" fill="#000" stroke="#000" stroke-width="0.15">40</text>
<line x1="106.38" y1="913.00" x2="106.38" y2="917.00" stroke="#000" stroke-width="1.4"/>
<text x="106.38" y="930.47" font-size="11.3" text-anchor="middle" fill="#000" stroke="#000" stroke-width="0.15">60</text>
<line x1="126.10" y1="913.00" x2="126.10" y2="917.00" stroke="#000" stroke-width="1.4"/>
<text x="126.10" y="930.47" font-size="11.3" text-anchor="middle" fill="#000" stroke="#000" stroke-width="0.15">80</text>
<text x="88.70" y="947.07" font-size="11.3" text-anchor="middle" fill="#000" stroke="#000" stroke-width="0.15">LncPEDS1-AS relative EXP</text>
<text x="19.90" y="883.27" font-size="11.3" text-anchor="middle" fill="#000" stroke="#000" stroke-width="0.15" transform="rotate(-90 19.90 879.20)">PEDS1 relative EXP</text>
<circle cx="79.53" cy="874.69" r="1.75" fill="#f0505a" stroke="none" stroke-width="0.6" fill-opacity="0.7"/>
<circle cx="91.08" cy="868.15" r="1.75" fill="#f0505a" stroke="none" stroke-width="0.6" fill-opacity="0.7"/>
<circle cx="82.74" cy="870.12" r="1.75" fill="#f0505a" stroke="none" stroke-width="0.6" fill-opacity="0.7"/>
<circle cx="75.53" cy="879.11" r="1.75" fill="#f0505a" stroke="none" stroke-width="0.6" fill-opacity="0.7"/>
<circle cx="91.14" cy="866.30" r="1.75" fill="#f0505a" stroke="none" stroke-width="0.6" fill-opacity="0.7"/>
<circle cx="62.67" cy="898.82" r="1.75" fill="#f0505a" stroke="none" stroke-width="0.6" fill-opacity="0.7"/>
<circle cx="75.62" cy="878.51" r="1.75" fill="#f0505a" stroke="none" stroke-width="0.6" fill-opacity="0.7"/>
<circle cx="78.32" cy="871.22" r="1.75" fill="#f0505a" stroke="none" stroke-width="0.6" fill-opacity="0.7"/>
<circle cx="54.42" cy="901.02" r="1.75" fill="#f0505a" stroke="none" stroke-width="0.6" fill-opacity="0.7"/>
<circle cx="89.56" cy="860.66" r="1.75" fill="#f0505a" stroke="none" stroke-width="0.6" fill-opacity="0.7"/>
<circle cx="83.54" cy="866.59" r="1.75" fill="#f0505a" stroke="none" stroke-width="0.6" fill-opacity="0.7"/>
<circle cx="64.01" cy="885.85" r="1.75" fill="#f0505a" stroke="none" stroke-width="0.6" fill-opacity="0.7"/>
<circle cx="79.39" cy="874.37" r="1.75" fill="#f0505a" stroke="none" stroke-width="0.6" fill-opacity="0.7"/>
<circle cx="87.41" cy="865.65" r="1.75" fill="#f0505a" stroke="none" stroke-width="0.6" fill-opacity="0.7"/>
<circle cx="67.17" cy="885.60" r="1.75" fill="#f0505a" stroke="none" stroke-width="0.6" fill-opacity="0.7"/>
<circle cx="87.46" cy="855.89" r="1.75" fill="#f0505a" stroke="none" stroke-width="0.6" fill-opacity="0.7"/>
<circle cx="70.16" cy="880.24" r="1.75" fill="#f0505a" stroke="none" stroke-width="0.6" fill-opacity="0.7"/>
<circle cx="80.96" cy="873.87" r="1.75" fill="#f0505a" stroke="none" stroke-width="0.6" fill-opacity="0.7"/>
<circle cx="66.98" cy="882.90" r="1.75" fill="#f0505a" stroke="none" stroke-width="0.6" fill-opacity="0.7"/>
<circle cx="92.84" cy="861.89" r="1.75" fill="#f0505a" stroke="none" stroke-width="0.6" fill-opacity="0.7"/>
<circle cx="88.42" cy="865.73" r="1.75" fill="#f0505a" stroke="none" stroke-width="0.6" fill-opacity="0.7"/>
<circle cx="65.30" cy="886.59" r="1.75" fill="#f0505a" stroke="none" stroke-width="0.6" fill-opacity="0.7"/>
<circle cx="64.35" cy="888.07" r="1.75" fill="#f0505a" stroke="none" stroke-width="0.6" fill-opacity="0.7"/>
<circle cx="79.03" cy="873.70" r="1.75" fill="#f0505a" stroke="none" stroke-width="0.6" fill-opacity="0.7"/>
<circle cx="52.32" cy="905.30" r="1.75" fill="#f0505a" stroke="none" stroke-width="0.6" fill-opacity="0.7"/>
<circle cx="70.86" cy="886.68" r="1.75" fill="#f0505a" stroke="none" stroke-width="0.6" fill-opacity="0.7"/>
<circle cx="85.33" cy="871.14" r="1.75" fill="#f0505a" stroke="none" stroke-width="0.6" fill-opacity="0.7"/>
<circle cx="75.95" cy="877.87" r="1.75" fill="#f0505a" stroke="none" stroke-width="0.6" fill-opacity="0.7"/>
<circle cx="81.71" cy="862.95" r="1.75" fill="#f0505a" stroke="none" stroke-width="0.6" fill-opacity="0.7"/>
<circle cx="55.78" cy="896.75" r="1.75" fill="#f0505a" stroke="none" stroke-width="0.6" fill-opacity="0.7"/>
<circle cx="83.04" cy="870.17" r="1.75" fill="#f0505a" stroke="none" stroke-width="0.6" fill-opacity="0.7"/>
<circle cx="84.26" cy="869.79" r="1.75" fill="#f0505a" stroke="none" stroke-width="0.6" fill-opacity="0.7"/>
<circle cx="72.66" cy="882.24" r="1.75" fill="#f0505a" stroke="none" stroke-width="0.6" fill-opacity="0.7"/>
<circle cx="58.20" cy="897.74" r="1.75" fill="#f0505a" stroke="none" stroke-width="0.6" fill-opacity="0.7"/>
<circle cx="65.97" cy="886.82" r="1.75" fill="#f0505a" stroke="none" stroke-width="0.6" fill-opacity="0.7"/>
<circle cx="83.23" cy="871.00" r="1.75" fill="#f0505a" stroke="none" stroke-width="0.6" fill-opacity="0.7"/>
<circle cx="90.30" cy="859.62" r="1.75" fill="#f0505a" stroke="none" stroke-width="0.6" fill-opacity="0.7"/>
<circle cx="72.30" cy="883.37" r="1.75" fill="#f0505a" stroke="none" stroke-width="0.6" fill-opacity="0.7"/>
<circle cx="77.09" cy="876.74" r="1.75" fill="#f0505a" stroke="none" stroke-width="0.6" fill-opacity="0.7"/>
<circle cx="83.00" cy="872.27" r="1.75" fill="#f0505a" stroke="none" stroke-width="0.6" fill-opacity="0.7"/>
<circle cx="84.58" cy="868.26" r="1.75" fill="#f0505a" stroke="none" stroke-width="0.6" fill-opacity="0.7"/>
<circle cx="91.30" cy="862.34" r="1.75" fill="#f0505a" stroke="none" stroke-width="0.6" fill-opacity="0.7"/>
<circle cx="61.38" cy="896.69" r="1.75" fill="#f0505a" stroke="none" stroke-width="0.6" fill-opacity="0.7"/>
<circle cx="89.65" cy="859.27" r="1.75" fill="#f0505a" stroke="none" stroke-width="0.6" fill-opacity="0.7"/>
<circle cx="71.84" cy="878.75" r="1.75" fill="#f0505a" stroke="none" stroke-width="0.6" fill-opacity="0.7"/>
<circle cx="70.94" cy="885.73" r="1.75" fill="#f0505a" stroke="none" stroke-width="0.6" fill-opacity="0.7"/>
<circle cx="71.08" cy="882.90" r="1.75" fill="#f0505a" stroke="none" stroke-width="0.6" fill-opacity="0.7"/>
<circle cx="64.50" cy="889.38" r="1.75" fill="#f0505a" stroke="none" stroke-width="0.6" fill-opacity="0.7"/>
<circle cx="81.27" cy="870.36" r="1.75" fill="#f0505a" stroke="none" stroke-width="0.6" fill-opacity="0.7"/>
<circle cx="58.35" cy="897.39" r="1.75" fill="#f0505a" stroke="none" stroke-width="0.6" fill-opacity="0.7"/>
<circle cx="94.92" cy="861.20" r="1.75" fill="#f0505a" stroke="none" stroke-width="0.6" fill-opacity="0.7"/>
<circle cx="68.27" cy="887.34" r="1.75" fill="#f0505a" stroke="none" stroke-width="0.6" fill-opacity="0.7"/>
<circle cx="78.81" cy="873.33" r="1.75" fill="#f0505a" stroke="none" stroke-width="0.6" fill-opacity="0.7"/>
<circle cx="74.30" cy="883.51" r="1.75" fill="#f0505a" stroke="none" stroke-width="0.6" fill-opacity="0.7"/>
<circle cx="58.93" cy="895.92" r="1.75" fill="#f0505a" stroke="none" stroke-width="0.6" fill-opacity="0.7"/>
<circle cx="76.28" cy="878.35" r="1.75" fill="#f0505a" stroke="none" stroke-width="0.6" fill-opacity="0.7"/>
<circle cx="86.07" cy="863.33" r="1.75" fill="#f0505a" stroke="none" stroke-width="0.6" fill-opacity="0.7"/>
<circle cx="91.57" cy="857.08" r="1.75" fill="#f0505a" stroke="none" stroke-width="0.6" fill-opacity="0.7"/>
<circle cx="79.71" cy="873.76" r="1.75" fill="#f0505a" stroke="none" stroke-width="0.6" fill-opacity="0.7"/>
<circle cx="74.67" cy="881.28" r="1.75" fill="#f0505a" stroke="none" stroke-width="0.6" fill-opacity="0.7"/>
<circle cx="64.52" cy="888.98" r="1.75" fill="#f0505a" stroke="none" stroke-width="0.6" fill-opacity="0.7"/>
<circle cx="75.19" cy="881.54" r="1.75" fill="#f0505a" stroke="none" stroke-width="0.6" fill-opacity="0.7"/>
<circle cx="61.99" cy="882.98" r="1.75" fill="#f0505a" stroke="none" stroke-width="0.6" fill-opacity="0.7"/>
<circle cx="112.29" cy="853.75" r="1.75" fill="#f0505a" stroke="none" stroke-width="0.6" fill-opacity="0.7"/>
<circle cx="103.42" cy="859.67" r="1.75" fill="#f0505a" stroke="none" stroke-width="0.6" fill-opacity="0.7"/>
<circle cx="102.43" cy="851.77" r="1.75" fill="#f0505a" stroke="none" stroke-width="0.6" fill-opacity="0.7"/>
<circle cx="52.13" cy="899.17" r="1.75" fill="#f0505a" stroke="none" stroke-width="0.6" fill-opacity="0.7"/>
<circle cx="57.06" cy="901.15" r="1.75" fill="#f0505a" stroke="none" stroke-width="0.6" fill-opacity="0.7"/>
<circle cx="66.92" cy="897.99" r="1.75" fill="#f0505a" stroke="none" stroke-width="0.6" fill-opacity="0.7"/>
<circle cx="70.87" cy="894.83" r="1.75" fill="#f0505a" stroke="none" stroke-width="0.6" fill-opacity="0.7"/>
<circle cx="76.79" cy="879.42" r="1.75" fill="#f0505a" stroke="none" stroke-width="0.6" fill-opacity="0.7"/>
<circle cx="79.75" cy="877.45" r="1.75" fill="#f0505a" stroke="none" stroke-width="0.6" fill-opacity="0.7"/>
<circle cx="74.81" cy="867.58" r="1.75" fill="#f0505a" stroke="none" stroke-width="0.6" fill-opacity="0.7"/>
<circle cx="79.75" cy="869.55" r="1.75" fill="#f0505a" stroke="none" stroke-width="0.6" fill-opacity="0.7"/>
<circle cx="84.68" cy="866.39" r="1.75" fill="#f0505a" stroke="none" stroke-width="0.6" fill-opacity="0.7"/>
<circle cx="91.58" cy="853.36" r="1.75" fill="#f0505a" stroke="none" stroke-width="0.6" fill-opacity="0.7"/>
<circle cx="94.54" cy="852.57" r="1.75" fill="#f0505a" stroke="none" stroke-width="0.6" fill-opacity="0.7"/>
<circle cx="96.51" cy="852.96" r="1.75" fill="#f0505a" stroke="none" stroke-width="0.6" fill-opacity="0.7"/>
<circle cx="92.57" cy="855.33" r="1.75" fill="#f0505a" stroke="none" stroke-width="0.6" fill-opacity="0.7"/>
<circle cx="49.17" cy="904.71" r="1.75" fill="#f0505a" stroke="none" stroke-width="0.6" fill-opacity="0.7"/>
<circle cx="71.86" cy="880.22" r="1.75" fill="#f0505a" stroke="none" stroke-width="0.6" fill-opacity="0.7"/>
<circle cx="72.84" cy="892.86" r="1.75" fill="#f0505a" stroke="none" stroke-width="0.6" fill-opacity="0.7"/>
<line x1="48.98" y1="907.52" x2="112.29" y2="838.80" stroke="#000" stroke-width="1.3"/>
<text x="160.50" y="787.60" font-size="12.5" text-anchor="start" font-weight="bold" fill="#000">O</text>
<line x1="216.50" y1="792.00" x2="216.50" y2="856.40" stroke="#000" stroke-width="1.4"/>
<line x1="215.80" y1="856.40" x2="342.90" y2="856.40" stroke="#000" stroke-width="1.4"/>
<line x1="212.50" y1="856.40" x2="216.50" y2="856.40" stroke="#000" stroke-width="1.4"/>
<text x="211.00" y="860.47" font-size="11.3" text-anchor="end" fill="#000" stroke="#000" stroke-width="0.15">0</text>
<line x1="212.50" y1="834.93" x2="216.50" y2="834.93" stroke="#000" stroke-width="1.4"/>
<text x="211.00" y="839.00" font-size="11.3" text-anchor="end" fill="#000" stroke="#000" stroke-width="0.15">0.5</text>
<line x1="212.50" y1="813.47" x2="216.50" y2="813.47" stroke="#000" stroke-width="1.4"/>
<text x="211.00" y="817.53" font-size="11.3" text-anchor="end" fill="#000" stroke="#000" stroke-width="0.15">1.0</text>
<line x1="212.50" y1="792.00" x2="216.50" y2="792.00" stroke="#000" stroke-width="1.4"/>
<text x="211.00" y="796.07" font-size="11.3" text-anchor="end" fill="#000" stroke="#000" stroke-width="0.15">1.5</text>
<text x="169.80" y="862.57" font-size="11.3" text-anchor="start" fill="#000" stroke="#000" stroke-width="0.15" transform="rotate(-90 169.80 858.50)">Relative</text>
<text x="184.00" y="862.57" font-size="11.3" text-anchor="start" fill="#000" stroke="#000" stroke-width="0.15" transform="rotate(-90 184.00 858.50)">Expression</text>
<rect x="221.00" y="813.47" width="10.00" height="42.93" fill="#97a9d3" stroke="none" stroke-width="1"/>
<line x1="226.00" y1="809.17" x2="226.00" y2="817.76" stroke="#7d8aa8" stroke-width="1.0"/>
<line x1="223.25" y1="809.17" x2="228.75" y2="809.17" stroke="#7d8aa8" stroke-width="1.0"/>
<line x1="223.25" y1="817.76" x2="228.75" y2="817.76" stroke="#7d8aa8" stroke-width="1.0"/>
<rect x="234.10" y="813.47" width="10.00" height="42.93" fill="#d9d0b7" stroke="none" stroke-width="1"/>
<line x1="239.10" y1="809.17" x2="239.10" y2="817.76" stroke="#a89f88" stroke-width="1.0"/>
<line x1="236.35" y1="809.17" x2="241.85" y2="809.17" stroke="#a89f88" stroke-width="1.0"/>
<line x1="236.35" y1="817.76" x2="241.85" y2="817.76" stroke="#a89f88" stroke-width="1.0"/>
<rect x="252.00" y="842.66" width="10.00" height="13.74" fill="#97a9d3" stroke="none" stroke-width="1"/>
<line x1="257.00" y1="841.37" x2="257.00" y2="843.95" stroke="#7d8aa8" stroke-width="1.0"/>
<line x1="254.25" y1="841.37" x2="259.75" y2="841.37" stroke="#7d8aa8" stroke-width="1.0"/>
<line x1="254.25" y1="843.95" x2="259.75" y2="843.95" stroke="#7d8aa8" stroke-width="1.0"/>
<rect x="265.10" y="846.95" width="10.00" height="9.45" fill="#d9d0b7" stroke="none" stroke-width="1"/>
<line x1="270.10" y1="845.24" x2="270.10" y2="848.67" stroke="#a89f88" stroke-width="1.0"/>
<line x1="267.35" y1="845.24" x2="272.85" y2="845.24" stroke="#a89f88" stroke-width="1.0"/>
<line x1="267.35" y1="848.67" x2="272.85" y2="848.67" stroke="#a89f88" stroke-width="1.0"/>
<rect x="283.00" y="813.47" width="10.00" height="42.93" fill="#97a9d3" stroke="none" stroke-width="1"/>
<line x1="288.00" y1="810.03" x2="288.00" y2="816.90" stroke="#7d8aa8" stroke-width="1.0"/>
<line x1="285.25" y1="810.03" x2="290.75" y2="810.03" stroke="#7d8aa8" stroke-width="1.0"/>
<line x1="285.25" y1="816.90" x2="290.75" y2="816.90" stroke="#7d8aa8" stroke-width="1.0"/>
<rect x="296.10" y="813.47" width="10.00" height="42.93" fill="#d9d0b7" stroke="none" stroke-width="1"/>
<line x1="301.10" y1="804.88" x2="301.10" y2="822.05" stroke="#a89f88" stroke-width="1.0"/>
<line x1="298.35" y1="804.88" x2="303.85" y2="804.88" stroke="#a89f88" stroke-width="1.0"/>
<line x1="298.35" y1="822.05" x2="303.85" y2="822.05" stroke="#a89f88" stroke-width="1.0"/>
<rect x="314.20" y="840.94" width="10.00" height="15.46" fill="#97a9d3" stroke="none" stroke-width="1"/>
<line x1="319.20" y1="839.66" x2="319.20" y2="842.23" stroke="#7d8aa8" stroke-width="1.0"/>
<line x1="316.45" y1="839.66" x2="321.95" y2="839.66" stroke="#7d8aa8" stroke-width="1.0"/>
<line x1="316.45" y1="842.23" x2="321.95" y2="842.23" stroke="#7d8aa8" stroke-width="1.0"/>
<rect x="327.10" y="842.23" width="10.00" height="14.17" fill="#d9d0b7" stroke="none" stroke-width="1"/>
<line x1="332.10" y1="841.59" x2="332.10" y2="842.88" stroke="#a89f88" stroke-width="1.0"/>
<line x1="329.35" y1="841.59" x2="334.85" y2="841.59" stroke="#a89f88" stroke-width="1.0"/>
<line x1="329.35" y1="842.88" x2="334.85" y2="842.88" stroke="#a89f88" stroke-width="1.0"/>
<line x1="232.50" y1="856.40" x2="232.50" y2="860.40" stroke="#000" stroke-width="1.4"/>
<line x1="263.00" y1="856.40" x2="263.00" y2="860.40" stroke="#000" stroke-width="1.4"/>
<line x1="294.00" y1="856.40" x2="294.00" y2="860.40" stroke="#000" stroke-width="1.4"/>
<line x1="325.60" y1="856.40" x2="325.60" y2="860.40" stroke="#000" stroke-width="1.4"/>
<text x="232.50" y="872.57" font-size="11.3" text-anchor="middle" fill="#000" stroke="#000" stroke-width="0.15">NC</text>
<text x="263.50" y="872.57" font-size="11.3" text-anchor="middle" fill="#000" stroke="#000" stroke-width="0.15">shLnc-1</text>
<text x="294.00" y="872.57" font-size="11.3" text-anchor="middle" fill="#000" stroke="#000" stroke-width="0.15">NC</text>
<text x="325.60" y="872.57" font-size="11.3" text-anchor="middle" fill="#000" stroke="#000" stroke-width="0.15">shLnc-1</text>
<text x="241.20" y="779.67" font-size="11.3" text-anchor="start" fill="#000" stroke="#000" stroke-width="0.15">EJ</text>
<text x="299.50" y="779.67" font-size="11.3" text-anchor="start" fill="#000" stroke="#000" stroke-width="0.15">T24</text>
<line x1="239.40" y1="796.00" x2="269.70" y2="796.00" stroke="#000" stroke-width="1.5"/>
<path transform="translate(254.50 786.60) rotate(0)" d="M-7.20 -2.70L-7.20 2.70M-9.54 -1.35L-4.86 1.35M-9.54 1.35L-4.86 -1.35M-0.00 -2.70L0.00 2.70M-2.34 -1.35L2.34 1.35M-2.34 1.35L2.34 -1.35M7.20 -2.70L7.20 2.70M4.86 -1.35L9.54 1.35M4.86 1.35L9.54 -1.35" stroke="#000" stroke-width="1.4" stroke-linecap="round" fill="none"/>
<line x1="301.20" y1="796.00" x2="331.80" y2="796.00" stroke="#000" stroke-width="1.5"/>
<path transform="translate(316.50 786.60) rotate(0)" d="M-3.60 -2.70L-3.60 2.70M-5.94 -1.35L-1.26 1.35M-5.94 1.35L-1.26 -1.35M3.60 -2.70L3.60 2.70M1.26 -1.35L5.94 1.35M1.26 1.35L5.94 -1.35" stroke="#000" stroke-width="1.4" stroke-linecap="round" fill="none"/>
<rect x="334.20" y="770.00" width="13.70" height="6.10" fill="#97a9d3" stroke="none" stroke-width="1"/>
<text x="352.90" y="777.07" font-size="11.3" text-anchor="start" fill="#000" stroke="#000" stroke-width="0.15">Lnc</text>
<rect x="334.20" y="786.50" width="13.70" height="6.30" fill="#d9d0b7" stroke="none" stroke-width="1"/>
<text x="352.90" y="793.77" font-size="11.3" text-anchor="start" fill="#000" stroke="#000" stroke-width="0.15">PEDS1</text>
<text x="160.00" y="881.50" font-size="12.5" text-anchor="start" font-weight="bold" fill="#000">P</text>
<rect x="228.60" y="876.60" width="106.00" height="24.90" fill="#e8e8e8" stroke="#111" stroke-width="1.2"/>
<ellipse cx="249.00" cy="885.90" rx="8.00" ry="1.40" fill="#111" opacity="0.95" filter="url(#bl1)"/>
<ellipse cx="269.40" cy="885.90" rx="8.00" ry="1.40" fill="#111" opacity="0.5" filter="url(#bl1)"/>
<ellipse cx="290.60" cy="885.90" rx="8.00" ry="1.40" fill="#111" opacity="0.65" filter="url(#bl1)"/>
<ellipse cx="311.80" cy="885.90" rx="8.00" ry="1.40" fill="#111" opacity="0.3" filter="url(#bl1)"/>
<ellipse cx="249.00" cy="895.60" rx="8.00" ry="2.25" fill="#333" opacity="0.2" filter="url(#bl2)"/>
<ellipse cx="269.40" cy="895.60" rx="8.00" ry="2.25" fill="#333" opacity="0.12" filter="url(#bl2)"/>
<ellipse cx="290.60" cy="895.60" rx="8.00" ry="2.25" fill="#333" opacity="0.1" filter="url(#bl2)"/>
<ellipse cx="311.80" cy="895.60" rx="8.00" ry="2.25" fill="#333" opacity="0.06" filter="url(#bl2)"/>
<rect x="228.60" y="906.10" width="106.00" height="24.00" fill="#dadada" stroke="#111" stroke-width="1.2"/>
<rect x="241.25" y="914.80" width="15.50" height="6.00" rx="2.70" fill="#080808" opacity="1.0" filter="url(#bl1)"/>
<rect x="261.65" y="914.80" width="15.50" height="6.00" rx="2.70" fill="#080808" opacity="1.0" filter="url(#bl1)"/>
<rect x="282.85" y="914.80" width="15.50" height="6.00" rx="2.70" fill="#080808" opacity="1.0" filter="url(#bl1)"/>
<rect x="304.05" y="914.80" width="15.50" height="6.00" rx="2.70" fill="#080808" opacity="1.0" filter="url(#bl1)"/>
<text x="185.70" y="893.27" font-size="11.3" text-anchor="start" fill="#000" stroke="#000" stroke-width="0.15">PEDS1</text>
<text x="184.80" y="924.07" font-size="11.3" text-anchor="start" fill="#000" stroke="#000" stroke-width="0.15">Tubulin</text>
<line x1="334.60" y1="889.20" x2="337.80" y2="889.20" stroke="#000" stroke-width="1.2"/>
<text x="337.50" y="893.47" font-size="11.3" text-anchor="start" fill="#000" stroke="#000" stroke-width="0.15">25</text>
<text x="349.5" y="885.5" font-size="11.3">(kd)</text>
<line x1="334.60" y1="925.70" x2="337.80" y2="925.70" stroke="#000" stroke-width="1.2"/>
<text x="337.50" y="929.97" font-size="11.3" text-anchor="start" fill="#000" stroke="#000" stroke-width="0.15">50</text>
<text x="247.60" y="942.37" font-size="11.3" text-anchor="middle" fill="#000" stroke="#000" stroke-width="0.15">NC</text>
<text x="271.00" y="942.37" font-size="11.3" text-anchor="middle" fill="#000" stroke="#000" stroke-width="0.15">sh1</text>
<text x="291.30" y="942.37" font-size="11.3" text-anchor="middle" fill="#000" stroke="#000" stroke-width="0.15">NC</text>
<text x="313.30" y="942.37" font-size="11.3" text-anchor="middle" fill="#000" stroke="#000" stroke-width="0.15">sh1</text>
<line x1="245.50" y1="944.70" x2="279.10" y2="944.70" stroke="#000" stroke-width="1.3"/>
<line x1="287.00" y1="944.70" x2="321.50" y2="944.70" stroke="#000" stroke-width="1.3"/>
<text x="260.70" y="958.07" font-size="11.3" text-anchor="middle" fill="#000" stroke="#000" stroke-width="0.15">EJ</text>
<text x="305.50" y="958.07" font-size="11.3" text-anchor="middle" fill="#000" stroke="#000" stroke-width="0.15">T24</text>
<text x="388.50" y="736.00" font-size="12.5" text-anchor="start" font-weight="bold" fill="#000">Q</text>
<line x1="445.10" y1="745.50" x2="445.10" y2="830.90" stroke="#000" stroke-width="1.4"/>
<line x1="444.40" y1="830.90" x2="672.30" y2="830.90" stroke="#000" stroke-width="1.4"/>
<line x1="441.10" y1="830.90" x2="445.10" y2="830.90" stroke="#000" stroke-width="1.4"/>
<text x="439.60" y="834.97" font-size="11.3" text-anchor="end" fill="#000" stroke="#000" stroke-width="0.15">0</text>
<line x1="441.10" y1="802.43" x2="445.10" y2="802.43" stroke="#000" stroke-width="1.4"/>
<text x="439.60" y="806.50" font-size="11.3" text-anchor="end" fill="#000" stroke="#000" stroke-width="0.15">2</text>
<line x1="441.10" y1="773.97" x2="445.10" y2="773.97" stroke="#000" stroke-width="1.4"/>
<text x="439.60" y="778.03" font-size="11.3" text-anchor="end" fill="#000" stroke="#000" stroke-width="0.15">4</text>
<line x1="441.10" y1="745.50" x2="445.10" y2="745.50" stroke="#000" stroke-width="1.4"/>
<text x="439.60" y="749.57" font-size="11.3" text-anchor="end" fill="#000" stroke="#000" stroke-width="0.15">6</text>
<text x="418.30" y="795.57" font-size="11.3" text-anchor="middle" fill="#000" stroke="#000" stroke-width="0.15" transform="rotate(-90 418.30 791.50)">MDA levels(nmol)</text>
<rect x="447.20" y="801.01" width="9.70" height="29.89" fill="#97a9d3" stroke="none" stroke-width="1"/>
<line x1="452.05" y1="799.30" x2="452.05" y2="802.72" stroke="#7d8aa8" stroke-width="1.0"/>
<line x1="449.30" y1="799.30" x2="454.80" y2="799.30" stroke="#7d8aa8" stroke-width="1.0"/>
<line x1="449.30" y1="802.72" x2="454.80" y2="802.72" stroke="#7d8aa8" stroke-width="1.0"/>
<rect x="458.80" y="791.76" width="9.90" height="39.14" fill="#d9d0b7" stroke="none" stroke-width="1"/>
<line x1="463.75" y1="791.19" x2="463.75" y2="792.33" stroke="#a89f88" stroke-width="1.0"/>
<line x1="461.00" y1="791.19" x2="466.50" y2="791.19" stroke="#a89f88" stroke-width="1.0"/>
<line x1="461.00" y1="792.33" x2="466.50" y2="792.33" stroke="#a89f88" stroke-width="1.0"/>
<rect x="474.00" y="801.72" width="10.00" height="29.18" fill="#97a9d3" stroke="none" stroke-width="1"/>
<line x1="479.00" y1="800.30" x2="479.00" y2="803.14" stroke="#7d8aa8" stroke-width="1.0"/>
<line x1="476.25" y1="800.30" x2="481.75" y2="800.30" stroke="#7d8aa8" stroke-width="1.0"/>
<line x1="476.25" y1="803.14" x2="481.75" y2="803.14" stroke="#7d8aa8" stroke-width="1.0"/>
<rect x="485.80" y="801.72" width="9.70" height="29.18" fill="#d9d0b7" stroke="none" stroke-width="1"/>
<line x1="490.65" y1="801.01" x2="490.65" y2="802.43" stroke="#a89f88" stroke-width="1.0"/>
<line x1="487.90" y1="801.01" x2="493.40" y2="801.01" stroke="#a89f88" stroke-width="1.0"/>
<line x1="487.90" y1="802.43" x2="493.40" y2="802.43" stroke="#a89f88" stroke-width="1.0"/>
<rect x="500.80" y="786.06" width="10.00" height="44.84" fill="#97a9d3" stroke="none" stroke-width="1"/>
<line x1="505.80" y1="785.21" x2="505.80" y2="786.92" stroke="#7d8aa8" stroke-width="1.0"/>
<line x1="503.05" y1="785.21" x2="508.55" y2="785.21" stroke="#7d8aa8" stroke-width="1.0"/>
<line x1="503.05" y1="786.92" x2="508.55" y2="786.92" stroke="#7d8aa8" stroke-width="1.0"/>
<rect x="512.90" y="749.06" width="10.10" height="81.84" fill="#d9d0b7" stroke="none" stroke-width="1"/>
<line x1="517.95" y1="747.92" x2="517.95" y2="750.20" stroke="#a89f88" stroke-width="1.0"/>
<line x1="515.20" y1="747.92" x2="520.70" y2="747.92" stroke="#a89f88" stroke-width="1.0"/>
<line x1="515.20" y1="750.20" x2="520.70" y2="750.20" stroke="#a89f88" stroke-width="1.0"/>
<rect x="528.40" y="801.72" width="9.40" height="29.18" fill="#97a9d3" stroke="none" stroke-width="1"/>
<line x1="533.10" y1="800.58" x2="533.10" y2="802.86" stroke="#7d8aa8" stroke-width="1.0"/>
<line x1="530.35" y1="800.58" x2="535.85" y2="800.58" stroke="#7d8aa8" stroke-width="1.0"/>
<line x1="530.35" y1="802.86" x2="535.85" y2="802.86" stroke="#7d8aa8" stroke-width="1.0"/>
<rect x="540.50" y="801.72" width="9.50" height="29.18" fill="#d9d0b7" stroke="none" stroke-width="1"/>
<line x1="545.25" y1="800.73" x2="545.25" y2="802.72" stroke="#a89f88" stroke-width="1.0"/>
<line x1="542.50" y1="800.73" x2="548.00" y2="800.73" stroke="#a89f88" stroke-width="1.0"/>
<line x1="542.50" y1="802.72" x2="548.00" y2="802.72" stroke="#a89f88" stroke-width="1.0"/>
<rect x="564.30" y="799.59" width="9.20" height="31.31" fill="#97a9d3" stroke="none" stroke-width="1"/>
<line x1="568.90" y1="799.16" x2="568.90" y2="800.01" stroke="#7d8aa8" stroke-width="1.0"/>
<line x1="566.15" y1="799.16" x2="571.65" y2="799.16" stroke="#7d8aa8" stroke-width="1.0"/>
<line x1="566.15" y1="800.01" x2="571.65" y2="800.01" stroke="#7d8aa8" stroke-width="1.0"/>
<rect x="577.00" y="793.18" width="8.90" height="37.72" fill="#d9d0b7" stroke="none" stroke-width="1"/>
<line x1="581.45" y1="792.75" x2="581.45" y2="793.61" stroke="#a89f88" stroke-width="1.0"/>
<line x1="578.70" y1="792.75" x2="584.20" y2="792.75" stroke="#a89f88" stroke-width="1.0"/>
<line x1="578.70" y1="793.61" x2="584.20" y2="793.61" stroke="#a89f88" stroke-width="1.0"/>
<rect x="591.30" y="802.43" width="9.20" height="28.47" fill="#97a9d3" stroke="none" stroke-width="1"/>
<line x1="595.90" y1="801.01" x2="595.90" y2="803.86" stroke="#7d8aa8" stroke-width="1.0"/>
<line x1="593.15" y1="801.01" x2="598.65" y2="801.01" stroke="#7d8aa8" stroke-width="1.0"/>
<line x1="593.15" y1="803.86" x2="598.65" y2="803.86" stroke="#7d8aa8" stroke-width="1.0"/>
<rect x="604.00" y="801.01" width="8.90" height="29.89" fill="#d9d0b7" stroke="none" stroke-width="1"/>
<line x1="608.45" y1="799.02" x2="608.45" y2="803.00" stroke="#a89f88" stroke-width="1.0"/>
<line x1="605.70" y1="799.02" x2="611.20" y2="799.02" stroke="#a89f88" stroke-width="1.0"/>
<line x1="605.70" y1="803.00" x2="611.20" y2="803.00" stroke="#a89f88" stroke-width="1.0"/>
<rect x="618.80" y="786.06" width="8.90" height="44.84" fill="#97a9d3" stroke="none" stroke-width="1"/>
<line x1="623.25" y1="784.64" x2="623.25" y2="787.49" stroke="#7d8aa8" stroke-width="1.0"/>
<line x1="620.50" y1="784.64" x2="626.00" y2="784.64" stroke="#7d8aa8" stroke-width="1.0"/>
<line x1="620.50" y1="787.49" x2="626.00" y2="787.49" stroke="#7d8aa8" stroke-width="1.0"/>
<rect x="631.00" y="757.60" width="8.90" height="73.30" fill="#d9d0b7" stroke="none" stroke-width="1"/>
<line x1="635.45" y1="756.74" x2="635.45" y2="758.45" stroke="#a89f88" stroke-width="1.0"/>
<line x1="632.70" y1="756.74" x2="638.20" y2="756.74" stroke="#a89f88" stroke-width="1.0"/>
<line x1="632.70" y1="758.45" x2="638.20" y2="758.45" stroke="#a89f88" stroke-width="1.0"/>
<rect x="645.80" y="798.88" width="8.90" height="32.02" fill="#97a9d3" stroke="none" stroke-width="1"/>
<line x1="650.25" y1="797.88" x2="650.25" y2="799.87" stroke="#7d8aa8" stroke-width="1.0"/>
<line x1="647.50" y1="797.88" x2="653.00" y2="797.88" stroke="#7d8aa8" stroke-width="1.0"/>
<line x1="647.50" y1="799.87" x2="653.00" y2="799.87" stroke="#7d8aa8" stroke-width="1.0"/>
<rect x="658.00" y="796.74" width="8.90" height="34.16" fill="#d9d0b7" stroke="none" stroke-width="1"/>
<line x1="662.45" y1="796.03" x2="662.45" y2="797.45" stroke="#a89f88" stroke-width="1.0"/>
<line x1="659.70" y1="796.03" x2="665.20" y2="796.03" stroke="#a89f88" stroke-width="1.0"/>
<line x1="659.70" y1="797.45" x2="665.20" y2="797.45" stroke="#a89f88" stroke-width="1.0"/>
<line x1="458.00" y1="830.90" x2="458.00" y2="834.90" stroke="#000" stroke-width="1.4"/>
<line x1="484.80" y1="830.90" x2="484.80" y2="834.90" stroke="#000" stroke-width="1.4"/>
<line x1="511.30" y1="830.90" x2="511.30" y2="834.90" stroke="#000" stroke-width="1.4"/>
<line x1="539.20" y1="830.90" x2="539.20" y2="834.90" stroke="#000" stroke-width="1.4"/>
<line x1="575.00" y1="830.90" x2="575.00" y2="834.90" stroke="#000" stroke-width="1.4"/>
<line x1="602.00" y1="830.90" x2="602.00" y2="834.90" stroke="#000" stroke-width="1.4"/>
<line x1="629.00" y1="830.90" x2="629.00" y2="834.90" stroke="#000" stroke-width="1.4"/>
<line x1="656.00" y1="830.90" x2="656.00" y2="834.90" stroke="#000" stroke-width="1.4"/>
<text x="449.40" y="851.87" font-size="11.3" text-anchor="middle" fill="#000" stroke="#000" stroke-width="0.15" transform="rotate(-30 449.40 847.80)">DMSO</text>
<text x="473.90" y="851.87" font-size="11.3" text-anchor="middle" fill="#000" stroke="#000" stroke-width="0.15" transform="rotate(-30 473.90 847.80)">Apocynin</text>
<text x="507.10" y="852.37" font-size="11.3" text-anchor="middle" fill="#000" stroke="#000" stroke-width="0.15" transform="rotate(-30 507.10 848.30)">RSL3</text>
<text x="526.50" y="852.87" font-size="11.3" text-anchor="middle" fill="#000" stroke="#000" stroke-width="0.15" transform="rotate(-30 526.50 848.80)">Apocynin</text>
<text x="536.50" y="862.27" font-size="11.3" text-anchor="middle" fill="#000" stroke="#000" stroke-width="0.15" transform="rotate(-30 536.50 858.20)">+RSL3</text>
<text x="570.00" y="853.07" font-size="11.3" text-anchor="middle" fill="#000" stroke="#000" stroke-width="0.15" transform="rotate(-30 570.00 849.00)">DMSO</text>
<text x="594.60" y="852.57" font-size="11.3" text-anchor="middle" fill="#000" stroke="#000" stroke-width="0.15" transform="rotate(-30 594.60 848.50)">Apocynin</text>
<text x="625.70" y="853.57" font-size="11.3" text-anchor="middle" fill="#000" stroke="#000" stroke-width="0.15" transform="rotate(-30 625.70 849.50)">RSL3</text>
<text x="649.30" y="853.07" font-size="11.3" text-anchor="middle" fill="#000" stroke="#000" stroke-width="0.15" transform="rotate(-30 649.30 849.00)">Apocynin</text>
<text x="661.00" y="862.27" font-size="11.3" text-anchor="middle" fill="#000" stroke="#000" stroke-width="0.15" transform="rotate(-30 661.00 858.20)">+RSL3</text>
<line x1="457.00" y1="868.80" x2="536.50" y2="868.80" stroke="#000" stroke-width="1.3"/>
<line x1="575.00" y1="868.80" x2="654.50" y2="868.80" stroke="#000" stroke-width="1.3"/>
<text x="497.00" y="881.47" font-size="11.3" text-anchor="middle" fill="#000" stroke="#000" stroke-width="0.15">EJ</text>
<text x="616.80" y="882.47" font-size="11.3" text-anchor="middle" fill="#000" stroke="#000" stroke-width="0.15">T24</text>
<line x1="451.70" y1="739.70" x2="505.50" y2="739.70" stroke="#000" stroke-width="1.5"/>
<path transform="translate(478.60 732.90) rotate(0)" d="M-6.60 -2.35L-6.60 2.35M-8.64 -1.17L-4.56 1.17M-8.64 1.17L-4.56 -1.17M-0.00 -2.35L0.00 2.35M-2.04 -1.17L2.04 1.17M-2.04 1.17L2.04 -1.17M6.60 -2.35L6.60 2.35M4.56 -1.17L8.64 1.17M4.56 1.17L8.64 -1.17" stroke="#000" stroke-width="1.25" stroke-linecap="round" fill="none"/>
<line x1="463.50" y1="755.20" x2="491.10" y2="755.20" stroke="#000" stroke-width="1.5"/>
<path transform="translate(477.30 748.40) rotate(0)" d="M-9.90 -2.35L-9.90 2.35M-11.94 -1.17L-7.86 1.17M-11.94 1.17L-7.86 -1.17M-3.30 -2.35L-3.30 2.35M-5.34 -1.17L-1.26 1.17M-5.34 1.17L-1.26 -1.17M3.30 -2.35L3.30 2.35M1.26 -1.17L5.34 1.17M1.26 1.17L5.34 -1.17M9.90 -2.35L9.90 2.35M7.86 -1.17L11.94 1.17M7.86 1.17L11.94 -1.17" stroke="#000" stroke-width="1.25" stroke-linecap="round" fill="none"/>
<line x1="451.70" y1="784.90" x2="464.00" y2="784.90" stroke="#000" stroke-width="1.5"/>
<path transform="translate(457.85 778.10) rotate(0)" d="M-3.30 -2.35L-3.30 2.35M-5.34 -1.17L-1.26 1.17M-5.34 1.17L-1.26 -1.17M3.30 -2.35L3.30 2.35M1.26 -1.17L5.34 1.17M1.26 1.17L5.34 -1.17" stroke="#000" stroke-width="1.25" stroke-linecap="round" fill="none"/>
<line x1="478.70" y1="790.10" x2="491.10" y2="790.10" stroke="#000" stroke-width="1.5"/>
<text x="484.90" y="786.36" font-size="8.5" text-anchor="middle" fill="#000" stroke="#000" stroke-width="0.15">ns</text>
<line x1="518.40" y1="739.20" x2="544.60" y2="739.20" stroke="#000" stroke-width="1.5"/>
<path transform="translate(531.50 732.40) rotate(0)" d="M-9.90 -2.35L-9.90 2.35M-11.94 -1.17L-7.86 1.17M-11.94 1.17L-7.86 -1.17M-3.30 -2.35L-3.30 2.35M-5.34 -1.17L-1.26 1.17M-5.34 1.17L-1.26 -1.17M3.30 -2.35L3.30 2.35M1.26 -1.17L5.34 1.17M1.26 1.17L5.34 -1.17M9.90 -2.35L9.90 2.35M7.86 -1.17L11.94 1.17M7.86 1.17L11.94 -1.17" stroke="#000" stroke-width="1.25" stroke-linecap="round" fill="none"/>
<line x1="533.00" y1="790.50" x2="544.60" y2="790.50" stroke="#000" stroke-width="1.5"/>
<text x="538.80" y="786.76" font-size="8.5" text-anchor="middle" fill="#000" stroke="#000" stroke-width="0.15">ns</text>
<line x1="568.90" y1="739.20" x2="622.90" y2="739.20" stroke="#000" stroke-width="1.5"/>
<path transform="translate(595.90 732.40) rotate(0)" d="M-9.90 -2.35L-9.90 2.35M-11.94 -1.17L-7.86 1.17M-11.94 1.17L-7.86 -1.17M-3.30 -2.35L-3.30 2.35M-5.34 -1.17L-1.26 1.17M-5.34 1.17L-1.26 -1.17M3.30 -2.35L3.30 2.35M1.26 -1.17L5.34 1.17M1.26 1.17L5.34 -1.17M9.90 -2.35L9.90 2.35M7.86 -1.17L11.94 1.17M7.86 1.17L11.94 -1.17" stroke="#000" stroke-width="1.25" stroke-linecap="round" fill="none"/>
<line x1="581.00" y1="755.40" x2="608.00" y2="755.40" stroke="#000" stroke-width="1.5"/>
<path transform="translate(594.50 748.60) rotate(0)" d="M-3.30 -2.35L-3.30 2.35M-5.34 -1.17L-1.26 1.17M-5.34 1.17L-1.26 -1.17M3.30 -2.35L3.30 2.35M1.26 -1.17L5.34 1.17M1.26 1.17L5.34 -1.17" stroke="#000" stroke-width="1.25" stroke-linecap="round" fill="none"/>
<line x1="568.90" y1="784.30" x2="580.50" y2="784.30" stroke="#000" stroke-width="1.5"/>
<path transform="translate(574.70 777.50) rotate(0)" d="M-9.90 -2.35L-9.90 2.35M-11.94 -1.17L-7.86 1.17M-11.94 1.17L-7.86 -1.17M-3.30 -2.35L-3.30 2.35M-5.34 -1.17L-1.26 1.17M-5.34 1.17L-1.26 -1.17M3.30 -2.35L3.30 2.35M1.26 -1.17L5.34 1.17M1.26 1.17L5.34 -1.17M9.90 -2.35L9.90 2.35M7.86 -1.17L11.94 1.17M7.86 1.17L11.94 -1.17" stroke="#000" stroke-width="1.25" stroke-linecap="round" fill="none"/>
<line x1="595.90" y1="790.50" x2="608.00" y2="790.50" stroke="#000" stroke-width="1.5"/>
<text x="601.95" y="786.76" font-size="8.5" text-anchor="middle" fill="#000" stroke="#000" stroke-width="0.15">ns</text>
<line x1="635.00" y1="739.20" x2="661.50" y2="739.20" stroke="#000" stroke-width="1.5"/>
<path transform="translate(648.25 732.40) rotate(0)" d="M-9.90 -2.35L-9.90 2.35M-11.94 -1.17L-7.86 1.17M-11.94 1.17L-7.86 -1.17M-3.30 -2.35L-3.30 2.35M-5.34 -1.17L-1.26 1.17M-5.34 1.17L-1.26 -1.17M3.30 -2.35L3.30 2.35M1.26 -1.17L5.34 1.17M1.26 1.17L5.34 -1.17M9.90 -2.35L9.90 2.35M7.86 -1.17L11.94 1.17M7.86 1.17L11.94 -1.17" stroke="#000" stroke-width="1.25" stroke-linecap="round" fill="none"/>
<line x1="649.90" y1="787.00" x2="662.00" y2="787.00" stroke="#000" stroke-width="1.5"/>
<path transform="translate(655.95 780.20) rotate(0)" d="M-0.00 -2.35L0.00 2.35M-2.04 -1.17L2.04 1.17M-2.04 1.17L2.04 -1.17" stroke="#000" stroke-width="1.25" stroke-linecap="round" fill="none"/>
<rect x="440.40" y="719.20" width="15.20" height="6.60" fill="#97a9d3" stroke="none" stroke-width="1"/>
<text x="460.90" y="726.57" font-size="11.3" text-anchor="start" fill="#000" stroke="#000" stroke-width="0.15">NC</text>
<rect x="497.60" y="719.20" width="14.60" height="6.60" fill="#d9d0b7" stroke="none" stroke-width="1"/>
<text x="518.40" y="726.57" font-size="11.3" text-anchor="start" fill="#000" stroke="#000" stroke-width="0.15">shLnc</text>
<text x="388.00" y="882.40" font-size="12.5" text-anchor="start" font-weight="bold" fill="#000">R</text>
<text x="452.30" y="886.57" font-size="11.3" text-anchor="start" fill="#000" stroke="#000" stroke-width="0.15">EJ</text>
<rect x="452.30" y="888.20" width="75.20" height="27.60" fill="#e9e9e9" stroke="#111" stroke-width="1.2"/>
<ellipse cx="474.80" cy="902.50" rx="10.50" ry="2.75" fill="#222" opacity="0.55" filter="url(#bl2)"/>
<ellipse cx="505.50" cy="900.80" rx="11.00" ry="3.50" fill="#111" opacity="0.75" filter="url(#bl2)"/>
<rect x="452.30" y="920.40" width="75.20" height="20.80" fill="#e2e2e2" stroke="#111" stroke-width="1.2"/>
<rect x="464.80" y="927.25" width="20.00" height="6.50" rx="2.93" fill="#080808" opacity="1.0" filter="url(#bl1)"/>
<rect x="495.50" y="926.20" width="20.00" height="6.20" rx="2.79" fill="#080808" opacity="1.0" filter="url(#bl1)"/>
<text x="412.00" y="906.97" font-size="11.3" text-anchor="start" fill="#000" stroke="#000" stroke-width="0.15">PMP70</text>
<text x="412.00" y="933.57" font-size="11.3" text-anchor="start" fill="#000" stroke="#000" stroke-width="0.15">Tubulin</text>
<text x="529.20" y="895.07" font-size="11.3" text-anchor="start" fill="#000" stroke="#000" stroke-width="0.15">(kd)</text>
<line x1="527.50" y1="914.00" x2="531.00" y2="914.00" stroke="#000" stroke-width="1.2"/>
<text x="530.80" y="918.27" font-size="11.3" text-anchor="start" fill="#000" stroke="#000" stroke-width="0.15">70</text>
<line x1="527.50" y1="940.50" x2="531.00" y2="940.50" stroke="#000" stroke-width="1.2"/>
<text x="530.80" y="944.77" font-size="11.3" text-anchor="start" fill="#000" stroke="#000" stroke-width="0.15">50</text>
<text x="474.80" y="954.57" font-size="11.3" text-anchor="middle" fill="#000" stroke="#000" stroke-width="0.15">NC</text>
<text x="494.20" y="954.07" font-size="11.3" text-anchor="start" fill="#000" stroke="#000" stroke-width="0.15">shLnc</text>
<text x="585.90" y="887.07" font-size="11.3" text-anchor="start" fill="#000" stroke="#000" stroke-width="0.15">T24</text>
<rect x="587.80" y="888.20" width="75.60" height="27.20" fill="#ebebeb" stroke="#111" stroke-width="1.2"/>
<ellipse cx="613.40" cy="903.60" rx="11.00" ry="2.00" fill="#111" opacity="0.75" filter="url(#bl1)"/>
<ellipse cx="640.40" cy="903.60" rx="11.50" ry="2.75" fill="#080808" opacity="0.95" filter="url(#bl1)"/>
<rect x="587.80" y="919.40" width="75.60" height="21.60" fill="#d8d8d8" stroke="#111" stroke-width="1.2"/>
<rect x="603.40" y="927.10" width="20.00" height="6.20" rx="2.79" fill="#080808" opacity="1.0" filter="url(#bl1)"/>
<rect x="630.40" y="927.10" width="20.00" height="6.20" rx="2.79" fill="#080808" opacity="1.0" filter="url(#bl1)"/>
<text x="549.10" y="906.77" font-size="11.3" text-anchor="start" fill="#000" stroke="#000" stroke-width="0.15">PMP70</text>
<text x="549.10" y="934.87" font-size="11.3" text-anchor="start" fill="#000" stroke="#000" stroke-width="0.15">Tubulin</text>
<text x="664.20" y="895.07" font-size="11.3" text-anchor="start" fill="#000" stroke="#000" stroke-width="0.15">(kd)</text>
<line x1="663.40" y1="914.00" x2="667.00" y2="914.00" stroke="#000" stroke-width="1.2"/>
<text x="666.80" y="918.27" font-size="11.3" text-anchor="start" fill="#000" stroke="#000" stroke-width="0.15">70</text>
<line x1="663.40" y1="940.50" x2="667.00" y2="940.50" stroke="#000" stroke-width="1.2"/>
<text x="666.80" y="944.77" font-size="11.3" text-anchor="start" fill="#000" stroke="#000" stroke-width="0.15">50</text>
<text x="633.60" y="954.57" font-size="11.3" text-anchor="middle" fill="#000" stroke="#000" stroke-width="0.15">NC shLnc</text>
</svg></body></html>
